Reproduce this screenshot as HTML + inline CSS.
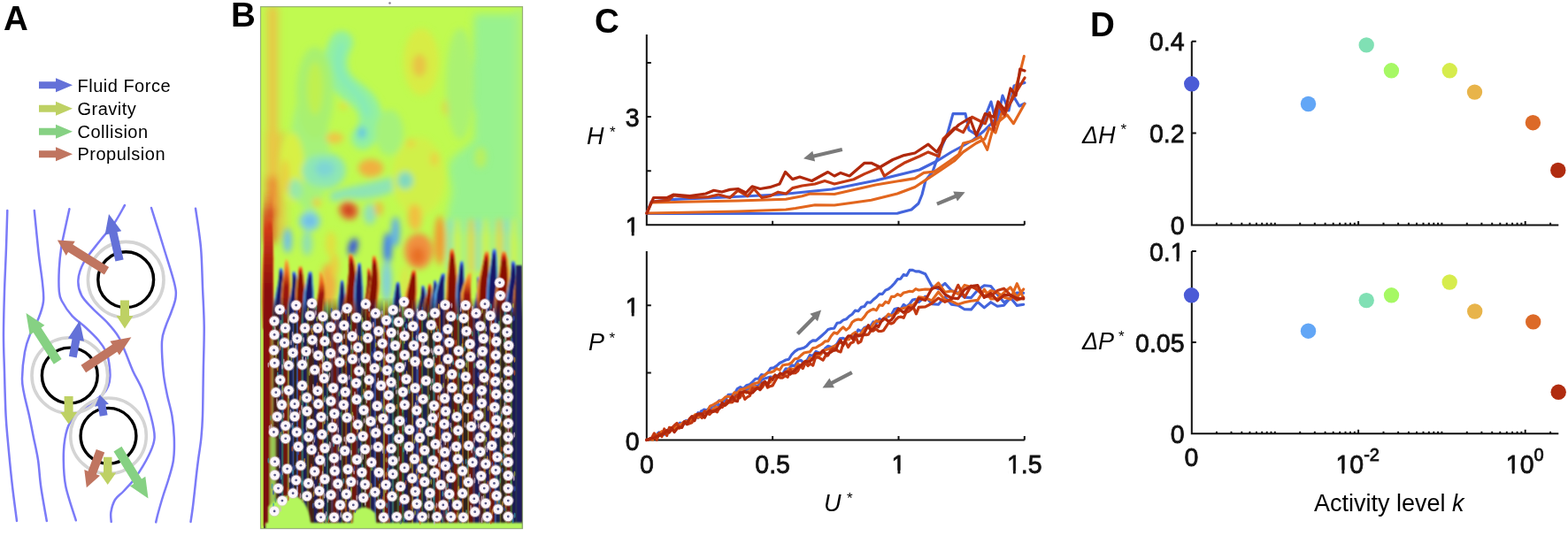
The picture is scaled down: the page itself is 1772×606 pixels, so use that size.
<!DOCTYPE html>
<html><head><meta charset="utf-8"><title>Figure</title>
<style>
html,body{margin:0;padding:0;background:#fff;}
body{width:1772px;height:606px;overflow:hidden;}
svg{display:block;}
text{font-family:"Liberation Sans",Arial,Helvetica,sans-serif;fill:#000;}
.lbl{font-size:38.5px;font-weight:bold;}
.leg{font-size:20px;letter-spacing:0.5px;}
.tk{font-size:28.5px;fill:#111;stroke:#111;stroke-width:0.75px;}
.sup{font-size:20px;}
.it{font-size:27px;font-style:italic;}
.ast{font-size:17px;}
.xl{font-size:27px;}
</style></head><body>
<svg width="1772" height="606" viewBox="0 0 1772 606">
<rect width="1772" height="606" fill="#fff"/>
<text x="4" y="34" class="lbl">A</text>
<polygon points="44,100.3 63,100.3 63,104.3 82,96.3 63,88.3 63,92.3 44,92.3" fill="#6471d8"/>
<text x="87.5" y="104" class="leg">Fluid Force</text>
<polygon points="44,126.7 63,126.7 63,130.7 82,122.7 63,114.7 63,118.7 44,118.7" fill="#bed164"/>
<text x="87.5" y="130" class="leg">Gravity</text>
<polygon points="44,152.7 63,152.7 63,156.7 82,148.7 63,140.7 63,144.7 44,144.7" fill="#86d183"/>
<text x="87.5" y="155.5" class="leg">Collision</text>
<polygon points="44,178.2 63,178.2 63,182.2 82,174.2 63,166.2 63,170.2 44,170.2" fill="#c07560"/>
<text x="87.5" y="181" class="leg">Propulsion</text>
<path d="M8.3,238 C8.1,245 7.5,264.7 7,280 C6.5,295.3 5.5,313.3 5,330 C4.5,346.7 4,365 4,380 C4,395 4.6,405 5,420 C5.4,435 5.9,456.7 6.6,470 C7.3,483.3 7.8,486.7 9,500 C10.2,513.3 12.3,535.2 14,550 C15.7,564.8 18.2,582.5 19,589" fill="none" stroke="#7b7bf8" stroke-width="2.5" stroke-linecap="round"/>
<path d="M38.8,238 C39.6,245.8 42,271.3 43.5,285 C45,298.7 47.1,310.7 48,320 C48.9,329.3 49.8,334.3 49,341 C48.2,347.7 46,353.8 43.5,360 C41,366.2 36.6,371.7 34,378 C31.4,384.3 29.5,389.7 28,398 C26.5,406.3 25.1,420.2 25,428 C24.9,435.8 25.9,438 27.2,445 C28.5,452 31.2,461.7 33,470 C34.8,478.3 36.3,486.7 38,495 C39.7,503.3 41.6,510.8 43,520 C44.4,529.2 44.6,538.5 46.2,550 C47.8,561.5 51.7,582.5 52.8,589" fill="none" stroke="#7b7bf8" stroke-width="2.5" stroke-linecap="round"/>
<path d="M78.4,236.3 C77.4,240.8 74.1,255.8 72.6,263 C71.1,270.2 70.3,272.7 69.3,279.5 C68.3,286.3 67.2,295.8 66.8,304 C66.4,312.2 66.3,323 66.8,329 C67.3,335 67.2,335.3 69.7,340 C72.2,344.7 77,352.2 81.5,357.2 C86,362.2 91.5,365.4 96.5,370 C101.5,374.6 107.6,380.3 111.5,385 C115.4,389.7 118.1,393.7 120.1,398 C122.1,402.3 122.6,406.2 123.3,410.8 C124,415.4 124.6,421.6 124.4,425.9 C124.2,430.2 123.5,433.4 122.3,436.6 C121,439.8 120.1,442 116.9,445.2 C113.7,448.4 107.1,452.8 103,456 C98.9,459.2 96.2,460.8 92.2,464.5 C88.2,468.2 82.1,472.8 79,478 C75.9,483.2 74.6,489 73.4,496 C72.2,503 71.7,511 71.8,520 C71.9,529 72,538.6 74.3,550 C76.6,561.4 83.9,581.9 85.8,588.3" fill="none" stroke="#7b7bf8" stroke-width="2.5" stroke-linecap="round"/>
<path d="M141,232 C139,235.4 133.8,245.6 129.2,252.3 C124.5,259 118.9,264.6 113.1,272 C107.3,279.4 98.7,289.4 94.6,296.8 C90.5,304.2 88.8,310.4 88.4,316.6 C88,322.8 89.4,328.5 92.1,333.9 C94.8,339.2 99.5,343.4 104.5,348.7 C109.5,354 117.4,360.4 122.3,365.8 C127.2,371.2 130.8,375.4 134,380.8 C137.2,386.2 138.9,391.6 141.6,398 C144.3,404.4 147,412.2 150.2,419.4 C153.4,426.5 157.5,432.5 160.9,440.9 C164.3,449.3 168.1,461 170.4,470 C172.7,479 175,487.5 174.6,495 C174.2,502.5 171.6,507.5 168,515 C164.4,522.5 157.7,533.3 153,540 C148.3,546.7 143.8,550.8 140,555 C136.2,559.2 132.4,561 130,565 C127.6,569 126.1,574.8 125.4,579 C124.7,583.2 125.7,588.2 125.7,590" fill="none" stroke="#7b7bf8" stroke-width="2.5" stroke-linecap="round"/>
<path d="M171,235 C173.3,242.5 180.7,265.8 185,280 C189.3,294.2 194.8,310.6 197,320 C199.2,329.4 199.1,331 198.5,336.5 C197.9,342 195.4,347.5 193.5,353 C191.6,358.5 188.8,364 187,369.5 C185.2,375 183.4,377.6 183,386 C182.6,394.4 183.6,410.2 184.5,420 C185.4,429.8 186.9,436.7 188.6,445 C190.2,453.3 193,461.7 194.4,470 C195.8,478.3 196.5,486.7 196.8,495 C197.1,503.3 197,512.5 196,520 C195,527.5 192.9,533.3 191,540 C189.1,546.7 186.6,553.3 184.5,560 C182.4,566.7 180.1,574.9 178.7,580 C177.3,585.1 176.6,588.7 176.2,590.4" fill="none" stroke="#7b7bf8" stroke-width="2.5" stroke-linecap="round"/>
<path d="M221,235.7 C222,243.1 225.7,265.1 227,280 C228.3,294.9 228.4,310 229,325 C229.6,340 230.6,354.2 230.7,370 C230.8,385.8 230.1,403.3 229.8,420 C229.5,436.7 229.4,457.5 229,470 C228.6,482.5 228.2,486.7 227.4,495 C226.6,503.3 225,512.5 224,520 C223,527.5 222.5,531.7 221.6,540 C220.7,548.3 219.3,561.7 218.3,570 C217.3,578.3 216,586.7 215.5,590" fill="none" stroke="#7b7bf8" stroke-width="2.5" stroke-linecap="round"/>
<circle cx="142.2" cy="316.2" r="42.8" fill="none" stroke="#d4d4d4" stroke-width="3.6"/>
<circle cx="78.8" cy="424.5" r="42.8" fill="none" stroke="#d4d4d4" stroke-width="3.6"/>
<circle cx="122.5" cy="492.8" r="42.8" fill="none" stroke="#d4d4d4" stroke-width="3.6"/>
<circle cx="142.2" cy="316.2" r="31.4" fill="none" stroke="#000" stroke-width="3.4"/>
<circle cx="78.8" cy="424.5" r="31.4" fill="none" stroke="#000" stroke-width="3.4"/>
<circle cx="122.5" cy="492.8" r="31.4" fill="none" stroke="#000" stroke-width="3.4"/>
<polygon points="139.6,293.4 132.5,262.3 137.2,261.2 123,241.9 118.6,265.5 123.3,264.4 130.4,295.6" fill="#6471d8"/>
<polygon points="123.1,302 82.4,276.6 84.8,272.8 64.9,271.6 74.7,288.9 77.1,285.1 117.9,310.4" fill="#c07560"/>
<polygon points="136,339.6 136,357 131.5,357 141,371.5 150.5,357 146,357 146,339.6" fill="#bed164"/>
<polygon points="69.6,405.9 46.5,370.4 50.4,367.8 29.5,354 33.7,378.7 37.7,376.1 60.8,411.7" fill="#86d183"/>
<polygon points="86.7,404.4 90.4,385 95,385.8 90,362.5 76.9,382.4 81.5,383.3 77.9,402.8" fill="#6471d8"/>
<polygon points="97.1,421.2 132.4,397.8 134.9,401.5 148.4,381.2 124.4,385.7 126.9,389.4 91.5,412.8" fill="#c07560"/>
<polygon points="72.6,448 72.6,465.9 68.1,465.9 77.6,479.4 87.1,465.9 82.6,465.9 82.6,448" fill="#bed164"/>
<polygon points="121.6,469.2 119.4,457.4 122.9,456.7 112.8,446.4 107.1,459.7 110.6,459 112.8,470.8" fill="#6471d8"/>
<polygon points="108.8,507.9 99.5,532.7 95.3,531.1 97.8,551.3 113,537.8 108.8,536.2 118.2,511.5" fill="#c07560"/>
<polygon points="117,516.8 117,534.4 112.2,534.4 121.7,547.9 131.2,534.4 126.5,534.4 126.5,516.8" fill="#bed164"/>
<polygon points="128.5,510.4 151.1,546.9 146.9,549.6 167.5,563.5 164.3,538.8 160,541.4 137.5,504.8" fill="#86d183"/>
<text x="261" y="30.4" class="lbl">B</text>
<defs><clipPath id="cb"><rect x="294" y="7" width="297" height="591"/></clipPath>
<filter id="bl5" x="-50%" y="-50%" width="200%" height="200%"><feGaussianBlur stdDeviation="5"/></filter>
<filter id="bl3" x="-50%" y="-50%" width="200%" height="200%"><feGaussianBlur stdDeviation="3.6"/></filter>
<filter id="bl15" x="-50%" y="-50%" width="200%" height="200%"><feGaussianBlur stdDeviation="1.3"/></filter>
<filter id="bl08" x="-50%" y="-50%" width="200%" height="200%"><feGaussianBlur stdDeviation="0.6"/></filter>
<linearGradient id="gr" x1="0" y1="0" x2="0" y2="1"><stop offset="0" stop-color="#f09838" stop-opacity="0"/><stop offset="0.04" stop-color="#f07828"/><stop offset="0.09" stop-color="#c81c0a"/><stop offset="0.15" stop-color="#8c0806"/><stop offset="1" stop-color="#7a0606"/></linearGradient>
<linearGradient id="gb" x1="0" y1="0" x2="0" y2="1"><stop offset="0" stop-color="#50a0f0" stop-opacity="0"/><stop offset="0.04" stop-color="#3868e8"/><stop offset="0.09" stop-color="#1c1ca0"/><stop offset="0.15" stop-color="#18146a"/><stop offset="1" stop-color="#1a1460"/></linearGradient>
<linearGradient id="go" x1="0" y1="0" x2="0" y2="1"><stop offset="0" stop-color="#f0c040" stop-opacity="0"/><stop offset="0.06" stop-color="#f0a838"/><stop offset="0.2" stop-color="#e86820"/><stop offset="0.4" stop-color="#a01808"/><stop offset="1" stop-color="#801008"/></linearGradient>
<linearGradient id="pmg" gradientUnits="userSpaceOnUse" x1="0" y1="336" x2="0" y2="362"><stop offset="0" stop-color="#fff" stop-opacity="0"/><stop offset="1" stop-color="#fff" stop-opacity="1"/></linearGradient>
<mask id="pm" maskUnits="userSpaceOnUse" x="290" y="300" width="310" height="310"><rect x="290" y="300" width="310" height="310" fill="url(#pmg)"/></mask>
<linearGradient id="hr" x1="0" y1="0" x2="0" y2="1"><stop offset="0" stop-color="#f0d040" stop-opacity="0"/><stop offset="0.12" stop-color="#f0c040"/><stop offset="0.5" stop-color="#f09030"/><stop offset="1" stop-color="#c04018"/></linearGradient>
<linearGradient id="hb" x1="0" y1="0" x2="0" y2="1"><stop offset="0" stop-color="#70d0e0" stop-opacity="0"/><stop offset="0.12" stop-color="#70c8e8"/><stop offset="0.5" stop-color="#50a0f0"/><stop offset="1" stop-color="#2850c0"/></linearGradient>
</defs>
<g clip-path="url(#cb)">
<rect x="294" y="7" width="297" height="591" fill="#c0fa50"/>
<g filter="url(#bl5)">
<path d="M536,16 L588,16 L588,262 L509,262 C503,250 506,236 510,222 C513,206 503,196 508,184 C512,174 530,166 536,157 L536,126 L516,106 L516,89 L534,69 Z" fill="#98f28e"/>
<rect x="582" y="10" width="9" height="260" fill="#a8f27e"/>
<rect x="300" y="150" width="24" height="120" fill="#e8c444" opacity="0.7"/>
<rect x="302.5" y="7" width="11" height="215" fill="#ecc244"/>
<rect x="301" y="200" width="13" height="45" fill="#ec8a34"/>
<rect x="300" y="235" width="11" height="40" fill="#d84420"/>
</g>
<g filter="url(#bl3)">
<path d="M386,48 C378,62 376,80 388,94 C398,106 414,110 418,128 C421,140 416,150 410,156" fill="none" stroke="#92f0a0" stroke-width="26" stroke-linecap="round"/>
<path d="M386,52 C381,64 380,80 390,92 C400,104 412,112 415,128" fill="none" stroke="#86eab8" stroke-width="8" stroke-linecap="round"/>
<path d="M364,178 C346,180 342,196 352,206 C364,214 382,208 386,196 C388,184 378,176 364,178 Z" fill="none" stroke="#8ee6b4" stroke-width="9"/>
<path d="M378,222 C400,214 440,210 470,196" fill="none" stroke="#8ee4b4" stroke-width="11" stroke-linecap="round"/>
<rect x="506" y="248" width="5" height="60" fill="#86dcc8"/>
<rect x="514" y="248" width="5" height="60" fill="#d0f048"/>
<rect x="522" y="248" width="5" height="60" fill="#98ee98"/>
<rect x="530" y="248" width="5" height="60" fill="#e8c848"/>
<rect x="538" y="248" width="5" height="60" fill="#86dcc8"/>
<rect x="546" y="248" width="5" height="60" fill="#d0f048"/>
<rect x="554" y="248" width="5" height="60" fill="#98ee98"/>
<rect x="562" y="248" width="5" height="60" fill="#e8c848"/>
<rect x="570" y="248" width="5" height="60" fill="#86dcc8"/>
<rect x="578" y="248" width="5" height="60" fill="#d0f048"/>
<rect x="586" y="248" width="5" height="60" fill="#98ee98"/>
<ellipse cx="350" cy="170" rx="22" ry="70" fill="#a6f27a"/>
<ellipse cx="440" cy="150" rx="16" ry="26" fill="#a6f27a"/>
<ellipse cx="356" cy="105" rx="21" ry="52" fill="#a8f070"/>
<ellipse cx="356" cy="100" rx="9" ry="30" fill="#c0f050"/>
<ellipse cx="409" cy="150" rx="5" ry="7" fill="#64c8e0"/>
<ellipse cx="388" cy="120" rx="5" ry="4" fill="#e0e040"/>
<ellipse cx="476" cy="70" rx="20" ry="38" fill="#d8ec44"/>
<ellipse cx="474" cy="74" rx="8" ry="13" fill="#e8c444"/>
<ellipse cx="507" cy="121" rx="7" ry="10" fill="#e0d444"/>
<ellipse cx="520" cy="95" rx="16" ry="63" fill="#aaf272"/>
<ellipse cx="330" cy="190" rx="14" ry="40" fill="#d8f044"/>
<ellipse cx="322" cy="200" rx="5" ry="20" fill="#e8d040"/>
<ellipse cx="378" cy="156" rx="10" ry="6" fill="#f0c444"/>
<ellipse cx="364" cy="193" rx="23" ry="18" fill="#8ee6b4"/>
<ellipse cx="367" cy="191" rx="11" ry="9" fill="#7ed6d4"/>
<ellipse cx="419" cy="190" rx="14" ry="10" fill="#f0b040"/>
<ellipse cx="418" cy="216" rx="30" ry="8" fill="#8ee4b4" transform="rotate(-8 418 216)"/>
<ellipse cx="358" cy="229" rx="5" ry="5" fill="#e8d040"/>
<ellipse cx="394" cy="238" rx="11" ry="10" fill="#e26430" transform="rotate(35 394 238)"/>
<ellipse cx="394" cy="238" rx="5" ry="4" fill="#c03010" transform="rotate(35 394 238)"/>
<ellipse cx="350" cy="250" rx="12" ry="11" fill="#80d0e0"/>
<ellipse cx="350" cy="250" rx="6" ry="5" fill="#6cbce8"/>
<ellipse cx="334" cy="214" rx="8" ry="12" fill="#98e8a8"/>
<ellipse cx="473" cy="200" rx="30" ry="45" fill="#d0f048"/>
<ellipse cx="464" cy="162" rx="5" ry="5" fill="#e8d444"/>
<ellipse cx="491" cy="180" rx="5" ry="8" fill="#e8d444"/>
<ellipse cx="458" cy="204" rx="9" ry="10" fill="#80d8c0"/>
<ellipse cx="543" cy="178" rx="7" ry="12" fill="#b8f060"/>
<ellipse cx="470" cy="246" rx="7" ry="15" fill="#f0c444"/>
<ellipse cx="473" cy="284" rx="16" ry="20" fill="#f09040"/>
<ellipse cx="472" cy="289" rx="8" ry="10" fill="#e87028"/>
<ellipse cx="447" cy="262" rx="5" ry="17" fill="#60b0e8"/>
<ellipse cx="438" cy="281" rx="5" ry="18" fill="#4080f0"/>
<ellipse cx="399" cy="279" rx="5" ry="10" fill="#3050e0" transform="rotate(15 399 279)"/>
<ellipse cx="418" cy="242" rx="7" ry="12" fill="#90e0b8"/>
<ellipse cx="428" cy="236" rx="5" ry="8" fill="#e8c040"/>
<ellipse cx="325" cy="272" rx="5" ry="14" fill="#70c0e8"/>
<ellipse cx="497" cy="272" rx="6" ry="28" fill="#f09a30"/>
<ellipse cx="467" cy="245" rx="6" ry="14" fill="#f0c040"/>
<ellipse cx="371" cy="322" rx="9" ry="24" fill="#f0b040"/>
<ellipse cx="437" cy="318" rx="6" ry="24" fill="#80d0d8"/>
<ellipse cx="458" cy="322" rx="5" ry="22" fill="#d8e848"/>
<ellipse cx="378" cy="300" rx="5" ry="14" fill="#e8d040"/>
<ellipse cx="347" cy="275" rx="6" ry="14" fill="#90e0b0"/>
<ellipse cx="374" cy="276" rx="6" ry="14" fill="#e0e040"/>
</g>
<g filter="url(#bl15)">
<path d="M303,245 L301.8,260.9 L300.4,276.8 L299,292.6 L298.4,308.5 L298.2,324.4 L298.3,340.2 L298.7,356.1 L299.2,372 L308.6,372 L308.1,356.1 L307.8,340.2 L307.7,324.4 L307.8,308.5 L308.1,292.6 L307.7,276.8 L307.3,260.9 L306.8,245 Z" fill="url(#hr)" transform="translate(304 372) scale(1.4 1) translate(-304 -372)"/>
<path d="M303,245 L301.8,260.9 L300.4,276.8 L299,292.6 L298.4,308.5 L298.2,324.4 L298.3,340.2 L298.7,356.1 L299.2,372 L308.6,372 L308.1,356.1 L307.8,340.2 L307.7,324.4 L307.8,308.5 L308.1,292.6 L307.7,276.8 L307.3,260.9 L306.8,245 Z" fill="url(#gr)"/>
<path d="M315.8,302 L315.4,310.8 L314.5,319.5 L313.1,328.2 L311.9,337 L310.9,345.8 L310.1,354.5 L309.7,363.2 L309.9,372 L317.3,372 L317.1,363.2 L317.4,354.5 L318.2,345.8 L319.3,337 L320.2,328.2 L320.2,319.5 L319.8,310.8 L318.8,302 Z" fill="url(#hb)" transform="translate(315.5 372) scale(1.4 1) translate(-315.5 -372)"/>
<path d="M315.8,302 L315.4,310.8 L314.5,319.5 L313.1,328.2 L311.9,337 L310.9,345.8 L310.1,354.5 L309.7,363.2 L309.9,372 L317.3,372 L317.1,363.2 L317.4,354.5 L318.2,345.8 L319.3,337 L320.2,328.2 L320.2,319.5 L319.8,310.8 L318.8,302 Z" fill="url(#gb)"/>
<path d="M322.2,292 L321.7,302 L321,312 L320,322 L319.5,332 L319,342 L318.7,352 L318.4,362 L318.5,372 L325.8,372 L325.8,362 L326,352 L326.4,342 L326.8,332 L327.1,322 L326.7,312 L326.1,302 L325.2,292 Z" fill="url(#hr)" transform="translate(323 372) scale(1.4 1) translate(-323 -372)"/>
<path d="M322.2,292 L321.7,302 L321,312 L320,322 L319.5,332 L319,342 L318.7,352 L318.4,362 L318.5,372 L325.8,372 L325.8,362 L326,352 L326.4,342 L326.8,332 L327.1,322 L326.7,312 L326.1,302 L325.2,292 Z" fill="url(#go)"/>
<path d="M330.4,306 L330.6,314.2 L330.2,322.5 L329.2,330.8 L328.1,339 L326.9,347.2 L325.6,355.5 L324.7,363.8 L324.3,372 L331.6,372 L332,363.8 L333,355.5 L334.2,347.2 L335.5,339 L336.2,330.8 L335.9,322.5 L334.9,314.2 L333.4,306 Z" fill="url(#hb)" transform="translate(330.5 372) scale(1.4 1) translate(-330.5 -372)"/>
<path d="M330.4,306 L330.6,314.2 L330.2,322.5 L329.2,330.8 L328.1,339 L326.9,347.2 L325.6,355.5 L324.7,363.8 L324.3,372 L331.6,372 L332,363.8 L333,355.5 L334.2,347.2 L335.5,339 L336.2,330.8 L335.9,322.5 L334.9,314.2 L333.4,306 Z" fill="url(#gb)"/>
<path d="M337.9,300 L337.2,309 L336.4,318 L335.7,327 L335.5,336 L335.4,345 L335.3,354 L335.2,363 L335.1,372 L343.5,372 L343.6,363 L343.7,354 L343.8,345 L343.9,336 L343.8,327 L343,318 L342.1,309 L341.2,300 Z" fill="url(#hr)" transform="translate(339.5 372) scale(1.4 1) translate(-339.5 -372)"/>
<path d="M337.9,300 L337.2,309 L336.4,318 L335.7,327 L335.5,336 L335.4,345 L335.3,354 L335.2,363 L335.1,372 L343.5,372 L343.6,363 L343.7,354 L343.8,345 L343.9,336 L343.8,327 L343,318 L342.1,309 L341.2,300 Z" fill="url(#gr)"/>
<path d="M348.9,306 L347.8,314.2 L346.6,322.5 L345.4,330.8 L345,339 L345,347.2 L345.2,355.5 L345.5,363.8 L345.9,372 L354.3,372 L353.9,363.8 L353.6,355.5 L353.4,347.2 L353.4,339 L353.5,330.8 L353.1,322.5 L352.7,314.2 L352.3,306 Z" fill="url(#hb)" transform="translate(350 372) scale(1.4 1) translate(-350 -372)"/>
<path d="M348.9,306 L347.8,314.2 L346.6,322.5 L345.4,330.8 L345,339 L345,347.2 L345.2,355.5 L345.5,363.8 L345.9,372 L354.3,372 L353.9,363.8 L353.6,355.5 L353.4,347.2 L353.4,339 L353.5,330.8 L353.1,322.5 L352.7,314.2 L352.3,306 Z" fill="url(#gb)"/>
<path d="M360.8,306 L361.1,314.2 L360.8,322.5 L359.9,330.8 L358.8,339 L357.6,347.2 L356.3,355.5 L355.2,363.8 L354.7,372 L362,372 L362.6,363.8 L363.6,355.5 L364.9,347.2 L366.2,339 L366.9,330.8 L366.5,322.5 L365.4,314.2 L363.7,306 Z" fill="url(#hr)" transform="translate(361 372) scale(1.4 1) translate(-361 -372)"/>
<path d="M360.8,306 L361.1,314.2 L360.8,322.5 L359.9,330.8 L358.8,339 L357.6,347.2 L356.3,355.5 L355.2,363.8 L354.7,372 L362,372 L362.6,363.8 L363.6,355.5 L364.9,347.2 L366.2,339 L366.9,330.8 L366.5,322.5 L365.4,314.2 L363.7,306 Z" fill="url(#go)"/>
<path d="M385.2,316 L384.7,323 L384.1,330 L383.5,337 L383.4,344 L383.4,351 L383.4,358 L383.3,365 L383.3,372 L389.6,372 L389.6,365 L389.7,358 L389.7,351 L389.7,344 L389.6,337 L389,330 L388.4,323 L387.8,316 Z" fill="url(#hb)" transform="translate(386.5 372) scale(1.4 1) translate(-386.5 -372)"/>
<path d="M385.2,316 L384.7,323 L384.1,330 L383.5,337 L383.4,344 L383.4,351 L383.4,358 L383.3,365 L383.3,372 L389.6,372 L389.6,365 L389.7,358 L389.7,351 L389.7,344 L389.6,337 L389,330 L388.4,323 L387.8,316 Z" fill="url(#gb)"/>
<path d="M394.1,286 L394.4,296.8 L394.1,307.5 L393.1,318.2 L392.1,329 L390.9,339.8 L389.5,350.5 L388.3,361.2 L387.6,372 L397,372 L397.7,361.2 L398.9,350.5 L400.3,339.8 L401.6,329 L402.2,318.2 L401.4,307.5 L399.9,296.8 L397.9,286 Z" fill="url(#hr)" transform="translate(395 372) scale(1.4 1) translate(-395 -372)"/>
<path d="M394.1,286 L394.4,296.8 L394.1,307.5 L393.1,318.2 L392.1,329 L390.9,339.8 L389.5,350.5 L388.3,361.2 L387.6,372 L397,372 L397.7,361.2 L398.9,350.5 L400.3,339.8 L401.6,329 L402.2,318.2 L401.4,307.5 L399.9,296.8 L397.9,286 Z" fill="url(#gr)"/>
<path d="M404.7,296 L403.8,305.5 L402.9,315 L402.1,324.5 L401.9,334 L402,343.5 L402.1,353 L402.3,362.5 L402.5,372 L409.9,372 L409.7,362.5 L409.5,353 L409.3,343.5 L409.3,334 L409.2,324.5 L408.6,315 L408.1,305.5 L407.6,296 Z" fill="url(#hb)" transform="translate(406 372) scale(1.4 1) translate(-406 -372)"/>
<path d="M404.7,296 L403.8,305.5 L402.9,315 L402.1,324.5 L401.9,334 L402,343.5 L402.1,353 L402.3,362.5 L402.5,372 L409.9,372 L409.7,362.5 L409.5,353 L409.3,343.5 L409.3,334 L409.2,324.5 L408.6,315 L408.1,305.5 L407.6,296 Z" fill="url(#gb)"/>
<path d="M415.1,302 L415.4,310.8 L415.1,319.5 L414.2,328.2 L413.2,337 L411.9,345.8 L410.7,354.5 L409.7,363.2 L409.3,372 L415.6,372 L416,363.2 L417,354.5 L418.2,345.8 L419.5,337 L420.3,328.2 L420,319.5 L419.1,310.8 L417.6,302 Z" fill="url(#hr)" transform="translate(415 372) scale(1.4 1) translate(-415 -372)"/>
<path d="M415.1,302 L415.4,310.8 L415.1,319.5 L414.2,328.2 L413.2,337 L411.9,345.8 L410.7,354.5 L409.7,363.2 L409.3,372 L415.6,372 L416,363.2 L417,354.5 L418.2,345.8 L419.5,337 L420.3,328.2 L420,319.5 L419.1,310.8 L417.6,302 Z" fill="url(#gr)"/>
<path d="M420.9,288 L420.8,298.5 L420.2,309 L418.9,319.5 L417.8,330 L416.6,340.5 L415.4,351 L414.6,361.5 L414.3,372 L422.7,372 L423,361.5 L423.8,351 L425,340.5 L426.2,330 L427,319.5 L426.7,309 L425.8,298.5 L424.2,288 Z" fill="url(#hr)" transform="translate(421 372) scale(1.4 1) translate(-421 -372)"/>
<path d="M420.9,288 L420.8,298.5 L420.2,309 L418.9,319.5 L417.8,330 L416.6,340.5 L415.4,351 L414.6,361.5 L414.3,372 L422.7,372 L423,361.5 L423.8,351 L425,340.5 L426.2,330 L427,319.5 L426.7,309 L425.8,298.5 L424.2,288 Z" fill="url(#gr)"/>
<path d="M448.2,318 L447.3,324.8 L446.4,331.5 L445.6,338.2 L445.4,345 L445.4,351.8 L445.6,358.5 L445.8,365.2 L446,372 L453.4,372 L453.2,365.2 L452.9,358.5 L452.8,351.8 L452.7,345 L452.6,338.2 L452.1,331.5 L451.6,324.8 L451.2,318 Z" fill="url(#hb)" transform="translate(449.5 372) scale(1.4 1) translate(-449.5 -372)"/>
<path d="M448.2,318 L447.3,324.8 L446.4,331.5 L445.6,338.2 L445.4,345 L445.4,351.8 L445.6,358.5 L445.8,365.2 L446,372 L453.4,372 L453.2,365.2 L452.9,358.5 L452.8,351.8 L452.7,345 L452.6,338.2 L452.1,331.5 L451.6,324.8 L451.2,318 Z" fill="url(#gb)"/>
<path d="M465.9,304 L464.4,312.5 L462.6,321 L460.8,329.5 L459.8,338 L459.4,346.5 L459.4,355 L459.9,363.5 L460.8,372 L470.3,372 L469.4,363.5 L468.9,355 L468.8,346.5 L469.2,338 L469.9,329.5 L470,321 L470,312.5 L469.7,304 Z" fill="url(#hr)" transform="translate(466 372) scale(1.4 1) translate(-466 -372)"/>
<path d="M465.9,304 L464.4,312.5 L462.6,321 L460.8,329.5 L459.8,338 L459.4,346.5 L459.4,355 L459.9,363.5 L460.8,372 L470.3,372 L469.4,363.5 L468.9,355 L468.8,346.5 L469.2,338 L469.9,329.5 L470,321 L470,312.5 L469.7,304 Z" fill="url(#gr)"/>
<path d="M476.5,322 L476.4,328.2 L475.7,334.5 L474.5,340.8 L473.3,347 L472.2,353.2 L471.2,359.5 L470.7,365.8 L470.7,372 L477,372 L477,365.8 L477.5,359.5 L478.5,353.2 L479.6,347 L480.5,340.8 L480.6,334.5 L480.1,328.2 L479,322 Z" fill="url(#hb)" transform="translate(476 372) scale(1.4 1) translate(-476 -372)"/>
<path d="M476.5,322 L476.4,328.2 L475.7,334.5 L474.5,340.8 L473.3,347 L472.2,353.2 L471.2,359.5 L470.7,365.8 L470.7,372 L477,372 L477,365.8 L477.5,359.5 L478.5,353.2 L479.6,347 L480.5,340.8 L480.6,334.5 L480.1,328.2 L479,322 Z" fill="url(#gb)"/>
<path d="M484.4,320 L483.7,326.5 L482.5,333 L481.2,339.5 L480.2,346 L479.6,352.5 L479.2,359 L479.3,365.5 L479.8,372 L486.1,372 L485.6,365.5 L485.5,359 L485.9,352.5 L486.5,346 L487.2,339.5 L487.4,333 L487.4,326.5 L486.9,320 Z" fill="url(#hr)" transform="translate(484 372) scale(1.4 1) translate(-484 -372)"/>
<path d="M484.4,320 L483.7,326.5 L482.5,333 L481.2,339.5 L480.2,346 L479.6,352.5 L479.2,359 L479.3,365.5 L479.8,372 L486.1,372 L485.6,365.5 L485.5,359 L485.9,352.5 L486.5,346 L487.2,339.5 L487.4,333 L487.4,326.5 L486.9,320 Z" fill="url(#gr)"/>
<path d="M490.3,316 L489.9,323 L489.3,330 L488.5,337 L488.1,344 L487.7,351 L487.4,358 L487.1,365 L487.1,372 L493.4,372 L493.4,365 L493.7,358 L494,351 L494.4,344 L494.6,337 L494.2,330 L493.6,323 L492.8,316 Z" fill="url(#hb)" transform="translate(491 372) scale(1.4 1) translate(-491 -372)"/>
<path d="M490.3,316 L489.9,323 L489.3,330 L488.5,337 L488.1,344 L487.7,351 L487.4,358 L487.1,365 L487.1,372 L493.4,372 L493.4,365 L493.7,358 L494,351 L494.4,344 L494.6,337 L494.2,330 L493.6,323 L492.8,316 Z" fill="url(#gb)"/>
<path d="M499.5,308 L497.4,316 L495.3,324 L493.6,332 L493.1,340 L493.5,348 L494.4,356 L495.7,364 L497.1,372 L505.5,372 L504.1,364 L502.8,356 L501.9,348 L501.5,340 L501.7,332 L501.8,324 L502.3,316 L502.9,308 Z" fill="url(#hb)" transform="translate(500 372) scale(1.4 1) translate(-500 -372)"/>
<path d="M499.5,308 L497.4,316 L495.3,324 L493.6,332 L493.1,340 L493.5,348 L494.4,356 L495.7,364 L497.1,372 L505.5,372 L504.1,364 L502.8,356 L501.9,348 L501.5,340 L501.7,332 L501.8,324 L502.3,316 L502.9,308 Z" fill="url(#gb)"/>
<path d="M508.8,280 L508.1,291.5 L507.3,303 L506.4,314.5 L506.1,326 L505.8,337.5 L505.6,349 L505.4,360.5 L505.3,372 L514.8,372 L514.9,360.5 L515.1,349 L515.3,337.5 L515.5,326 L515.5,314.5 L514.6,303 L513.7,291.5 L512.6,280 Z" fill="url(#hr)" transform="translate(510.5 372) scale(1.4 1) translate(-510.5 -372)"/>
<path d="M508.8,280 L508.1,291.5 L507.3,303 L506.4,314.5 L506.1,326 L505.8,337.5 L505.6,349 L505.4,360.5 L505.3,372 L514.8,372 L514.9,360.5 L515.1,349 L515.3,337.5 L515.5,326 L515.5,314.5 L514.6,303 L513.7,291.5 L512.6,280 Z" fill="url(#gr)"/>
<path d="M520.4,294 L519.4,303.8 L518.4,313.5 L517.5,323.2 L517.2,333 L517.2,342.8 L517.4,352.5 L517.7,362.2 L518,372 L525.4,372 L525.1,362.2 L524.8,352.5 L524.6,342.8 L524.6,333 L524.5,323.2 L524.1,313.5 L523.7,303.8 L523.3,294 Z" fill="url(#hb)" transform="translate(521.5 372) scale(1.4 1) translate(-521.5 -372)"/>
<path d="M520.4,294 L519.4,303.8 L518.4,313.5 L517.5,323.2 L517.2,333 L517.2,342.8 L517.4,352.5 L517.7,362.2 L518,372 L525.4,372 L525.1,362.2 L524.8,352.5 L524.6,342.8 L524.6,333 L524.5,323.2 L524.1,313.5 L523.7,303.8 L523.3,294 Z" fill="url(#gb)"/>
<path d="M529.6,307 L527.4,315.1 L525.3,323.2 L523.7,331.4 L523.5,339.5 L524.1,347.6 L525.3,355.8 L526.7,363.9 L528,372 L536.4,372 L535.1,363.9 L533.7,355.8 L532.5,347.6 L531.9,339.5 L531.8,331.4 L531.8,323.2 L532.3,315.1 L533,307 Z" fill="url(#hr)" transform="translate(530.5 372) scale(1.4 1) translate(-530.5 -372)"/>
<path d="M529.6,307 L527.4,315.1 L525.3,323.2 L523.7,331.4 L523.5,339.5 L524.1,347.6 L525.3,355.8 L526.7,363.9 L528,372 L536.4,372 L535.1,363.9 L533.7,355.8 L532.5,347.6 L531.9,339.5 L531.8,331.4 L531.8,323.2 L532.3,315.1 L533,307 Z" fill="url(#go)"/>
<path d="M539.1,312 L539.5,319.5 L539.3,327 L538.5,334.5 L537.5,342 L536.3,349.5 L534.9,357 L533.8,364.5 L533.2,372 L540.5,372 L541.1,364.5 L542.3,357 L543.6,349.5 L544.9,342 L545.6,334.5 L545,327 L543.8,319.5 L542.1,312 Z" fill="url(#hb)" transform="translate(539.5 372) scale(1.4 1) translate(-539.5 -372)"/>
<path d="M539.1,312 L539.5,319.5 L539.3,327 L538.5,334.5 L537.5,342 L536.3,349.5 L534.9,357 L533.8,364.5 L533.2,372 L540.5,372 L541.1,364.5 L542.3,357 L543.6,349.5 L544.9,342 L545.6,334.5 L545,327 L543.8,319.5 L542.1,312 Z" fill="url(#gb)"/>
<path d="M548.4,283 L546.7,294.1 L544.8,305.2 L542.8,316.4 L541.9,327.5 L541.6,338.6 L541.9,349.8 L542.6,360.9 L543.7,372 L553.1,372 L552.1,360.9 L551.3,349.8 L551.1,338.6 L551.4,327.5 L551.9,316.4 L552.1,305.2 L552.3,294.1 L552.2,283 Z" fill="url(#hr)" transform="translate(548.5 372) scale(1.4 1) translate(-548.5 -372)"/>
<path d="M548.4,283 L546.7,294.1 L544.8,305.2 L542.8,316.4 L541.9,327.5 L541.6,338.6 L541.9,349.8 L542.6,360.9 L543.7,372 L553.1,372 L552.1,360.9 L551.3,349.8 L551.1,338.6 L551.4,327.5 L551.9,316.4 L552.1,305.2 L552.3,294.1 L552.2,283 Z" fill="url(#gr)"/>
<path d="M557,280 L555.9,291.5 L554.5,303 L553.1,314.5 L552.4,326 L552.1,337.5 L552.1,349 L552.4,360.5 L552.9,372 L561.3,372 L560.8,360.5 L560.5,349 L560.5,337.5 L560.8,326 L561.2,314.5 L561.1,303 L560.8,291.5 L560.4,280 Z" fill="url(#hb)" transform="translate(557.5 372) scale(1.4 1) translate(-557.5 -372)"/>
<path d="M557,280 L555.9,291.5 L554.5,303 L553.1,314.5 L552.4,326 L552.1,337.5 L552.1,349 L552.4,360.5 L552.9,372 L561.3,372 L560.8,360.5 L560.5,349 L560.5,337.5 L560.8,326 L561.2,314.5 L561.1,303 L560.8,291.5 L560.4,280 Z" fill="url(#gb)"/>
<path d="M567.2,283 L566.5,294.1 L565.3,305.2 L563.7,316.4 L562.4,327.5 L561.4,338.6 L560.5,349.8 L560.1,360.9 L560.3,372 L570.8,372 L570.6,360.9 L571,349.8 L571.9,338.6 L572.9,327.5 L573.8,316.4 L573.5,305.2 L572.7,294.1 L571.4,283 Z" fill="url(#hr)" transform="translate(567.5 372) scale(1.4 1) translate(-567.5 -372)"/>
<path d="M567.2,283 L566.5,294.1 L565.3,305.2 L563.7,316.4 L562.4,327.5 L561.4,338.6 L560.5,349.8 L560.1,360.9 L560.3,372 L570.8,372 L570.6,360.9 L571,349.8 L571.9,338.6 L572.9,327.5 L573.8,316.4 L573.5,305.2 L572.7,294.1 L571.4,283 Z" fill="url(#gr)"/>
<path d="M578,294 L577.8,303.8 L576.9,313.5 L575.5,323.2 L574.4,333 L573.2,342.8 L572.2,352.5 L571.6,362.2 L571.6,372 L580,372 L580,362.2 L580.6,352.5 L581.6,342.8 L582.8,333 L583.6,323.2 L583.4,313.5 L582.7,303.8 L581.4,294 Z" fill="url(#hb)" transform="translate(578 372) scale(1.4 1) translate(-578 -372)"/>
<path d="M578,294 L577.8,303.8 L576.9,313.5 L575.5,323.2 L574.4,333 L573.2,342.8 L572.2,352.5 L571.6,362.2 L571.6,372 L580,372 L580,362.2 L580.6,352.5 L581.6,342.8 L582.8,333 L583.6,323.2 L583.4,313.5 L582.7,303.8 L581.4,294 Z" fill="url(#gb)"/>
<path d="M585.8,302 L584.8,310.8 L583.7,319.5 L582.5,328.2 L582,337 L581.7,345.8 L581.8,354.5 L582.1,363.2 L582.6,372 L588.9,372 L588.4,363.2 L588.1,354.5 L588,345.8 L588.3,337 L588.6,328.2 L588.6,319.5 L588.5,310.8 L588.3,302 Z" fill="url(#hr)" transform="translate(586 372) scale(1.4 1) translate(-586 -372)"/>
<path d="M585.8,302 L584.8,310.8 L583.7,319.5 L582.5,328.2 L582,337 L581.7,345.8 L581.8,354.5 L582.1,363.2 L582.6,372 L588.9,372 L588.4,363.2 L588.1,354.5 L588,345.8 L588.3,337 L588.6,328.2 L588.6,319.5 L588.5,310.8 L588.3,302 Z" fill="url(#gr)"/>
</g>
<g mask="url(#pm)"><path d="M298,336 L298,600 L591,600 L591,336 Z" fill="#3a2228"/><g filter="url(#bl08)">
<rect x="298" y="335.4" width="4.6" height="258.6" fill="#6a1210"/>
<rect x="302.1" y="338.4" width="2.6" height="255.6" fill="#3e5a32"/>
<rect x="304.2" y="334.5" width="3.1" height="259.5" fill="#1c1a54"/>
<rect x="306.8" y="338.3" width="2.7" height="255.7" fill="#3e5a32"/>
<rect x="309.1" y="337.7" width="4.6" height="256.3" fill="#4a1a14"/>
<rect x="313.1" y="336" width="2.5" height="258" fill="#3e281c"/>
<rect x="315.2" y="340.2" width="3.4" height="253.8" fill="#241e58"/>
<rect x="318" y="338.2" width="2.9" height="255.8" fill="#306060"/>
<rect x="320.4" y="339.8" width="4.8" height="254.2" fill="#701810"/>
<rect x="324.6" y="334.6" width="2.9" height="259.4" fill="#887430"/>
<rect x="327" y="335.3" width="4" height="258.7" fill="#1c2250"/>
<rect x="330.6" y="337.9" width="2.2" height="256.1" fill="#384a88"/>
<rect x="332.3" y="339.3" width="3.1" height="254.7" fill="#2e221c"/>
<rect x="334.9" y="336.8" width="2.5" height="257.2" fill="#384a88"/>
<rect x="336.9" y="340.4" width="4" height="253.6" fill="#6a1210"/>
<rect x="340.4" y="341.6" width="3.3" height="252.4" fill="#306060"/>
<rect x="343.1" y="339.3" width="3.9" height="254.7" fill="#1c1a54"/>
<rect x="346.6" y="336.5" width="3.1" height="257.5" fill="#5a5428"/>
<rect x="349.2" y="339.4" width="4.2" height="254.6" fill="#4a1a14"/>
<rect x="352.8" y="337.1" width="2.4" height="256.9" fill="#3e281c"/>
<rect x="354.8" y="334.2" width="4.3" height="259.8" fill="#241e58"/>
<rect x="358.6" y="338.9" width="2.5" height="255.1" fill="#3e281c"/>
<rect x="360.6" y="335.7" width="4" height="258.3" fill="#701810"/>
<rect x="364.1" y="336" width="2.2" height="258" fill="#887430"/>
<rect x="365.8" y="341" width="3.8" height="253" fill="#1c2250"/>
<rect x="369.1" y="337.2" width="2.2" height="256.8" fill="#306060"/>
<rect x="370.8" y="335.1" width="3.6" height="258.9" fill="#2e221c"/>
<rect x="373.9" y="336.2" width="3.3" height="257.8" fill="#52324c"/>
<rect x="376.7" y="336.9" width="3.8" height="257.1" fill="#6a1210"/>
<rect x="380" y="335.2" width="3.4" height="258.8" fill="#52324c"/>
<rect x="383" y="335.9" width="3.4" height="258.1" fill="#1c1a54"/>
<rect x="385.8" y="340.6" width="2" height="253.4" fill="#3e5a32"/>
<rect x="387.3" y="336.3" width="3.4" height="257.7" fill="#4a1a14"/>
<rect x="390.2" y="337" width="2.6" height="257" fill="#804418"/>
<rect x="392.3" y="341.6" width="4.1" height="252.4" fill="#241e58"/>
<rect x="396" y="341" width="2.7" height="253" fill="#5a5428"/>
<rect x="398.1" y="339.4" width="4.9" height="254.6" fill="#701810"/>
<rect x="402.6" y="337.2" width="2.6" height="256.8" fill="#52324c"/>
<rect x="404.6" y="337.2" width="4" height="256.8" fill="#1c2250"/>
<rect x="408.1" y="335.7" width="2.1" height="258.3" fill="#3e5a32"/>
<rect x="409.7" y="336.7" width="3.3" height="257.3" fill="#2e221c"/>
<rect x="412.5" y="338.5" width="2.2" height="255.5" fill="#5a5428"/>
<rect x="414.2" y="341.6" width="4.1" height="252.4" fill="#6a1210"/>
<rect x="417.8" y="335.7" width="2.1" height="258.3" fill="#5a5428"/>
<rect x="419.4" y="339.1" width="3.8" height="254.9" fill="#1c1a54"/>
<rect x="422.6" y="337.8" width="2.9" height="256.2" fill="#384a88"/>
<rect x="425" y="337.9" width="3.2" height="256.1" fill="#4a1a14"/>
<rect x="427.8" y="336.5" width="2.7" height="257.5" fill="#3e281c"/>
<rect x="430" y="340" width="3.3" height="254" fill="#241e58"/>
<rect x="432.8" y="339.5" width="2.7" height="254.5" fill="#887430"/>
<rect x="435" y="335.6" width="4" height="258.4" fill="#701810"/>
<rect x="438.5" y="338.3" width="2.2" height="255.7" fill="#384a88"/>
<rect x="440.2" y="338.2" width="3.1" height="255.8" fill="#1c2250"/>
<rect x="442.8" y="336.1" width="3" height="257.9" fill="#306060"/>
<rect x="445.3" y="335.3" width="3.7" height="258.7" fill="#2e221c"/>
<rect x="448.6" y="340.2" width="2.8" height="253.8" fill="#3e5a32"/>
<rect x="450.9" y="335.8" width="3.7" height="258.2" fill="#6a1210"/>
<rect x="454" y="340.5" width="3.2" height="253.5" fill="#3e5a32"/>
<rect x="456.7" y="335.8" width="4.5" height="258.2" fill="#1c1a54"/>
<rect x="460.7" y="334.2" width="2.5" height="259.8" fill="#3e281c"/>
<rect x="462.7" y="336.2" width="3.1" height="257.8" fill="#4a1a14"/>
<rect x="465.3" y="338.8" width="2.3" height="255.2" fill="#887430"/>
<rect x="467.1" y="340.5" width="3.7" height="253.5" fill="#241e58"/>
<rect x="470.3" y="336.9" width="3.4" height="257.1" fill="#384a88"/>
<rect x="473.2" y="335.8" width="3.4" height="258.2" fill="#701810"/>
<rect x="476.2" y="337.9" width="2.5" height="256.1" fill="#3e5a32"/>
<rect x="478.2" y="338.9" width="5" height="255.1" fill="#1c2250"/>
<rect x="482.6" y="339.2" width="2.7" height="254.8" fill="#5a5428"/>
<rect x="484.9" y="334.7" width="4.6" height="259.3" fill="#2e221c"/>
<rect x="489" y="340.3" width="3.4" height="253.7" fill="#306060"/>
<rect x="491.8" y="337.8" width="4.5" height="256.2" fill="#6a1210"/>
<rect x="495.8" y="339.1" width="2.7" height="254.9" fill="#804418"/>
<rect x="498" y="341.6" width="3.2" height="252.4" fill="#1c1a54"/>
<rect x="500.6" y="339.9" width="2.7" height="254.1" fill="#52324c"/>
<rect x="502.8" y="335.3" width="3.2" height="258.7" fill="#4a1a14"/>
<rect x="505.5" y="338.7" width="2" height="255.3" fill="#804418"/>
<rect x="507" y="339.2" width="3.9" height="254.8" fill="#241e58"/>
<rect x="510.5" y="336.8" width="3" height="257.2" fill="#3e281c"/>
<rect x="513" y="335" width="4.1" height="259" fill="#701810"/>
<rect x="516.6" y="339.8" width="3.2" height="254.2" fill="#5a5428"/>
<rect x="519.3" y="340" width="3.2" height="254" fill="#1c2250"/>
<rect x="522" y="341" width="2.7" height="253" fill="#804418"/>
<rect x="524.1" y="335.7" width="4.7" height="258.3" fill="#2e221c"/>
<rect x="528.3" y="338" width="2.3" height="256" fill="#887430"/>
<rect x="530.1" y="336.6" width="4.5" height="257.4" fill="#6a1210"/>
<rect x="534.1" y="334.5" width="3.3" height="259.5" fill="#52324c"/>
<rect x="536.9" y="341.2" width="4.5" height="252.8" fill="#1c1a54"/>
<rect x="540.8" y="341" width="3.2" height="253" fill="#52324c"/>
<rect x="543.6" y="335.2" width="3.3" height="258.8" fill="#4a1a14"/>
<rect x="546.3" y="340.2" width="3.3" height="253.8" fill="#5a5428"/>
<rect x="549.2" y="340.2" width="4.2" height="253.8" fill="#241e58"/>
<rect x="552.9" y="337.8" width="2.3" height="256.2" fill="#804418"/>
<rect x="554.6" y="338.5" width="4.5" height="255.5" fill="#701810"/>
<rect x="558.6" y="338.2" width="3" height="255.8" fill="#384a88"/>
<rect x="561.1" y="340.2" width="4" height="253.8" fill="#1c2250"/>
<rect x="564.6" y="336.2" width="2.4" height="257.8" fill="#5a5428"/>
<rect x="566.4" y="338.1" width="4.5" height="255.9" fill="#2e221c"/>
<rect x="570.5" y="341.3" width="3.1" height="252.7" fill="#5a5428"/>
<rect x="573.1" y="338.9" width="3.9" height="255.1" fill="#6a1210"/>
<rect x="576.5" y="337.6" width="3" height="256.4" fill="#3e5a32"/>
<rect x="579.1" y="337.8" width="4.1" height="256.2" fill="#1c1a54"/>
<rect x="582.6" y="341" width="3" height="253" fill="#3e5a32"/>
<rect x="585.2" y="336.1" width="4.9" height="257.9" fill="#4a1a14"/>
<rect x="589.6" y="335.1" width="3.3" height="258.9" fill="#3e5a32"/>
</g></g>
<linearGradient id="wl" x1="0" y1="0" x2="0" y2="1"><stop offset="0" stop-color="#e06028" stop-opacity="0"/><stop offset="0.12" stop-color="#d03818"/><stop offset="0.3" stop-color="#8a0c08"/><stop offset="1" stop-color="#7a0a08"/></linearGradient>
<g filter="url(#bl15)"><rect x="298" y="215" width="10" height="380" fill="url(#wl)"/><rect x="306" y="380" width="3" height="110" fill="#c0a040" opacity="0.7"/><path d="M305,494 Q309,488 312,496 L312,597 L305,597 Z" fill="#a8e860" opacity="0.8"/><rect x="583" y="300" width="7" height="295" fill="#1c1a5e"/></g>
<path d="M303,600 L303,573 Q318,557 335,561 Q350,567 352,600 Z" fill="#b4f65c" filter="url(#bl15)"/>
<path d="M398,600 L399,580 Q411,567 424,580 L426,600 Z" fill="#b4f65c" filter="url(#bl15)"/>
<path d="M300,600 L300,591 L591,591 L591,600 Z" fill="#b4f65c" filter="url(#bl15)"/>
<g filter="url(#bl08)" opacity="0.75">
<ellipse cx="323" cy="352.7" rx="0.9" ry="3.2" fill="#3050b0"/>
<ellipse cx="338.8" cy="350.5" rx="0.9" ry="3.2" fill="#c05020"/>
<ellipse cx="357.3" cy="347.9" rx="0.9" ry="3.2" fill="#50a070"/>
<ellipse cx="393.8" cy="355" rx="0.9" ry="3.2" fill="#a8b040"/>
<ellipse cx="386.3" cy="352.5" rx="0.9" ry="3.2" fill="#d0b8c8"/>
<ellipse cx="417.2" cy="349.3" rx="0.9" ry="3.2" fill="#3898b0"/>
<ellipse cx="417.3" cy="349.3" rx="0.9" ry="3.2" fill="#d0b8c8"/>
<ellipse cx="451.8" cy="350.1" rx="0.9" ry="3.2" fill="#d0b8c8"/>
<ellipse cx="440.3" cy="355.9" rx="0.9" ry="3.2" fill="#3898b0"/>
<ellipse cx="451.9" cy="346.2" rx="0.9" ry="3.2" fill="#a8b040"/>
<ellipse cx="510.5" cy="345.4" rx="0.9" ry="3.2" fill="#d0b8c8"/>
<ellipse cx="495.8" cy="346.3" rx="0.9" ry="3.2" fill="#c89030"/>
<ellipse cx="520.6" cy="349.5" rx="0.9" ry="3.2" fill="#d0b8c8"/>
<ellipse cx="554.9" cy="346.3" rx="0.9" ry="3.2" fill="#3898b0"/>
<ellipse cx="579.9" cy="345.7" rx="0.9" ry="3.2" fill="#a8b040"/>
<ellipse cx="579" cy="350.2" rx="0.9" ry="3.2" fill="#3050b0"/>
<ellipse cx="317.4" cy="364.6" rx="0.9" ry="3.2" fill="#50a070"/>
<ellipse cx="309.2" cy="369.4" rx="0.9" ry="3.2" fill="#50a070"/>
<ellipse cx="335.2" cy="353.6" rx="0.9" ry="3.2" fill="#3050b0"/>
<ellipse cx="325.8" cy="363.1" rx="0.9" ry="3.2" fill="#d0b8c8"/>
<ellipse cx="356.9" cy="353.7" rx="0.9" ry="3.2" fill="#d0b8c8"/>
<ellipse cx="348.1" cy="350.7" rx="0.9" ry="3.2" fill="#a8b040"/>
<ellipse cx="363.5" cy="364.1" rx="0.9" ry="3.2" fill="#50a070"/>
<ellipse cx="358.2" cy="360.7" rx="0.9" ry="3.2" fill="#a8b040"/>
<ellipse cx="378.7" cy="362.4" rx="0.9" ry="3.2" fill="#c89030"/>
<ellipse cx="374.6" cy="351.1" rx="0.9" ry="3.2" fill="#3050b0"/>
<ellipse cx="409.3" cy="362.4" rx="0.9" ry="3.2" fill="#3898b0"/>
<ellipse cx="409.7" cy="361.8" rx="0.9" ry="3.2" fill="#a8b040"/>
<ellipse cx="417.2" cy="356.1" rx="0.9" ry="3.2" fill="#c05020"/>
<ellipse cx="431.9" cy="354" rx="0.9" ry="3.2" fill="#d0b8c8"/>
<ellipse cx="443.3" cy="359.2" rx="0.9" ry="3.2" fill="#3050b0"/>
<ellipse cx="431.2" cy="357.6" rx="0.9" ry="3.2" fill="#c89030"/>
<ellipse cx="443.2" cy="362.8" rx="0.9" ry="3.2" fill="#3898b0"/>
<ellipse cx="457.5" cy="361.4" rx="0.9" ry="3.2" fill="#50a070"/>
<ellipse cx="461.8" cy="360.7" rx="0.9" ry="3.2" fill="#50a070"/>
<ellipse cx="464.6" cy="360.4" rx="0.9" ry="3.2" fill="#3050b0"/>
<ellipse cx="471.7" cy="351.6" rx="0.9" ry="3.2" fill="#d0b8c8"/>
<ellipse cx="477.3" cy="349.8" rx="0.9" ry="3.2" fill="#3050b0"/>
<ellipse cx="484.5" cy="356.1" rx="0.9" ry="3.2" fill="#50a070"/>
<ellipse cx="490.6" cy="360.3" rx="0.9" ry="3.2" fill="#c89030"/>
<ellipse cx="517.1" cy="357.5" rx="0.9" ry="3.2" fill="#c89030"/>
<ellipse cx="517" cy="358.4" rx="0.9" ry="3.2" fill="#d0b8c8"/>
<ellipse cx="517" cy="357.8" rx="0.9" ry="3.2" fill="#3898b0"/>
<ellipse cx="516.6" cy="359.3" rx="0.9" ry="3.2" fill="#3898b0"/>
<ellipse cx="545" cy="351.6" rx="0.9" ry="3.2" fill="#a8b040"/>
<ellipse cx="534" cy="348.8" rx="0.9" ry="3.2" fill="#d0b8c8"/>
<ellipse cx="550" cy="351.4" rx="0.9" ry="3.2" fill="#d0b8c8"/>
<ellipse cx="558" cy="351.3" rx="0.9" ry="3.2" fill="#d0b8c8"/>
<ellipse cx="580.8" cy="360" rx="0.9" ry="3.2" fill="#3050b0"/>
<ellipse cx="570.6" cy="355.2" rx="0.9" ry="3.2" fill="#3898b0"/>
<ellipse cx="318.2" cy="376.3" rx="0.9" ry="3.2" fill="#50a070"/>
<ellipse cx="316.2" cy="374.5" rx="0.9" ry="3.2" fill="#c05020"/>
<ellipse cx="352" cy="370.1" rx="0.9" ry="3.2" fill="#50a070"/>
<ellipse cx="352.1" cy="371.4" rx="0.9" ry="3.2" fill="#3050b0"/>
<ellipse cx="352.3" cy="373.6" rx="0.9" ry="3.2" fill="#c89030"/>
<ellipse cx="365.6" cy="374.1" rx="0.9" ry="3.2" fill="#d0b8c8"/>
<ellipse cx="378.8" cy="364.9" rx="0.9" ry="3.2" fill="#3050b0"/>
<ellipse cx="367.5" cy="365.8" rx="0.9" ry="3.2" fill="#3050b0"/>
<ellipse cx="396" cy="369.7" rx="0.9" ry="3.2" fill="#50a070"/>
<ellipse cx="393" cy="373.3" rx="0.9" ry="3.2" fill="#d0b8c8"/>
<ellipse cx="422.1" cy="368.4" rx="0.9" ry="3.2" fill="#c05020"/>
<ellipse cx="421.8" cy="366.7" rx="0.9" ry="3.2" fill="#d0b8c8"/>
<ellipse cx="424.5" cy="380.2" rx="0.9" ry="3.2" fill="#c89030"/>
<ellipse cx="435.2" cy="373" rx="0.9" ry="3.2" fill="#3050b0"/>
<ellipse cx="443.7" cy="382.5" rx="0.9" ry="3.2" fill="#50a070"/>
<ellipse cx="449.7" cy="376.1" rx="0.9" ry="3.2" fill="#d0b8c8"/>
<ellipse cx="473.2" cy="371.8" rx="0.9" ry="3.2" fill="#3050b0"/>
<ellipse cx="459.2" cy="368.5" rx="0.9" ry="3.2" fill="#3898b0"/>
<ellipse cx="487.4" cy="373.9" rx="0.9" ry="3.2" fill="#c89030"/>
<ellipse cx="493.7" cy="370.9" rx="0.9" ry="3.2" fill="#a8b040"/>
<ellipse cx="510.7" cy="377.2" rx="0.9" ry="3.2" fill="#c89030"/>
<ellipse cx="500.2" cy="376.1" rx="0.9" ry="3.2" fill="#3050b0"/>
<ellipse cx="540.3" cy="374.7" rx="0.9" ry="3.2" fill="#3898b0"/>
<ellipse cx="549.3" cy="371.9" rx="0.9" ry="3.2" fill="#d0b8c8"/>
<ellipse cx="564" cy="365.7" rx="0.9" ry="3.2" fill="#50a070"/>
<ellipse cx="555.3" cy="365.4" rx="0.9" ry="3.2" fill="#d0b8c8"/>
<ellipse cx="310.8" cy="371.9" rx="0.9" ry="3.2" fill="#d0b8c8"/>
<ellipse cx="314.5" cy="383.6" rx="0.9" ry="3.2" fill="#50a070"/>
<ellipse cx="343.1" cy="384.3" rx="0.9" ry="3.2" fill="#d0b8c8"/>
<ellipse cx="330.6" cy="377.9" rx="0.9" ry="3.2" fill="#d0b8c8"/>
<ellipse cx="357.8" cy="389.3" rx="0.9" ry="3.2" fill="#d0b8c8"/>
<ellipse cx="353.1" cy="377.8" rx="0.9" ry="3.2" fill="#c89030"/>
<ellipse cx="370.4" cy="380" rx="0.9" ry="3.2" fill="#3898b0"/>
<ellipse cx="373.4" cy="389" rx="0.9" ry="3.2" fill="#c89030"/>
<ellipse cx="386.9" cy="386.7" rx="0.9" ry="3.2" fill="#c05020"/>
<ellipse cx="389.1" cy="380.2" rx="0.9" ry="3.2" fill="#d0b8c8"/>
<ellipse cx="402" cy="374.5" rx="0.9" ry="3.2" fill="#d0b8c8"/>
<ellipse cx="405.2" cy="382.2" rx="0.9" ry="3.2" fill="#c89030"/>
<ellipse cx="410.4" cy="377.6" rx="0.9" ry="3.2" fill="#3898b0"/>
<ellipse cx="408.1" cy="382.7" rx="0.9" ry="3.2" fill="#c89030"/>
<ellipse cx="424.8" cy="390.1" rx="0.9" ry="3.2" fill="#a8b040"/>
<ellipse cx="432" cy="381.8" rx="0.9" ry="3.2" fill="#d0b8c8"/>
<ellipse cx="452.6" cy="386.7" rx="0.9" ry="3.2" fill="#a8b040"/>
<ellipse cx="442.5" cy="385.2" rx="0.9" ry="3.2" fill="#a8b040"/>
<ellipse cx="456.9" cy="373.1" rx="0.9" ry="3.2" fill="#d0b8c8"/>
<ellipse cx="457" cy="386.1" rx="0.9" ry="3.2" fill="#a8b040"/>
<ellipse cx="471.8" cy="385.3" rx="0.9" ry="3.2" fill="#3898b0"/>
<ellipse cx="466.6" cy="384.2" rx="0.9" ry="3.2" fill="#3898b0"/>
<ellipse cx="479" cy="387.8" rx="0.9" ry="3.2" fill="#d0b8c8"/>
<ellipse cx="470.6" cy="381.6" rx="0.9" ry="3.2" fill="#d0b8c8"/>
<ellipse cx="501" cy="383.8" rx="0.9" ry="3.2" fill="#3050b0"/>
<ellipse cx="495.1" cy="374.4" rx="0.9" ry="3.2" fill="#3898b0"/>
<ellipse cx="533.7" cy="377.4" rx="0.9" ry="3.2" fill="#50a070"/>
<ellipse cx="523.4" cy="380" rx="0.9" ry="3.2" fill="#3050b0"/>
<ellipse cx="540.9" cy="378.1" rx="0.9" ry="3.2" fill="#50a070"/>
<ellipse cx="553.8" cy="383.1" rx="0.9" ry="3.2" fill="#c89030"/>
<ellipse cx="553.3" cy="386.7" rx="0.9" ry="3.2" fill="#a8b040"/>
<ellipse cx="558.2" cy="380" rx="0.9" ry="3.2" fill="#d0b8c8"/>
<ellipse cx="571.2" cy="381.9" rx="0.9" ry="3.2" fill="#d0b8c8"/>
<ellipse cx="571.4" cy="381.9" rx="0.9" ry="3.2" fill="#d0b8c8"/>
<ellipse cx="314.2" cy="388.8" rx="0.9" ry="3.2" fill="#a8b040"/>
<ellipse cx="329" cy="387.2" rx="0.9" ry="3.2" fill="#d0b8c8"/>
<ellipse cx="311.9" cy="402" rx="0.9" ry="3.2" fill="#a8b040"/>
<ellipse cx="316.5" cy="393.3" rx="0.9" ry="3.2" fill="#c89030"/>
<ellipse cx="329.3" cy="405.1" rx="0.9" ry="3.2" fill="#a8b040"/>
<ellipse cx="334.3" cy="393" rx="0.9" ry="3.2" fill="#d0b8c8"/>
<ellipse cx="353.5" cy="396.8" rx="0.9" ry="3.2" fill="#d0b8c8"/>
<ellipse cx="347.9" cy="403.4" rx="0.9" ry="3.2" fill="#3898b0"/>
<ellipse cx="366.3" cy="404.8" rx="0.9" ry="3.2" fill="#a8b040"/>
<ellipse cx="364.3" cy="406.9" rx="0.9" ry="3.2" fill="#d0b8c8"/>
<ellipse cx="373.1" cy="405.9" rx="0.9" ry="3.2" fill="#c05020"/>
<ellipse cx="378.7" cy="404.2" rx="0.9" ry="3.2" fill="#d0b8c8"/>
<ellipse cx="386.6" cy="401.7" rx="0.9" ry="3.2" fill="#a8b040"/>
<ellipse cx="385.8" cy="389.1" rx="0.9" ry="3.2" fill="#3898b0"/>
<ellipse cx="397.1" cy="392.8" rx="0.9" ry="3.2" fill="#d0b8c8"/>
<ellipse cx="398.7" cy="396.7" rx="0.9" ry="3.2" fill="#50a070"/>
<ellipse cx="487.8" cy="396.4" rx="0.9" ry="3.2" fill="#d0b8c8"/>
<ellipse cx="477.2" cy="390.3" rx="0.9" ry="3.2" fill="#d0b8c8"/>
<ellipse cx="493.2" cy="402" rx="0.9" ry="3.2" fill="#50a070"/>
<ellipse cx="489.1" cy="399.1" rx="0.9" ry="3.2" fill="#d0b8c8"/>
<ellipse cx="504.8" cy="393.1" rx="0.9" ry="3.2" fill="#c05020"/>
<ellipse cx="515.3" cy="387.2" rx="0.9" ry="3.2" fill="#c05020"/>
<ellipse cx="522.3" cy="391.1" rx="0.9" ry="3.2" fill="#a8b040"/>
<ellipse cx="525.3" cy="394.2" rx="0.9" ry="3.2" fill="#3898b0"/>
<ellipse cx="529.4" cy="382.5" rx="0.9" ry="3.2" fill="#3050b0"/>
<ellipse cx="530.9" cy="395.4" rx="0.9" ry="3.2" fill="#a8b040"/>
<ellipse cx="539.6" cy="401.1" rx="0.9" ry="3.2" fill="#a8b040"/>
<ellipse cx="540.6" cy="402.1" rx="0.9" ry="3.2" fill="#d0b8c8"/>
<ellipse cx="560.6" cy="395" rx="0.9" ry="3.2" fill="#c89030"/>
<ellipse cx="558.9" cy="407.8" rx="0.9" ry="3.2" fill="#c89030"/>
<ellipse cx="578.6" cy="385" rx="0.9" ry="3.2" fill="#3050b0"/>
<ellipse cx="569.9" cy="385.7" rx="0.9" ry="3.2" fill="#50a070"/>
<ellipse cx="337.3" cy="511.4" rx="0.9" ry="3.2" fill="#3050b0"/>
<ellipse cx="330.3" cy="507.4" rx="0.9" ry="3.2" fill="#c05020"/>
<ellipse cx="354.9" cy="514.4" rx="0.9" ry="3.2" fill="#c05020"/>
<ellipse cx="353.7" cy="502.1" rx="0.9" ry="3.2" fill="#d0b8c8"/>
<ellipse cx="372.6" cy="502.3" rx="0.9" ry="3.2" fill="#d0b8c8"/>
<ellipse cx="373.4" cy="503.3" rx="0.9" ry="3.2" fill="#d0b8c8"/>
<ellipse cx="382.6" cy="507.6" rx="0.9" ry="3.2" fill="#a8b040"/>
<ellipse cx="396.9" cy="511.6" rx="0.9" ry="3.2" fill="#d0b8c8"/>
<ellipse cx="405.3" cy="509.8" rx="0.9" ry="3.2" fill="#50a070"/>
<ellipse cx="407.8" cy="502.7" rx="0.9" ry="3.2" fill="#3050b0"/>
<ellipse cx="419.9" cy="505.8" rx="0.9" ry="3.2" fill="#d0b8c8"/>
<ellipse cx="432.6" cy="509.9" rx="0.9" ry="3.2" fill="#d0b8c8"/>
<ellipse cx="435.8" cy="510.3" rx="0.9" ry="3.2" fill="#3050b0"/>
<ellipse cx="440" cy="513.2" rx="0.9" ry="3.2" fill="#3050b0"/>
<ellipse cx="456.1" cy="508.5" rx="0.9" ry="3.2" fill="#3898b0"/>
<ellipse cx="460" cy="511.1" rx="0.9" ry="3.2" fill="#d0b8c8"/>
<ellipse cx="476.2" cy="503.4" rx="0.9" ry="3.2" fill="#a8b040"/>
<ellipse cx="483.5" cy="514.7" rx="0.9" ry="3.2" fill="#50a070"/>
<ellipse cx="498.7" cy="505.1" rx="0.9" ry="3.2" fill="#d0b8c8"/>
<ellipse cx="498.3" cy="498.5" rx="0.9" ry="3.2" fill="#d0b8c8"/>
<ellipse cx="495.4" cy="509.3" rx="0.9" ry="3.2" fill="#d0b8c8"/>
<ellipse cx="508.8" cy="507.8" rx="0.9" ry="3.2" fill="#d0b8c8"/>
<ellipse cx="508.9" cy="507.8" rx="0.9" ry="3.2" fill="#d0b8c8"/>
<ellipse cx="518.3" cy="511" rx="0.9" ry="3.2" fill="#a8b040"/>
<ellipse cx="533.1" cy="509.6" rx="0.9" ry="3.2" fill="#d0b8c8"/>
<ellipse cx="536" cy="507.4" rx="0.9" ry="3.2" fill="#3898b0"/>
<ellipse cx="537.7" cy="515.6" rx="0.9" ry="3.2" fill="#3898b0"/>
<ellipse cx="548.5" cy="506.6" rx="0.9" ry="3.2" fill="#d0b8c8"/>
<ellipse cx="550.4" cy="508.2" rx="0.9" ry="3.2" fill="#d0b8c8"/>
<ellipse cx="557.8" cy="510.1" rx="0.9" ry="3.2" fill="#3050b0"/>
<ellipse cx="570.3" cy="513.4" rx="0.9" ry="3.2" fill="#c89030"/>
<ellipse cx="566.8" cy="507.9" rx="0.9" ry="3.2" fill="#c05020"/>
<ellipse cx="315.9" cy="526.5" rx="0.9" ry="3.2" fill="#d0b8c8"/>
<ellipse cx="303.3" cy="520.7" rx="0.9" ry="3.2" fill="#3898b0"/>
<ellipse cx="330.9" cy="533.7" rx="0.9" ry="3.2" fill="#3898b0"/>
<ellipse cx="319" cy="534.4" rx="0.9" ry="3.2" fill="#d0b8c8"/>
<ellipse cx="333" cy="528.9" rx="0.9" ry="3.2" fill="#3050b0"/>
<ellipse cx="344.2" cy="521" rx="0.9" ry="3.2" fill="#c89030"/>
<ellipse cx="367" cy="524.8" rx="0.9" ry="3.2" fill="#d0b8c8"/>
<ellipse cx="359.8" cy="513.8" rx="0.9" ry="3.2" fill="#d0b8c8"/>
<ellipse cx="384.8" cy="516.6" rx="0.9" ry="3.2" fill="#d0b8c8"/>
<ellipse cx="385" cy="517.9" rx="0.9" ry="3.2" fill="#d0b8c8"/>
<ellipse cx="410.2" cy="516.8" rx="0.9" ry="3.2" fill="#d0b8c8"/>
<ellipse cx="408" cy="514.5" rx="0.9" ry="3.2" fill="#d0b8c8"/>
<ellipse cx="419.9" cy="529.2" rx="0.9" ry="3.2" fill="#a8b040"/>
<ellipse cx="421" cy="529.2" rx="0.9" ry="3.2" fill="#50a070"/>
<ellipse cx="436.5" cy="520.1" rx="0.9" ry="3.2" fill="#a8b040"/>
<ellipse cx="451" cy="518.7" rx="0.9" ry="3.2" fill="#d0b8c8"/>
<ellipse cx="474.9" cy="522.2" rx="0.9" ry="3.2" fill="#c89030"/>
<ellipse cx="475.9" cy="519" rx="0.9" ry="3.2" fill="#50a070"/>
<ellipse cx="490.3" cy="527.1" rx="0.9" ry="3.2" fill="#c89030"/>
<ellipse cx="484.9" cy="515.5" rx="0.9" ry="3.2" fill="#3050b0"/>
<ellipse cx="510.7" cy="525.1" rx="0.9" ry="3.2" fill="#3050b0"/>
<ellipse cx="496.1" cy="525.4" rx="0.9" ry="3.2" fill="#d0b8c8"/>
<ellipse cx="515.1" cy="512.7" rx="0.9" ry="3.2" fill="#a8b040"/>
<ellipse cx="523.5" cy="522.7" rx="0.9" ry="3.2" fill="#3050b0"/>
<ellipse cx="526.6" cy="521.7" rx="0.9" ry="3.2" fill="#3898b0"/>
<ellipse cx="528.3" cy="526.9" rx="0.9" ry="3.2" fill="#3898b0"/>
<ellipse cx="550.8" cy="518.2" rx="0.9" ry="3.2" fill="#c89030"/>
<ellipse cx="556.4" cy="524.9" rx="0.9" ry="3.2" fill="#3050b0"/>
<ellipse cx="569.5" cy="516.5" rx="0.9" ry="3.2" fill="#3050b0"/>
<ellipse cx="569.3" cy="515" rx="0.9" ry="3.2" fill="#3898b0"/>
<ellipse cx="566.9" cy="523.4" rx="0.9" ry="3.2" fill="#3898b0"/>
<ellipse cx="567.1" cy="520.5" rx="0.9" ry="3.2" fill="#c89030"/>
<ellipse cx="317.9" cy="535.5" rx="0.9" ry="3.2" fill="#3050b0"/>
<ellipse cx="317.7" cy="539.3" rx="0.9" ry="3.2" fill="#3898b0"/>
<ellipse cx="327.1" cy="542.9" rx="0.9" ry="3.2" fill="#d0b8c8"/>
<ellipse cx="341.2" cy="546" rx="0.9" ry="3.2" fill="#3898b0"/>
<ellipse cx="351.9" cy="527.2" rx="0.9" ry="3.2" fill="#c05020"/>
<ellipse cx="356.7" cy="539.3" rx="0.9" ry="3.2" fill="#c89030"/>
<ellipse cx="364.5" cy="535.5" rx="0.9" ry="3.2" fill="#d0b8c8"/>
<ellipse cx="362.1" cy="546.6" rx="0.9" ry="3.2" fill="#d0b8c8"/>
<ellipse cx="380.8" cy="538.5" rx="0.9" ry="3.2" fill="#3050b0"/>
<ellipse cx="377.8" cy="525.9" rx="0.9" ry="3.2" fill="#d0b8c8"/>
<ellipse cx="400.1" cy="533.3" rx="0.9" ry="3.2" fill="#d0b8c8"/>
<ellipse cx="400.6" cy="529.4" rx="0.9" ry="3.2" fill="#3050b0"/>
<ellipse cx="409.7" cy="527.6" rx="0.9" ry="3.2" fill="#3898b0"/>
<ellipse cx="409.9" cy="540.6" rx="0.9" ry="3.2" fill="#3898b0"/>
<ellipse cx="427.5" cy="540.6" rx="0.9" ry="3.2" fill="#3050b0"/>
<ellipse cx="434" cy="538.2" rx="0.9" ry="3.2" fill="#d0b8c8"/>
<ellipse cx="438.2" cy="531.7" rx="0.9" ry="3.2" fill="#3898b0"/>
<ellipse cx="436.5" cy="536.5" rx="0.9" ry="3.2" fill="#c89030"/>
<ellipse cx="464.2" cy="526.8" rx="0.9" ry="3.2" fill="#50a070"/>
<ellipse cx="463.7" cy="525.8" rx="0.9" ry="3.2" fill="#c89030"/>
<ellipse cx="478.9" cy="536.1" rx="0.9" ry="3.2" fill="#50a070"/>
<ellipse cx="470.7" cy="533" rx="0.9" ry="3.2" fill="#c89030"/>
<ellipse cx="494.2" cy="540.6" rx="0.9" ry="3.2" fill="#d0b8c8"/>
<ellipse cx="497.2" cy="530.8" rx="0.9" ry="3.2" fill="#c05020"/>
<ellipse cx="508.7" cy="533.4" rx="0.9" ry="3.2" fill="#a8b040"/>
<ellipse cx="516.4" cy="537.2" rx="0.9" ry="3.2" fill="#c05020"/>
<ellipse cx="525.4" cy="538.4" rx="0.9" ry="3.2" fill="#d0b8c8"/>
<ellipse cx="522.5" cy="525.9" rx="0.9" ry="3.2" fill="#c89030"/>
<ellipse cx="540.8" cy="544.2" rx="0.9" ry="3.2" fill="#d0b8c8"/>
<ellipse cx="547.7" cy="532.6" rx="0.9" ry="3.2" fill="#c05020"/>
<ellipse cx="553.3" cy="533.8" rx="0.9" ry="3.2" fill="#a8b040"/>
<ellipse cx="567.8" cy="531.6" rx="0.9" ry="3.2" fill="#3050b0"/>
<ellipse cx="580.8" cy="540.8" rx="0.9" ry="3.2" fill="#d0b8c8"/>
<ellipse cx="581.5" cy="535.8" rx="0.9" ry="3.2" fill="#a8b040"/>
<ellipse cx="307.5" cy="549.7" rx="0.9" ry="3.2" fill="#3898b0"/>
<ellipse cx="309" cy="556.6" rx="0.9" ry="3.2" fill="#3050b0"/>
<ellipse cx="351.9" cy="540.5" rx="0.9" ry="3.2" fill="#d0b8c8"/>
<ellipse cx="355" cy="549.8" rx="0.9" ry="3.2" fill="#d0b8c8"/>
<ellipse cx="384.4" cy="553" rx="0.9" ry="3.2" fill="#d0b8c8"/>
<ellipse cx="388.4" cy="543.7" rx="0.9" ry="3.2" fill="#3898b0"/>
<ellipse cx="393.4" cy="550.4" rx="0.9" ry="3.2" fill="#d0b8c8"/>
<ellipse cx="404.1" cy="545.8" rx="0.9" ry="3.2" fill="#d0b8c8"/>
<ellipse cx="412.6" cy="554.1" rx="0.9" ry="3.2" fill="#d0b8c8"/>
<ellipse cx="419.7" cy="549.2" rx="0.9" ry="3.2" fill="#c89030"/>
<ellipse cx="428.8" cy="549.6" rx="0.9" ry="3.2" fill="#c89030"/>
<ellipse cx="435.8" cy="554.6" rx="0.9" ry="3.2" fill="#a8b040"/>
<ellipse cx="458.7" cy="546" rx="0.9" ry="3.2" fill="#c05020"/>
<ellipse cx="447.8" cy="554.8" rx="0.9" ry="3.2" fill="#c05020"/>
<ellipse cx="473.1" cy="538.9" rx="0.9" ry="3.2" fill="#c89030"/>
<ellipse cx="465.2" cy="547.1" rx="0.9" ry="3.2" fill="#c05020"/>
<ellipse cx="486.5" cy="541.6" rx="0.9" ry="3.2" fill="#3050b0"/>
<ellipse cx="487.3" cy="544.8" rx="0.9" ry="3.2" fill="#a8b040"/>
<ellipse cx="505.6" cy="549.1" rx="0.9" ry="3.2" fill="#3898b0"/>
<ellipse cx="504" cy="552.2" rx="0.9" ry="3.2" fill="#d0b8c8"/>
<ellipse cx="536.5" cy="543.3" rx="0.9" ry="3.2" fill="#d0b8c8"/>
<ellipse cx="531.2" cy="538.8" rx="0.9" ry="3.2" fill="#d0b8c8"/>
<ellipse cx="561.5" cy="540.4" rx="0.9" ry="3.2" fill="#50a070"/>
<ellipse cx="565.3" cy="543.5" rx="0.9" ry="3.2" fill="#50a070"/>
<ellipse cx="581.8" cy="552.5" rx="0.9" ry="3.2" fill="#3050b0"/>
<ellipse cx="577.6" cy="546.3" rx="0.9" ry="3.2" fill="#50a070"/>
<ellipse cx="325.3" cy="553.7" rx="0.9" ry="3.2" fill="#c05020"/>
<ellipse cx="335.9" cy="552.8" rx="0.9" ry="3.2" fill="#d0b8c8"/>
<ellipse cx="342" cy="565.8" rx="0.9" ry="3.2" fill="#a8b040"/>
<ellipse cx="339.4" cy="560.4" rx="0.9" ry="3.2" fill="#d0b8c8"/>
<ellipse cx="361" cy="548.6" rx="0.9" ry="3.2" fill="#3898b0"/>
<ellipse cx="354.6" cy="558.7" rx="0.9" ry="3.2" fill="#c89030"/>
<ellipse cx="366.5" cy="560.2" rx="0.9" ry="3.2" fill="#d0b8c8"/>
<ellipse cx="370.5" cy="565.3" rx="0.9" ry="3.2" fill="#d0b8c8"/>
<ellipse cx="397" cy="554.3" rx="0.9" ry="3.2" fill="#a8b040"/>
<ellipse cx="390.8" cy="565.1" rx="0.9" ry="3.2" fill="#a8b040"/>
<ellipse cx="412.7" cy="568.9" rx="0.9" ry="3.2" fill="#d0b8c8"/>
<ellipse cx="403.2" cy="562.7" rx="0.9" ry="3.2" fill="#d0b8c8"/>
<ellipse cx="427.3" cy="562.1" rx="0.9" ry="3.2" fill="#50a070"/>
<ellipse cx="417.3" cy="559.6" rx="0.9" ry="3.2" fill="#3898b0"/>
<ellipse cx="443" cy="554.7" rx="0.9" ry="3.2" fill="#a8b040"/>
<ellipse cx="444.5" cy="554.8" rx="0.9" ry="3.2" fill="#3050b0"/>
<ellipse cx="455" cy="570.6" rx="0.9" ry="3.2" fill="#3050b0"/>
<ellipse cx="451.8" cy="569" rx="0.9" ry="3.2" fill="#3050b0"/>
<ellipse cx="471.7" cy="561.8" rx="0.9" ry="3.2" fill="#3898b0"/>
<ellipse cx="472.3" cy="561.6" rx="0.9" ry="3.2" fill="#3898b0"/>
<ellipse cx="490.2" cy="562.7" rx="0.9" ry="3.2" fill="#3898b0"/>
<ellipse cx="482.5" cy="563.1" rx="0.9" ry="3.2" fill="#d0b8c8"/>
<ellipse cx="507.7" cy="565.1" rx="0.9" ry="3.2" fill="#3898b0"/>
<ellipse cx="500.3" cy="558.3" rx="0.9" ry="3.2" fill="#3898b0"/>
<ellipse cx="518.3" cy="552.5" rx="0.9" ry="3.2" fill="#a8b040"/>
<ellipse cx="518.4" cy="552.4" rx="0.9" ry="3.2" fill="#c89030"/>
<ellipse cx="541.8" cy="567.8" rx="0.9" ry="3.2" fill="#d0b8c8"/>
<ellipse cx="541.4" cy="559.5" rx="0.9" ry="3.2" fill="#3898b0"/>
<ellipse cx="551.2" cy="546.7" rx="0.9" ry="3.2" fill="#c05020"/>
<ellipse cx="554.4" cy="553.8" rx="0.9" ry="3.2" fill="#3050b0"/>
<ellipse cx="562" cy="566.8" rx="0.9" ry="3.2" fill="#c89030"/>
<ellipse cx="563.9" cy="566.4" rx="0.9" ry="3.2" fill="#3898b0"/>
<ellipse cx="325.7" cy="563.4" rx="0.9" ry="3.2" fill="#c05020"/>
<ellipse cx="311.4" cy="565.6" rx="0.9" ry="3.2" fill="#50a070"/>
<ellipse cx="353.7" cy="571.7" rx="0.9" ry="3.2" fill="#3050b0"/>
<ellipse cx="362" cy="563.2" rx="0.9" ry="3.2" fill="#c89030"/>
<ellipse cx="390.4" cy="574.9" rx="0.9" ry="3.2" fill="#c05020"/>
<ellipse cx="386" cy="577.2" rx="0.9" ry="3.2" fill="#c05020"/>
<ellipse cx="395.3" cy="576.3" rx="0.9" ry="3.2" fill="#c89030"/>
<ellipse cx="401.5" cy="577.1" rx="0.9" ry="3.2" fill="#3050b0"/>
<ellipse cx="437.2" cy="571.5" rx="0.9" ry="3.2" fill="#3898b0"/>
<ellipse cx="432.9" cy="564" rx="0.9" ry="3.2" fill="#c05020"/>
<ellipse cx="464.8" cy="573.1" rx="0.9" ry="3.2" fill="#c05020"/>
<ellipse cx="474" cy="575.6" rx="0.9" ry="3.2" fill="#3050b0"/>
<ellipse cx="491.7" cy="574.8" rx="0.9" ry="3.2" fill="#c89030"/>
<ellipse cx="487.2" cy="565.5" rx="0.9" ry="3.2" fill="#d0b8c8"/>
<ellipse cx="493.4" cy="571.5" rx="0.9" ry="3.2" fill="#d0b8c8"/>
<ellipse cx="506.8" cy="574.7" rx="0.9" ry="3.2" fill="#d0b8c8"/>
<ellipse cx="512.7" cy="565.3" rx="0.9" ry="3.2" fill="#50a070"/>
<ellipse cx="511.7" cy="565.9" rx="0.9" ry="3.2" fill="#a8b040"/>
<ellipse cx="544.6" cy="563.8" rx="0.9" ry="3.2" fill="#d0b8c8"/>
<ellipse cx="546.4" cy="563" rx="0.9" ry="3.2" fill="#d0b8c8"/>
<ellipse cx="570.4" cy="575.1" rx="0.9" ry="3.2" fill="#3050b0"/>
<ellipse cx="556.4" cy="578.8" rx="0.9" ry="3.2" fill="#c89030"/>
<ellipse cx="571.4" cy="572.1" rx="0.9" ry="3.2" fill="#c05020"/>
<ellipse cx="567.9" cy="569.5" rx="0.9" ry="3.2" fill="#c89030"/>
<ellipse cx="541.6" cy="573.8" rx="0.9" ry="3.2" fill="#c05020"/>
<ellipse cx="532.1" cy="573.6" rx="0.9" ry="3.2" fill="#d0b8c8"/>
<ellipse cx="309.1" cy="571.4" rx="0.9" ry="3.2" fill="#3898b0"/>
<ellipse cx="317.1" cy="575.5" rx="0.9" ry="3.2" fill="#d0b8c8"/>
<ellipse cx="368.7" cy="581.1" rx="0.9" ry="3.2" fill="#d0b8c8"/>
<ellipse cx="368.3" cy="589.1" rx="0.9" ry="3.2" fill="#a8b040"/>
<ellipse cx="371.2" cy="588.5" rx="0.9" ry="3.2" fill="#c05020"/>
<ellipse cx="370.2" cy="586.4" rx="0.9" ry="3.2" fill="#50a070"/>
<ellipse cx="397.5" cy="589.1" rx="0.9" ry="3.2" fill="#c89030"/>
<ellipse cx="385.2" cy="582.3" rx="0.9" ry="3.2" fill="#d0b8c8"/>
<ellipse cx="439.8" cy="588.3" rx="0.9" ry="3.2" fill="#c05020"/>
<ellipse cx="432.9" cy="578.4" rx="0.9" ry="3.2" fill="#50a070"/>
<ellipse cx="452.9" cy="589.5" rx="0.9" ry="3.2" fill="#3050b0"/>
<ellipse cx="452.3" cy="589.9" rx="0.9" ry="3.2" fill="#50a070"/>
<ellipse cx="469" cy="579.6" rx="0.9" ry="3.2" fill="#a8b040"/>
<ellipse cx="456.7" cy="586.9" rx="0.9" ry="3.2" fill="#3898b0"/>
<ellipse cx="474.8" cy="590.5" rx="0.9" ry="3.2" fill="#c89030"/>
<ellipse cx="484.6" cy="583.3" rx="0.9" ry="3.2" fill="#d0b8c8"/>
<ellipse cx="490.9" cy="590.3" rx="0.9" ry="3.2" fill="#d0b8c8"/>
<ellipse cx="500.2" cy="587.7" rx="0.9" ry="3.2" fill="#50a070"/>
<ellipse cx="504.8" cy="579.3" rx="0.9" ry="3.2" fill="#3898b0"/>
<ellipse cx="504.1" cy="579.8" rx="0.9" ry="3.2" fill="#3898b0"/>
<ellipse cx="527.1" cy="579.1" rx="0.9" ry="3.2" fill="#50a070"/>
<ellipse cx="516.7" cy="582.3" rx="0.9" ry="3.2" fill="#c89030"/>
<ellipse cx="544.6" cy="588.2" rx="0.9" ry="3.2" fill="#d0b8c8"/>
<ellipse cx="554.8" cy="589.7" rx="0.9" ry="3.2" fill="#c05020"/>
<ellipse cx="579.7" cy="588.5" rx="0.9" ry="3.2" fill="#3898b0"/>
<ellipse cx="581.7" cy="582.8" rx="0.9" ry="3.2" fill="#3898b0"/>
<ellipse cx="405.7" cy="407.6" rx="0.9" ry="3.2" fill="#d0b8c8"/>
<ellipse cx="402.5" cy="400.5" rx="0.9" ry="3.2" fill="#c89030"/>
<ellipse cx="409.2" cy="399.3" rx="0.9" ry="3.2" fill="#c05020"/>
<ellipse cx="418.5" cy="409.4" rx="0.9" ry="3.2" fill="#d0b8c8"/>
<ellipse cx="420.3" cy="400.3" rx="0.9" ry="3.2" fill="#3050b0"/>
<ellipse cx="423" cy="397" rx="0.9" ry="3.2" fill="#3050b0"/>
<ellipse cx="434.6" cy="401.8" rx="0.9" ry="3.2" fill="#d0b8c8"/>
<ellipse cx="435.3" cy="409.2" rx="0.9" ry="3.2" fill="#c05020"/>
<ellipse cx="303.3" cy="412.6" rx="0.9" ry="3.2" fill="#d0b8c8"/>
<ellipse cx="313.6" cy="416.3" rx="0.9" ry="3.2" fill="#c89030"/>
<ellipse cx="320.8" cy="408.7" rx="0.9" ry="3.2" fill="#d0b8c8"/>
<ellipse cx="319" cy="414.6" rx="0.9" ry="3.2" fill="#d0b8c8"/>
<ellipse cx="342.2" cy="405.8" rx="0.9" ry="3.2" fill="#d0b8c8"/>
<ellipse cx="345.5" cy="406.7" rx="0.9" ry="3.2" fill="#d0b8c8"/>
<ellipse cx="349.7" cy="422.1" rx="0.9" ry="3.2" fill="#a8b040"/>
<ellipse cx="360.9" cy="422.9" rx="0.9" ry="3.2" fill="#d0b8c8"/>
<ellipse cx="364.4" cy="418.9" rx="0.9" ry="3.2" fill="#d0b8c8"/>
<ellipse cx="361.9" cy="413.9" rx="0.9" ry="3.2" fill="#c89030"/>
<ellipse cx="391.1" cy="411.2" rx="0.9" ry="3.2" fill="#50a070"/>
<ellipse cx="390.4" cy="412.7" rx="0.9" ry="3.2" fill="#c05020"/>
<ellipse cx="407" cy="413.1" rx="0.9" ry="3.2" fill="#d0b8c8"/>
<ellipse cx="412.2" cy="422.6" rx="0.9" ry="3.2" fill="#d0b8c8"/>
<ellipse cx="429.2" cy="412.4" rx="0.9" ry="3.2" fill="#50a070"/>
<ellipse cx="430.7" cy="417.5" rx="0.9" ry="3.2" fill="#a8b040"/>
<ellipse cx="445" cy="418.4" rx="0.9" ry="3.2" fill="#a8b040"/>
<ellipse cx="440.1" cy="424.7" rx="0.9" ry="3.2" fill="#d0b8c8"/>
<ellipse cx="314.9" cy="435.8" rx="0.9" ry="3.2" fill="#50a070"/>
<ellipse cx="313.8" cy="423.5" rx="0.9" ry="3.2" fill="#3898b0"/>
<ellipse cx="348.4" cy="438.5" rx="0.9" ry="3.2" fill="#c05020"/>
<ellipse cx="335.8" cy="431.7" rx="0.9" ry="3.2" fill="#3050b0"/>
<ellipse cx="370.3" cy="433.1" rx="0.9" ry="3.2" fill="#3050b0"/>
<ellipse cx="372.5" cy="424" rx="0.9" ry="3.2" fill="#d0b8c8"/>
<ellipse cx="392.2" cy="433.1" rx="0.9" ry="3.2" fill="#d0b8c8"/>
<ellipse cx="394.8" cy="426.6" rx="0.9" ry="3.2" fill="#d0b8c8"/>
<ellipse cx="404.5" cy="439.4" rx="0.9" ry="3.2" fill="#3050b0"/>
<ellipse cx="397" cy="428.8" rx="0.9" ry="3.2" fill="#3898b0"/>
<ellipse cx="414" cy="435.4" rx="0.9" ry="3.2" fill="#c89030"/>
<ellipse cx="419.5" cy="435.7" rx="0.9" ry="3.2" fill="#d0b8c8"/>
<ellipse cx="434.5" cy="441.4" rx="0.9" ry="3.2" fill="#3050b0"/>
<ellipse cx="427.3" cy="430" rx="0.9" ry="3.2" fill="#d0b8c8"/>
<ellipse cx="445.7" cy="437.9" rx="0.9" ry="3.2" fill="#3050b0"/>
<ellipse cx="447.6" cy="436.5" rx="0.9" ry="3.2" fill="#d0b8c8"/>
<ellipse cx="318.9" cy="445.6" rx="0.9" ry="3.2" fill="#c05020"/>
<ellipse cx="319.1" cy="442.3" rx="0.9" ry="3.2" fill="#d0b8c8"/>
<ellipse cx="319.3" cy="439.1" rx="0.9" ry="3.2" fill="#a8b040"/>
<ellipse cx="326.2" cy="447.8" rx="0.9" ry="3.2" fill="#d0b8c8"/>
<ellipse cx="353.9" cy="437.1" rx="0.9" ry="3.2" fill="#d0b8c8"/>
<ellipse cx="358.4" cy="435.4" rx="0.9" ry="3.2" fill="#c05020"/>
<ellipse cx="375.9" cy="445.1" rx="0.9" ry="3.2" fill="#c05020"/>
<ellipse cx="370" cy="435.5" rx="0.9" ry="3.2" fill="#c05020"/>
<ellipse cx="386.6" cy="448.8" rx="0.9" ry="3.2" fill="#a8b040"/>
<ellipse cx="383.2" cy="445.4" rx="0.9" ry="3.2" fill="#50a070"/>
<ellipse cx="411" cy="442.4" rx="0.9" ry="3.2" fill="#c89030"/>
<ellipse cx="414.4" cy="453" rx="0.9" ry="3.2" fill="#d0b8c8"/>
<ellipse cx="439.1" cy="453.3" rx="0.9" ry="3.2" fill="#c05020"/>
<ellipse cx="438.5" cy="440.3" rx="0.9" ry="3.2" fill="#c89030"/>
<ellipse cx="319.8" cy="464" rx="0.9" ry="3.2" fill="#3050b0"/>
<ellipse cx="312.9" cy="453.3" rx="0.9" ry="3.2" fill="#d0b8c8"/>
<ellipse cx="326.5" cy="460" rx="0.9" ry="3.2" fill="#c05020"/>
<ellipse cx="339" cy="452.8" rx="0.9" ry="3.2" fill="#50a070"/>
<ellipse cx="339.2" cy="449.9" rx="0.9" ry="3.2" fill="#c89030"/>
<ellipse cx="354.1" cy="450.4" rx="0.9" ry="3.2" fill="#c89030"/>
<ellipse cx="352.9" cy="454.1" rx="0.9" ry="3.2" fill="#3050b0"/>
<ellipse cx="365.6" cy="460.8" rx="0.9" ry="3.2" fill="#c05020"/>
<ellipse cx="366.6" cy="452.1" rx="0.9" ry="3.2" fill="#d0b8c8"/>
<ellipse cx="367.4" cy="450.2" rx="0.9" ry="3.2" fill="#50a070"/>
<ellipse cx="390.6" cy="463.9" rx="0.9" ry="3.2" fill="#d0b8c8"/>
<ellipse cx="392.5" cy="463.1" rx="0.9" ry="3.2" fill="#c89030"/>
<ellipse cx="409.9" cy="449.1" rx="0.9" ry="3.2" fill="#3898b0"/>
<ellipse cx="401" cy="445.4" rx="0.9" ry="3.2" fill="#d0b8c8"/>
<ellipse cx="432.4" cy="462.6" rx="0.9" ry="3.2" fill="#50a070"/>
<ellipse cx="431.4" cy="454.2" rx="0.9" ry="3.2" fill="#3050b0"/>
<ellipse cx="435" cy="465" rx="0.9" ry="3.2" fill="#3050b0"/>
<ellipse cx="448.4" cy="459.9" rx="0.9" ry="3.2" fill="#c89030"/>
<ellipse cx="328.4" cy="465.8" rx="0.9" ry="3.2" fill="#d0b8c8"/>
<ellipse cx="338.9" cy="466.8" rx="0.9" ry="3.2" fill="#d0b8c8"/>
<ellipse cx="341" cy="461" rx="0.9" ry="3.2" fill="#d0b8c8"/>
<ellipse cx="346.2" cy="458.4" rx="0.9" ry="3.2" fill="#3898b0"/>
<ellipse cx="366.8" cy="476.9" rx="0.9" ry="3.2" fill="#c89030"/>
<ellipse cx="370.2" cy="473" rx="0.9" ry="3.2" fill="#d0b8c8"/>
<ellipse cx="385.3" cy="468.7" rx="0.9" ry="3.2" fill="#50a070"/>
<ellipse cx="378.5" cy="474.1" rx="0.9" ry="3.2" fill="#c89030"/>
<ellipse cx="398.4" cy="468.8" rx="0.9" ry="3.2" fill="#a8b040"/>
<ellipse cx="399.5" cy="472.7" rx="0.9" ry="3.2" fill="#d0b8c8"/>
<ellipse cx="407" cy="458.2" rx="0.9" ry="3.2" fill="#3898b0"/>
<ellipse cx="415.8" cy="468.7" rx="0.9" ry="3.2" fill="#3898b0"/>
<ellipse cx="411.5" cy="475.6" rx="0.9" ry="3.2" fill="#d0b8c8"/>
<ellipse cx="414.4" cy="471.2" rx="0.9" ry="3.2" fill="#d0b8c8"/>
<ellipse cx="435.8" cy="467.1" rx="0.9" ry="3.2" fill="#50a070"/>
<ellipse cx="425.4" cy="472.7" rx="0.9" ry="3.2" fill="#a8b040"/>
<ellipse cx="320.4" cy="487.4" rx="0.9" ry="3.2" fill="#c89030"/>
<ellipse cx="330.2" cy="481" rx="0.9" ry="3.2" fill="#d0b8c8"/>
<ellipse cx="350.1" cy="473.1" rx="0.9" ry="3.2" fill="#c89030"/>
<ellipse cx="346.4" cy="484" rx="0.9" ry="3.2" fill="#d0b8c8"/>
<ellipse cx="375.5" cy="476.6" rx="0.9" ry="3.2" fill="#d0b8c8"/>
<ellipse cx="382.3" cy="486.2" rx="0.9" ry="3.2" fill="#d0b8c8"/>
<ellipse cx="407.8" cy="485.8" rx="0.9" ry="3.2" fill="#a8b040"/>
<ellipse cx="403.9" cy="486.5" rx="0.9" ry="3.2" fill="#c89030"/>
<ellipse cx="444.6" cy="490" rx="0.9" ry="3.2" fill="#3050b0"/>
<ellipse cx="437.5" cy="479.1" rx="0.9" ry="3.2" fill="#3050b0"/>
<ellipse cx="304.5" cy="483.6" rx="0.9" ry="3.2" fill="#d0b8c8"/>
<ellipse cx="306.5" cy="482.5" rx="0.9" ry="3.2" fill="#d0b8c8"/>
<ellipse cx="342.8" cy="487.4" rx="0.9" ry="3.2" fill="#3050b0"/>
<ellipse cx="330.7" cy="483.5" rx="0.9" ry="3.2" fill="#3898b0"/>
<ellipse cx="355.3" cy="497.3" rx="0.9" ry="3.2" fill="#d0b8c8"/>
<ellipse cx="356.3" cy="494.6" rx="0.9" ry="3.2" fill="#3050b0"/>
<ellipse cx="370.1" cy="487.6" rx="0.9" ry="3.2" fill="#3898b0"/>
<ellipse cx="371" cy="489" rx="0.9" ry="3.2" fill="#c05020"/>
<ellipse cx="383.5" cy="502.8" rx="0.9" ry="3.2" fill="#d0b8c8"/>
<ellipse cx="377.2" cy="502.4" rx="0.9" ry="3.2" fill="#3898b0"/>
<ellipse cx="391.1" cy="499.7" rx="0.9" ry="3.2" fill="#d0b8c8"/>
<ellipse cx="389.2" cy="496.5" rx="0.9" ry="3.2" fill="#d0b8c8"/>
<ellipse cx="407.8" cy="486.9" rx="0.9" ry="3.2" fill="#c89030"/>
<ellipse cx="403.3" cy="495.6" rx="0.9" ry="3.2" fill="#3898b0"/>
<ellipse cx="418" cy="486.6" rx="0.9" ry="3.2" fill="#3050b0"/>
<ellipse cx="426.6" cy="483.1" rx="0.9" ry="3.2" fill="#d0b8c8"/>
<ellipse cx="317.3" cy="491.3" rx="0.9" ry="3.2" fill="#a8b040"/>
<ellipse cx="315.8" cy="493.2" rx="0.9" ry="3.2" fill="#50a070"/>
<ellipse cx="461.9" cy="406.5" rx="0.9" ry="3.2" fill="#c89030"/>
<ellipse cx="463" cy="405.6" rx="0.9" ry="3.2" fill="#50a070"/>
<ellipse cx="527.5" cy="408.6" rx="0.9" ry="3.2" fill="#50a070"/>
<ellipse cx="529.4" cy="397" rx="0.9" ry="3.2" fill="#c89030"/>
<ellipse cx="581.6" cy="406.7" rx="0.9" ry="3.2" fill="#c89030"/>
<ellipse cx="571.9" cy="398.8" rx="0.9" ry="3.2" fill="#c89030"/>
<ellipse cx="475.9" cy="411.2" rx="0.9" ry="3.2" fill="#c05020"/>
<ellipse cx="471.4" cy="414.8" rx="0.9" ry="3.2" fill="#d0b8c8"/>
<ellipse cx="490.3" cy="406.3" rx="0.9" ry="3.2" fill="#a8b040"/>
<ellipse cx="489.9" cy="406" rx="0.9" ry="3.2" fill="#d0b8c8"/>
<ellipse cx="512.1" cy="409.9" rx="0.9" ry="3.2" fill="#3898b0"/>
<ellipse cx="508.5" cy="412.1" rx="0.9" ry="3.2" fill="#c89030"/>
<ellipse cx="527.2" cy="412.7" rx="0.9" ry="3.2" fill="#a8b040"/>
<ellipse cx="523.3" cy="405.6" rx="0.9" ry="3.2" fill="#3050b0"/>
<ellipse cx="536.1" cy="413.2" rx="0.9" ry="3.2" fill="#50a070"/>
<ellipse cx="549.6" cy="416" rx="0.9" ry="3.2" fill="#3898b0"/>
<ellipse cx="557.8" cy="422.7" rx="0.9" ry="3.2" fill="#c05020"/>
<ellipse cx="553.2" cy="419.4" rx="0.9" ry="3.2" fill="#c89030"/>
<ellipse cx="569.9" cy="424.8" rx="0.9" ry="3.2" fill="#3050b0"/>
<ellipse cx="581.5" cy="421.5" rx="0.9" ry="3.2" fill="#c05020"/>
<ellipse cx="458.1" cy="411.9" rx="0.9" ry="3.2" fill="#d0b8c8"/>
<ellipse cx="444.4" cy="416.3" rx="0.9" ry="3.2" fill="#3050b0"/>
<ellipse cx="491.7" cy="413.3" rx="0.9" ry="3.2" fill="#c89030"/>
<ellipse cx="499" cy="411.4" rx="0.9" ry="3.2" fill="#c89030"/>
<ellipse cx="503.9" cy="425.7" rx="0.9" ry="3.2" fill="#a8b040"/>
<ellipse cx="506.5" cy="428.5" rx="0.9" ry="3.2" fill="#c89030"/>
<ellipse cx="519" cy="424.3" rx="0.9" ry="3.2" fill="#3898b0"/>
<ellipse cx="524.6" cy="419.5" rx="0.9" ry="3.2" fill="#a8b040"/>
<ellipse cx="540.4" cy="423.8" rx="0.9" ry="3.2" fill="#3050b0"/>
<ellipse cx="550.7" cy="432.5" rx="0.9" ry="3.2" fill="#c89030"/>
<ellipse cx="451.6" cy="427.6" rx="0.9" ry="3.2" fill="#3050b0"/>
<ellipse cx="459.6" cy="422.1" rx="0.9" ry="3.2" fill="#c89030"/>
<ellipse cx="488.9" cy="430.6" rx="0.9" ry="3.2" fill="#d0b8c8"/>
<ellipse cx="487.6" cy="434.1" rx="0.9" ry="3.2" fill="#50a070"/>
<ellipse cx="567.2" cy="430" rx="0.9" ry="3.2" fill="#c05020"/>
<ellipse cx="567.1" cy="429.6" rx="0.9" ry="3.2" fill="#d0b8c8"/>
<ellipse cx="573.9" cy="441.4" rx="0.9" ry="3.2" fill="#50a070"/>
<ellipse cx="572.8" cy="441.3" rx="0.9" ry="3.2" fill="#3898b0"/>
<ellipse cx="476" cy="436.1" rx="0.9" ry="3.2" fill="#3898b0"/>
<ellipse cx="461.6" cy="438.6" rx="0.9" ry="3.2" fill="#a8b040"/>
<ellipse cx="501.1" cy="435.8" rx="0.9" ry="3.2" fill="#a8b040"/>
<ellipse cx="486.6" cy="438.6" rx="0.9" ry="3.2" fill="#d0b8c8"/>
<ellipse cx="512.5" cy="431.9" rx="0.9" ry="3.2" fill="#c05020"/>
<ellipse cx="506.2" cy="443.3" rx="0.9" ry="3.2" fill="#d0b8c8"/>
<ellipse cx="535.7" cy="436.7" rx="0.9" ry="3.2" fill="#a8b040"/>
<ellipse cx="522.4" cy="442.5" rx="0.9" ry="3.2" fill="#c89030"/>
<ellipse cx="539.2" cy="446" rx="0.9" ry="3.2" fill="#3050b0"/>
<ellipse cx="543.8" cy="447.8" rx="0.9" ry="3.2" fill="#d0b8c8"/>
<ellipse cx="447.9" cy="443.1" rx="0.9" ry="3.2" fill="#d0b8c8"/>
<ellipse cx="462.9" cy="442.4" rx="0.9" ry="3.2" fill="#3898b0"/>
<ellipse cx="485.2" cy="449" rx="0.9" ry="3.2" fill="#50a070"/>
<ellipse cx="470.8" cy="450" rx="0.9" ry="3.2" fill="#c89030"/>
<ellipse cx="498.3" cy="455.7" rx="0.9" ry="3.2" fill="#c05020"/>
<ellipse cx="495.2" cy="449.5" rx="0.9" ry="3.2" fill="#d0b8c8"/>
<ellipse cx="514.1" cy="444.9" rx="0.9" ry="3.2" fill="#c05020"/>
<ellipse cx="521.7" cy="456.1" rx="0.9" ry="3.2" fill="#d0b8c8"/>
<ellipse cx="558" cy="439.8" rx="0.9" ry="3.2" fill="#3050b0"/>
<ellipse cx="554.2" cy="442.7" rx="0.9" ry="3.2" fill="#50a070"/>
<ellipse cx="570.6" cy="454.7" rx="0.9" ry="3.2" fill="#3898b0"/>
<ellipse cx="566.9" cy="448.8" rx="0.9" ry="3.2" fill="#3050b0"/>
<ellipse cx="454.9" cy="463.8" rx="0.9" ry="3.2" fill="#50a070"/>
<ellipse cx="456" cy="451.2" rx="0.9" ry="3.2" fill="#3898b0"/>
<ellipse cx="469.6" cy="457.6" rx="0.9" ry="3.2" fill="#d0b8c8"/>
<ellipse cx="466.5" cy="469.3" rx="0.9" ry="3.2" fill="#3898b0"/>
<ellipse cx="486.9" cy="464.3" rx="0.9" ry="3.2" fill="#3898b0"/>
<ellipse cx="490.1" cy="465" rx="0.9" ry="3.2" fill="#a8b040"/>
<ellipse cx="507.4" cy="470.5" rx="0.9" ry="3.2" fill="#a8b040"/>
<ellipse cx="506.1" cy="471" rx="0.9" ry="3.2" fill="#50a070"/>
<ellipse cx="536.1" cy="460.6" rx="0.9" ry="3.2" fill="#3050b0"/>
<ellipse cx="527.8" cy="454.8" rx="0.9" ry="3.2" fill="#d0b8c8"/>
<ellipse cx="543.3" cy="462.3" rx="0.9" ry="3.2" fill="#a8b040"/>
<ellipse cx="539.6" cy="450.9" rx="0.9" ry="3.2" fill="#a8b040"/>
<ellipse cx="557.5" cy="466.7" rx="0.9" ry="3.2" fill="#d0b8c8"/>
<ellipse cx="551.6" cy="461.8" rx="0.9" ry="3.2" fill="#c89030"/>
<ellipse cx="566.9" cy="467.9" rx="0.9" ry="3.2" fill="#d0b8c8"/>
<ellipse cx="570.3" cy="457.9" rx="0.9" ry="3.2" fill="#d0b8c8"/>
<ellipse cx="459.2" cy="475" rx="0.9" ry="3.2" fill="#3050b0"/>
<ellipse cx="444.5" cy="477.3" rx="0.9" ry="3.2" fill="#50a070"/>
<ellipse cx="475.1" cy="484.7" rx="0.9" ry="3.2" fill="#d0b8c8"/>
<ellipse cx="482.9" cy="478.4" rx="0.9" ry="3.2" fill="#3898b0"/>
<ellipse cx="495.3" cy="469.2" rx="0.9" ry="3.2" fill="#d0b8c8"/>
<ellipse cx="486.8" cy="466.5" rx="0.9" ry="3.2" fill="#d0b8c8"/>
<ellipse cx="520.5" cy="465.9" rx="0.9" ry="3.2" fill="#3898b0"/>
<ellipse cx="513.1" cy="465.4" rx="0.9" ry="3.2" fill="#a8b040"/>
<ellipse cx="533.6" cy="471.3" rx="0.9" ry="3.2" fill="#c05020"/>
<ellipse cx="540.3" cy="475.9" rx="0.9" ry="3.2" fill="#a8b040"/>
<ellipse cx="566.7" cy="470.9" rx="0.9" ry="3.2" fill="#3898b0"/>
<ellipse cx="562.3" cy="468.5" rx="0.9" ry="3.2" fill="#50a070"/>
<ellipse cx="574.4" cy="485" rx="0.9" ry="3.2" fill="#d0b8c8"/>
<ellipse cx="566.9" cy="479.2" rx="0.9" ry="3.2" fill="#c89030"/>
<ellipse cx="457.3" cy="481.3" rx="0.9" ry="3.2" fill="#d0b8c8"/>
<ellipse cx="455.2" cy="485" rx="0.9" ry="3.2" fill="#50a070"/>
<ellipse cx="492.2" cy="483.6" rx="0.9" ry="3.2" fill="#c05020"/>
<ellipse cx="487.6" cy="481.2" rx="0.9" ry="3.2" fill="#d0b8c8"/>
<ellipse cx="505.8" cy="473.8" rx="0.9" ry="3.2" fill="#a8b040"/>
<ellipse cx="509.4" cy="481" rx="0.9" ry="3.2" fill="#d0b8c8"/>
<ellipse cx="519.2" cy="493.1" rx="0.9" ry="3.2" fill="#3898b0"/>
<ellipse cx="510.3" cy="485.9" rx="0.9" ry="3.2" fill="#a8b040"/>
<ellipse cx="536.9" cy="476.8" rx="0.9" ry="3.2" fill="#d0b8c8"/>
<ellipse cx="525.4" cy="480.5" rx="0.9" ry="3.2" fill="#d0b8c8"/>
<ellipse cx="540.6" cy="481.7" rx="0.9" ry="3.2" fill="#c05020"/>
<ellipse cx="540.6" cy="481.3" rx="0.9" ry="3.2" fill="#d0b8c8"/>
<ellipse cx="450.5" cy="489.3" rx="0.9" ry="3.2" fill="#d0b8c8"/>
<ellipse cx="452.8" cy="502.1" rx="0.9" ry="3.2" fill="#50a070"/>
<ellipse cx="468.6" cy="498.9" rx="0.9" ry="3.2" fill="#a8b040"/>
<ellipse cx="473.5" cy="488.4" rx="0.9" ry="3.2" fill="#c05020"/>
<ellipse cx="499.6" cy="489" rx="0.9" ry="3.2" fill="#3050b0"/>
<ellipse cx="503.3" cy="500.4" rx="0.9" ry="3.2" fill="#d0b8c8"/>
<ellipse cx="549.5" cy="497" rx="0.9" ry="3.2" fill="#a8b040"/>
<ellipse cx="536.1" cy="497.7" rx="0.9" ry="3.2" fill="#d0b8c8"/>
<ellipse cx="555.6" cy="484.7" rx="0.9" ry="3.2" fill="#c05020"/>
<ellipse cx="554.2" cy="486.3" rx="0.9" ry="3.2" fill="#a8b040"/>
<ellipse cx="575.6" cy="500.4" rx="0.9" ry="3.2" fill="#d0b8c8"/>
<ellipse cx="581.3" cy="491.6" rx="0.9" ry="3.2" fill="#d0b8c8"/>
<ellipse cx="320.6" cy="469.8" rx="0.9" ry="3.2" fill="#d0b8c8"/>
<ellipse cx="305.9" cy="472.5" rx="0.9" ry="3.2" fill="#50a070"/>
</g>
<g filter="url(#bl08)">
<circle cx="564.7" cy="319.6" r="6.4" fill="#d8c4cc" opacity="0.55"/>
<circle cx="565.5" cy="334.1" r="6.4" fill="#d8c4cc" opacity="0.55"/>
<circle cx="316.2" cy="349.9" r="6.4" fill="#d8c4cc" opacity="0.55"/>
<circle cx="334.6" cy="345.1" r="6.4" fill="#d8c4cc" opacity="0.55"/>
<circle cx="352.6" cy="342.9" r="6.4" fill="#d8c4cc" opacity="0.55"/>
<circle cx="392.3" cy="348.6" r="6.4" fill="#d8c4cc" opacity="0.55"/>
<circle cx="413.3" cy="343.7" r="6.4" fill="#d8c4cc" opacity="0.55"/>
<circle cx="444.3" cy="350.4" r="6.4" fill="#d8c4cc" opacity="0.55"/>
<circle cx="456.6" cy="341.1" r="6.4" fill="#d8c4cc" opacity="0.55"/>
<circle cx="503.1" cy="344.6" r="6.4" fill="#d8c4cc" opacity="0.55"/>
<circle cx="526.2" cy="345.1" r="6.4" fill="#d8c4cc" opacity="0.55"/>
<circle cx="548" cy="343.7" r="6.4" fill="#d8c4cc" opacity="0.55"/>
<circle cx="572.5" cy="346.9" r="6.4" fill="#d8c4cc" opacity="0.55"/>
<circle cx="310.1" cy="363" r="6.4" fill="#d8c4cc" opacity="0.55"/>
<circle cx="332" cy="359.5" r="6.4" fill="#d8c4cc" opacity="0.55"/>
<circle cx="350.4" cy="356.9" r="6.4" fill="#d8c4cc" opacity="0.55"/>
<circle cx="364.9" cy="357.7" r="6.4" fill="#d8c4cc" opacity="0.55"/>
<circle cx="379.6" cy="356" r="6.4" fill="#d8c4cc" opacity="0.55"/>
<circle cx="402.8" cy="359.1" r="6.4" fill="#d8c4cc" opacity="0.55"/>
<circle cx="424.4" cy="354.2" r="6.4" fill="#d8c4cc" opacity="0.55"/>
<circle cx="436.6" cy="362.1" r="6.4" fill="#d8c4cc" opacity="0.55"/>
<circle cx="450.6" cy="363.9" r="6.4" fill="#d8c4cc" opacity="0.55"/>
<circle cx="462.3" cy="354.2" r="6.4" fill="#d8c4cc" opacity="0.55"/>
<circle cx="476.8" cy="356.3" r="6.4" fill="#d8c4cc" opacity="0.55"/>
<circle cx="491.5" cy="353.9" r="6.4" fill="#d8c4cc" opacity="0.55"/>
<circle cx="509.6" cy="357.7" r="6.4" fill="#d8c4cc" opacity="0.55"/>
<circle cx="524.1" cy="359.8" r="6.4" fill="#d8c4cc" opacity="0.55"/>
<circle cx="538.1" cy="354.2" r="6.4" fill="#d8c4cc" opacity="0.55"/>
<circle cx="554.2" cy="356.9" r="6.4" fill="#d8c4cc" opacity="0.55"/>
<circle cx="573.4" cy="361.2" r="6.4" fill="#d8c4cc" opacity="0.55"/>
<circle cx="322.4" cy="370.9" r="6.4" fill="#d8c4cc" opacity="0.55"/>
<circle cx="344.6" cy="370.9" r="6.4" fill="#d8c4cc" opacity="0.55"/>
<circle cx="359.1" cy="370.9" r="6.4" fill="#d8c4cc" opacity="0.55"/>
<circle cx="373.6" cy="369.6" r="6.4" fill="#d8c4cc" opacity="0.55"/>
<circle cx="388.8" cy="367.9" r="6.4" fill="#d8c4cc" opacity="0.55"/>
<circle cx="414.6" cy="368.2" r="6.4" fill="#d8c4cc" opacity="0.55"/>
<circle cx="427.9" cy="374.4" r="6.4" fill="#d8c4cc" opacity="0.55"/>
<circle cx="442.2" cy="376.1" r="6.4" fill="#d8c4cc" opacity="0.55"/>
<circle cx="466.7" cy="368.6" r="6.4" fill="#d8c4cc" opacity="0.55"/>
<circle cx="487.3" cy="367.4" r="6.4" fill="#d8c4cc" opacity="0.55"/>
<circle cx="506.1" cy="372.1" r="6.4" fill="#d8c4cc" opacity="0.55"/>
<circle cx="542.8" cy="368.6" r="6.4" fill="#d8c4cc" opacity="0.55"/>
<circle cx="559.4" cy="370.9" r="6.4" fill="#d8c4cc" opacity="0.55"/>
<circle cx="310.1" cy="378.4" r="6.4" fill="#d8c4cc" opacity="0.55"/>
<circle cx="335.8" cy="382.6" r="6.4" fill="#d8c4cc" opacity="0.55"/>
<circle cx="353" cy="384.3" r="6.4" fill="#d8c4cc" opacity="0.55"/>
<circle cx="367" cy="385.7" r="6.4" fill="#d8c4cc" opacity="0.55"/>
<circle cx="381.8" cy="381.9" r="6.4" fill="#d8c4cc" opacity="0.55"/>
<circle cx="398.1" cy="380.1" r="6.4" fill="#d8c4cc" opacity="0.55"/>
<circle cx="415.6" cy="382.2" r="6.4" fill="#d8c4cc" opacity="0.55"/>
<circle cx="432.1" cy="388.3" r="6.4" fill="#d8c4cc" opacity="0.55"/>
<circle cx="446.6" cy="390.6" r="6.4" fill="#d8c4cc" opacity="0.55"/>
<circle cx="457.1" cy="379.6" r="6.4" fill="#d8c4cc" opacity="0.55"/>
<circle cx="467.6" cy="390.6" r="6.4" fill="#d8c4cc" opacity="0.55"/>
<circle cx="478.1" cy="381.4" r="6.4" fill="#d8c4cc" opacity="0.55"/>
<circle cx="494.3" cy="380.8" r="6.4" fill="#d8c4cc" opacity="0.55"/>
<circle cx="527.1" cy="374.4" r="6.4" fill="#d8c4cc" opacity="0.55"/>
<circle cx="546.3" cy="382.6" r="6.4" fill="#d8c4cc" opacity="0.55"/>
<circle cx="560.8" cy="386.1" r="6.4" fill="#d8c4cc" opacity="0.55"/>
<circle cx="573.1" cy="375.6" r="6.4" fill="#d8c4cc" opacity="0.55"/>
<circle cx="321.5" cy="387.5" r="6.4" fill="#d8c4cc" opacity="0.55"/>
<circle cx="309.6" cy="395.9" r="6.4" fill="#d8c4cc" opacity="0.55"/>
<circle cx="331.1" cy="398.8" r="6.4" fill="#d8c4cc" opacity="0.55"/>
<circle cx="346" cy="397.1" r="6.4" fill="#d8c4cc" opacity="0.55"/>
<circle cx="359.6" cy="401.8" r="6.4" fill="#d8c4cc" opacity="0.55"/>
<circle cx="373.6" cy="399.4" r="6.4" fill="#d8c4cc" opacity="0.55"/>
<circle cx="388" cy="395.3" r="6.4" fill="#d8c4cc" opacity="0.55"/>
<circle cx="404.6" cy="392.7" r="6.4" fill="#d8c4cc" opacity="0.55"/>
<circle cx="480.3" cy="396.2" r="6.4" fill="#d8c4cc" opacity="0.55"/>
<circle cx="495.6" cy="395.9" r="6.4" fill="#d8c4cc" opacity="0.55"/>
<circle cx="507.8" cy="387.1" r="6.4" fill="#d8c4cc" opacity="0.55"/>
<circle cx="518.3" cy="396.6" r="6.4" fill="#d8c4cc" opacity="0.55"/>
<circle cx="531.1" cy="388.9" r="6.4" fill="#d8c4cc" opacity="0.55"/>
<circle cx="545.4" cy="397.1" r="6.4" fill="#d8c4cc" opacity="0.55"/>
<circle cx="560.3" cy="401.5" r="6.4" fill="#d8c4cc" opacity="0.55"/>
<circle cx="574.8" cy="390.6" r="6.4" fill="#d8c4cc" opacity="0.55"/>
<circle cx="337.2" cy="504.9" r="6.4" fill="#d8c4cc" opacity="0.55"/>
<circle cx="352.1" cy="508.4" r="6.4" fill="#d8c4cc" opacity="0.55"/>
<circle cx="367" cy="506.6" r="6.4" fill="#d8c4cc" opacity="0.55"/>
<circle cx="389.7" cy="509.6" r="6.4" fill="#d8c4cc" opacity="0.55"/>
<circle cx="412.5" cy="507.9" r="6.4" fill="#d8c4cc" opacity="0.55"/>
<circle cx="427.3" cy="505.2" r="6.4" fill="#d8c4cc" opacity="0.55"/>
<circle cx="442.2" cy="507" r="6.4" fill="#d8c4cc" opacity="0.55"/>
<circle cx="462.3" cy="504.9" r="6.4" fill="#d8c4cc" opacity="0.55"/>
<circle cx="479.8" cy="509.1" r="6.4" fill="#d8c4cc" opacity="0.55"/>
<circle cx="492.1" cy="502.1" r="6.4" fill="#d8c4cc" opacity="0.55"/>
<circle cx="502.6" cy="511.4" r="6.4" fill="#d8c4cc" opacity="0.55"/>
<circle cx="515.7" cy="504.9" r="6.4" fill="#d8c4cc" opacity="0.55"/>
<circle cx="529.7" cy="503.8" r="6.4" fill="#d8c4cc" opacity="0.55"/>
<circle cx="542.8" cy="510.8" r="6.4" fill="#d8c4cc" opacity="0.55"/>
<circle cx="555.9" cy="503.8" r="6.4" fill="#d8c4cc" opacity="0.55"/>
<circle cx="574.3" cy="507.9" r="6.4" fill="#d8c4cc" opacity="0.55"/>
<circle cx="310.6" cy="521.9" r="6.4" fill="#d8c4cc" opacity="0.55"/>
<circle cx="324.6" cy="530.1" r="6.4" fill="#d8c4cc" opacity="0.55"/>
<circle cx="339.9" cy="526.2" r="6.4" fill="#d8c4cc" opacity="0.55"/>
<circle cx="361.7" cy="520.1" r="6.4" fill="#d8c4cc" opacity="0.55"/>
<circle cx="377.5" cy="517.8" r="6.4" fill="#d8c4cc" opacity="0.55"/>
<circle cx="403.4" cy="519.6" r="6.4" fill="#d8c4cc" opacity="0.55"/>
<circle cx="419.8" cy="522.7" r="6.4" fill="#d8c4cc" opacity="0.55"/>
<circle cx="444" cy="521" r="6.4" fill="#d8c4cc" opacity="0.55"/>
<circle cx="468.4" cy="518.9" r="6.4" fill="#d8c4cc" opacity="0.55"/>
<circle cx="489.4" cy="520.6" r="6.4" fill="#d8c4cc" opacity="0.55"/>
<circle cx="503.4" cy="526.6" r="6.4" fill="#d8c4cc" opacity="0.55"/>
<circle cx="517.4" cy="518.9" r="6.4" fill="#d8c4cc" opacity="0.55"/>
<circle cx="534.1" cy="522.7" r="6.4" fill="#d8c4cc" opacity="0.55"/>
<circle cx="548.9" cy="524.5" r="6.4" fill="#d8c4cc" opacity="0.55"/>
<circle cx="562" cy="516.6" r="6.4" fill="#d8c4cc" opacity="0.55"/>
<circle cx="574.3" cy="522.4" r="6.4" fill="#d8c4cc" opacity="0.55"/>
<circle cx="310.6" cy="537.1" r="6.4" fill="#d8c4cc" opacity="0.55"/>
<circle cx="334.6" cy="542.9" r="6.4" fill="#d8c4cc" opacity="0.55"/>
<circle cx="355.6" cy="532.9" r="6.4" fill="#d8c4cc" opacity="0.55"/>
<circle cx="367" cy="541.6" r="6.4" fill="#d8c4cc" opacity="0.55"/>
<circle cx="378.3" cy="532.4" r="6.4" fill="#d8c4cc" opacity="0.55"/>
<circle cx="393.2" cy="530.6" r="6.4" fill="#d8c4cc" opacity="0.55"/>
<circle cx="409" cy="534.1" r="6.4" fill="#d8c4cc" opacity="0.55"/>
<circle cx="428.2" cy="534.1" r="6.4" fill="#d8c4cc" opacity="0.55"/>
<circle cx="444" cy="535.9" r="6.4" fill="#d8c4cc" opacity="0.55"/>
<circle cx="457.1" cy="528.9" r="6.4" fill="#d8c4cc" opacity="0.55"/>
<circle cx="477.2" cy="529.7" r="6.4" fill="#d8c4cc" opacity="0.55"/>
<circle cx="491.2" cy="534.6" r="6.4" fill="#d8c4cc" opacity="0.55"/>
<circle cx="509.6" cy="539.9" r="6.4" fill="#d8c4cc" opacity="0.55"/>
<circle cx="522.7" cy="532.4" r="6.4" fill="#d8c4cc" opacity="0.55"/>
<circle cx="543.7" cy="538.1" r="6.4" fill="#d8c4cc" opacity="0.55"/>
<circle cx="560.3" cy="531.5" r="6.4" fill="#d8c4cc" opacity="0.55"/>
<circle cx="574.3" cy="537.6" r="6.4" fill="#d8c4cc" opacity="0.55"/>
<circle cx="314.5" cy="552.1" r="6.4" fill="#d8c4cc" opacity="0.55"/>
<circle cx="348.6" cy="546.4" r="6.4" fill="#d8c4cc" opacity="0.55"/>
<circle cx="381.8" cy="546.9" r="6.4" fill="#d8c4cc" opacity="0.55"/>
<circle cx="396.7" cy="544.6" r="6.4" fill="#d8c4cc" opacity="0.55"/>
<circle cx="412.5" cy="547.6" r="6.4" fill="#d8c4cc" opacity="0.55"/>
<circle cx="436.1" cy="548.1" r="6.4" fill="#d8c4cc" opacity="0.55"/>
<circle cx="452.7" cy="549.9" r="6.4" fill="#d8c4cc" opacity="0.55"/>
<circle cx="465.8" cy="540.6" r="6.4" fill="#d8c4cc" opacity="0.55"/>
<circle cx="479.8" cy="544.6" r="6.4" fill="#d8c4cc" opacity="0.55"/>
<circle cx="498.2" cy="548.1" r="6.4" fill="#d8c4cc" opacity="0.55"/>
<circle cx="529.3" cy="545.1" r="6.4" fill="#d8c4cc" opacity="0.55"/>
<circle cx="558.5" cy="546.4" r="6.4" fill="#d8c4cc" opacity="0.55"/>
<circle cx="574.3" cy="552.1" r="6.4" fill="#d8c4cc" opacity="0.55"/>
<circle cx="331.1" cy="557.7" r="6.4" fill="#d8c4cc" opacity="0.55"/>
<circle cx="346.9" cy="560.9" r="6.4" fill="#d8c4cc" opacity="0.55"/>
<circle cx="360.9" cy="555.1" r="6.4" fill="#d8c4cc" opacity="0.55"/>
<circle cx="374" cy="559.5" r="6.4" fill="#d8c4cc" opacity="0.55"/>
<circle cx="391.5" cy="558.6" r="6.4" fill="#d8c4cc" opacity="0.55"/>
<circle cx="410.7" cy="562.6" r="6.4" fill="#d8c4cc" opacity="0.55"/>
<circle cx="423.8" cy="556.3" r="6.4" fill="#d8c4cc" opacity="0.55"/>
<circle cx="443.1" cy="561.2" r="6.4" fill="#d8c4cc" opacity="0.55"/>
<circle cx="457.1" cy="564.4" r="6.4" fill="#d8c4cc" opacity="0.55"/>
<circle cx="469.3" cy="555.6" r="6.4" fill="#d8c4cc" opacity="0.55"/>
<circle cx="485.9" cy="557.4" r="6.4" fill="#d8c4cc" opacity="0.55"/>
<circle cx="507.8" cy="558.6" r="6.4" fill="#d8c4cc" opacity="0.55"/>
<circle cx="522.7" cy="557.7" r="6.4" fill="#d8c4cc" opacity="0.55"/>
<circle cx="535.8" cy="563.9" r="6.4" fill="#d8c4cc" opacity="0.55"/>
<circle cx="547.2" cy="552.1" r="6.4" fill="#d8c4cc" opacity="0.55"/>
<circle cx="561.2" cy="560.4" r="6.4" fill="#d8c4cc" opacity="0.55"/>
<circle cx="318.9" cy="566.1" r="6.4" fill="#d8c4cc" opacity="0.55"/>
<circle cx="360.9" cy="569.6" r="6.4" fill="#d8c4cc" opacity="0.55"/>
<circle cx="384.5" cy="570.9" r="6.4" fill="#d8c4cc" opacity="0.55"/>
<circle cx="399.3" cy="570.9" r="6.4" fill="#d8c4cc" opacity="0.55"/>
<circle cx="430" cy="570" r="6.4" fill="#d8c4cc" opacity="0.55"/>
<circle cx="471.1" cy="569.6" r="6.4" fill="#d8c4cc" opacity="0.55"/>
<circle cx="485.1" cy="571.7" r="6.4" fill="#d8c4cc" opacity="0.55"/>
<circle cx="500.8" cy="570.9" r="6.4" fill="#d8c4cc" opacity="0.55"/>
<circle cx="516.6" cy="570.9" r="6.4" fill="#d8c4cc" opacity="0.55"/>
<circle cx="548.9" cy="569.1" r="6.4" fill="#d8c4cc" opacity="0.55"/>
<circle cx="562.9" cy="575.6" r="6.4" fill="#d8c4cc" opacity="0.55"/>
<circle cx="574.3" cy="566.1" r="6.4" fill="#d8c4cc" opacity="0.55"/>
<circle cx="536.7" cy="578.7" r="6.4" fill="#d8c4cc" opacity="0.55"/>
<circle cx="310.1" cy="577.9" r="6.4" fill="#d8c4cc" opacity="0.55"/>
<circle cx="362.6" cy="584.8" r="6.4" fill="#d8c4cc" opacity="0.55"/>
<circle cx="377.5" cy="584.8" r="6.4" fill="#d8c4cc" opacity="0.55"/>
<circle cx="392.3" cy="584.3" r="6.4" fill="#d8c4cc" opacity="0.55"/>
<circle cx="433.5" cy="584.8" r="6.4" fill="#d8c4cc" opacity="0.55"/>
<circle cx="448.3" cy="584.3" r="6.4" fill="#d8c4cc" opacity="0.55"/>
<circle cx="462.3" cy="582.6" r="6.4" fill="#d8c4cc" opacity="0.55"/>
<circle cx="477.2" cy="584.3" r="6.4" fill="#d8c4cc" opacity="0.55"/>
<circle cx="493.8" cy="584.3" r="6.4" fill="#d8c4cc" opacity="0.55"/>
<circle cx="509.6" cy="584.3" r="6.4" fill="#d8c4cc" opacity="0.55"/>
<circle cx="523.6" cy="584.8" r="6.4" fill="#d8c4cc" opacity="0.55"/>
<circle cx="550.7" cy="584.3" r="6.4" fill="#d8c4cc" opacity="0.55"/>
<circle cx="574.3" cy="584" r="6.4" fill="#d8c4cc" opacity="0.55"/>
<circle cx="398.4" cy="405.9" r="6.4" fill="#d8c4cc" opacity="0.55"/>
<circle cx="412.9" cy="405" r="6.4" fill="#d8c4cc" opacity="0.55"/>
<circle cx="427.5" cy="402.3" r="6.4" fill="#d8c4cc" opacity="0.55"/>
<circle cx="441.1" cy="405" r="6.4" fill="#d8c4cc" opacity="0.55"/>
<circle cx="310.3" cy="410.4" r="6.4" fill="#d8c4cc" opacity="0.55"/>
<circle cx="326.3" cy="413.2" r="6.4" fill="#d8c4cc" opacity="0.55"/>
<circle cx="341.6" cy="412.3" r="6.4" fill="#d8c4cc" opacity="0.55"/>
<circle cx="355.7" cy="418.2" r="6.4" fill="#d8c4cc" opacity="0.55"/>
<circle cx="369.4" cy="414.1" r="6.4" fill="#d8c4cc" opacity="0.55"/>
<circle cx="383.9" cy="409.5" r="6.4" fill="#d8c4cc" opacity="0.55"/>
<circle cx="405.7" cy="419.5" r="6.4" fill="#d8c4cc" opacity="0.55"/>
<circle cx="423.3" cy="416.4" r="6.4" fill="#d8c4cc" opacity="0.55"/>
<circle cx="437.5" cy="418.6" r="6.4" fill="#d8c4cc" opacity="0.55"/>
<circle cx="316.7" cy="429.5" r="6.4" fill="#d8c4cc" opacity="0.55"/>
<circle cx="341.6" cy="435.9" r="6.4" fill="#d8c4cc" opacity="0.55"/>
<circle cx="366.3" cy="427.7" r="6.4" fill="#d8c4cc" opacity="0.55"/>
<circle cx="387.5" cy="428" r="6.4" fill="#d8c4cc" opacity="0.55"/>
<circle cx="402.6" cy="433.1" r="6.4" fill="#d8c4cc" opacity="0.55"/>
<circle cx="417.1" cy="429.5" r="6.4" fill="#d8c4cc" opacity="0.55"/>
<circle cx="430.6" cy="435.9" r="6.4" fill="#d8c4cc" opacity="0.55"/>
<circle cx="442" cy="432.2" r="6.4" fill="#d8c4cc" opacity="0.55"/>
<circle cx="311.8" cy="443.7" r="6.4" fill="#d8c4cc" opacity="0.55"/>
<circle cx="326.3" cy="441.3" r="6.4" fill="#d8c4cc" opacity="0.55"/>
<circle cx="359" cy="441.8" r="6.4" fill="#d8c4cc" opacity="0.55"/>
<circle cx="376.6" cy="438.6" r="6.4" fill="#d8c4cc" opacity="0.55"/>
<circle cx="390.2" cy="443.1" r="6.4" fill="#d8c4cc" opacity="0.55"/>
<circle cx="416.6" cy="446.8" r="6.4" fill="#d8c4cc" opacity="0.55"/>
<circle cx="439.3" cy="446.8" r="6.4" fill="#d8c4cc" opacity="0.55"/>
<circle cx="318.5" cy="457.6" r="6.4" fill="#d8c4cc" opacity="0.55"/>
<circle cx="333" cy="456.7" r="6.4" fill="#d8c4cc" opacity="0.55"/>
<circle cx="346.7" cy="449.5" r="6.4" fill="#d8c4cc" opacity="0.55"/>
<circle cx="359.7" cy="456.7" r="6.4" fill="#d8c4cc" opacity="0.55"/>
<circle cx="373.9" cy="453.5" r="6.4" fill="#d8c4cc" opacity="0.55"/>
<circle cx="388.4" cy="457.6" r="6.4" fill="#d8c4cc" opacity="0.55"/>
<circle cx="403" cy="451.7" r="6.4" fill="#d8c4cc" opacity="0.55"/>
<circle cx="426.2" cy="458.9" r="6.4" fill="#d8c4cc" opacity="0.55"/>
<circle cx="441.1" cy="461.3" r="6.4" fill="#d8c4cc" opacity="0.55"/>
<circle cx="333" cy="470.9" r="6.4" fill="#d8c4cc" opacity="0.55"/>
<circle cx="347" cy="464.9" r="6.4" fill="#d8c4cc" opacity="0.55"/>
<circle cx="363" cy="471.3" r="6.4" fill="#d8c4cc" opacity="0.55"/>
<circle cx="377.9" cy="467.6" r="6.4" fill="#d8c4cc" opacity="0.55"/>
<circle cx="392.1" cy="472.2" r="6.4" fill="#d8c4cc" opacity="0.55"/>
<circle cx="411.1" cy="463.6" r="6.4" fill="#d8c4cc" opacity="0.55"/>
<circle cx="418.9" cy="476.4" r="6.4" fill="#d8c4cc" opacity="0.55"/>
<circle cx="432.9" cy="473.1" r="6.4" fill="#d8c4cc" opacity="0.55"/>
<circle cx="322.7" cy="481.3" r="6.4" fill="#d8c4cc" opacity="0.55"/>
<circle cx="351.7" cy="479.4" r="6.4" fill="#d8c4cc" opacity="0.55"/>
<circle cx="375.7" cy="483.1" r="6.4" fill="#d8c4cc" opacity="0.55"/>
<circle cx="404.4" cy="480" r="6.4" fill="#d8c4cc" opacity="0.55"/>
<circle cx="439.3" cy="485.4" r="6.4" fill="#d8c4cc" opacity="0.55"/>
<circle cx="309.4" cy="488.5" r="6.4" fill="#d8c4cc" opacity="0.55"/>
<circle cx="335.4" cy="488.5" r="6.4" fill="#d8c4cc" opacity="0.55"/>
<circle cx="348.8" cy="494" r="6.4" fill="#d8c4cc" opacity="0.55"/>
<circle cx="363.9" cy="491.2" r="6.4" fill="#d8c4cc" opacity="0.55"/>
<circle cx="380.8" cy="496.7" r="6.4" fill="#d8c4cc" opacity="0.55"/>
<circle cx="396.6" cy="495.2" r="6.4" fill="#d8c4cc" opacity="0.55"/>
<circle cx="410.2" cy="493.1" r="6.4" fill="#d8c4cc" opacity="0.55"/>
<circle cx="424.7" cy="489.4" r="6.4" fill="#d8c4cc" opacity="0.55"/>
<circle cx="322.7" cy="495.8" r="6.4" fill="#d8c4cc" opacity="0.55"/>
<circle cx="457.3" cy="401.4" r="6.4" fill="#d8c4cc" opacity="0.55"/>
<circle cx="531.7" cy="403.2" r="6.4" fill="#d8c4cc" opacity="0.55"/>
<circle cx="574.4" cy="405" r="6.4" fill="#d8c4cc" opacity="0.55"/>
<circle cx="469.1" cy="408.6" r="6.4" fill="#d8c4cc" opacity="0.55"/>
<circle cx="484.5" cy="410.4" r="6.4" fill="#d8c4cc" opacity="0.55"/>
<circle cx="506.3" cy="405.9" r="6.4" fill="#d8c4cc" opacity="0.55"/>
<circle cx="519.9" cy="411.3" r="6.4" fill="#d8c4cc" opacity="0.55"/>
<circle cx="543.5" cy="412.3" r="6.4" fill="#d8c4cc" opacity="0.55"/>
<circle cx="559.8" cy="416.4" r="6.4" fill="#d8c4cc" opacity="0.55"/>
<circle cx="574.4" cy="419.5" r="6.4" fill="#d8c4cc" opacity="0.55"/>
<circle cx="451.8" cy="415.3" r="6.4" fill="#d8c4cc" opacity="0.55"/>
<circle cx="497.2" cy="417.7" r="6.4" fill="#d8c4cc" opacity="0.55"/>
<circle cx="510.8" cy="423.1" r="6.4" fill="#d8c4cc" opacity="0.55"/>
<circle cx="526.3" cy="425.9" r="6.4" fill="#d8c4cc" opacity="0.55"/>
<circle cx="547.1" cy="426.8" r="6.4" fill="#d8c4cc" opacity="0.55"/>
<circle cx="459.1" cy="428.6" r="6.4" fill="#d8c4cc" opacity="0.55"/>
<circle cx="481.4" cy="430.4" r="6.4" fill="#d8c4cc" opacity="0.55"/>
<circle cx="559.8" cy="431.3" r="6.4" fill="#d8c4cc" opacity="0.55"/>
<circle cx="574.4" cy="434.9" r="6.4" fill="#d8c4cc" opacity="0.55"/>
<circle cx="469.1" cy="438.6" r="6.4" fill="#d8c4cc" opacity="0.55"/>
<circle cx="494.1" cy="438.2" r="6.4" fill="#d8c4cc" opacity="0.55"/>
<circle cx="510.8" cy="438.2" r="6.4" fill="#d8c4cc" opacity="0.55"/>
<circle cx="529" cy="439.5" r="6.4" fill="#d8c4cc" opacity="0.55"/>
<circle cx="544.4" cy="441.3" r="6.4" fill="#d8c4cc" opacity="0.55"/>
<circle cx="455.4" cy="443.1" r="6.4" fill="#d8c4cc" opacity="0.55"/>
<circle cx="478.1" cy="451.3" r="6.4" fill="#d8c4cc" opacity="0.55"/>
<circle cx="502.6" cy="450.4" r="6.4" fill="#d8c4cc" opacity="0.55"/>
<circle cx="518.1" cy="450.4" r="6.4" fill="#d8c4cc" opacity="0.55"/>
<circle cx="560.8" cy="445.8" r="6.4" fill="#d8c4cc" opacity="0.55"/>
<circle cx="574.4" cy="449.1" r="6.4" fill="#d8c4cc" opacity="0.55"/>
<circle cx="457.3" cy="457.6" r="6.4" fill="#d8c4cc" opacity="0.55"/>
<circle cx="470.9" cy="464" r="6.4" fill="#d8c4cc" opacity="0.55"/>
<circle cx="490.5" cy="458.6" r="6.4" fill="#d8c4cc" opacity="0.55"/>
<circle cx="503.6" cy="464.9" r="6.4" fill="#d8c4cc" opacity="0.55"/>
<circle cx="528.6" cy="461.3" r="6.4" fill="#d8c4cc" opacity="0.55"/>
<circle cx="544.4" cy="455.8" r="6.4" fill="#d8c4cc" opacity="0.55"/>
<circle cx="558.9" cy="460.4" r="6.4" fill="#d8c4cc" opacity="0.55"/>
<circle cx="572.9" cy="464" r="6.4" fill="#d8c4cc" opacity="0.55"/>
<circle cx="451.8" cy="475.8" r="6.4" fill="#d8c4cc" opacity="0.55"/>
<circle cx="475.4" cy="478.2" r="6.4" fill="#d8c4cc" opacity="0.55"/>
<circle cx="489" cy="472.7" r="6.4" fill="#d8c4cc" opacity="0.55"/>
<circle cx="516.3" cy="471.3" r="6.4" fill="#d8c4cc" opacity="0.55"/>
<circle cx="540.8" cy="469.5" r="6.4" fill="#d8c4cc" opacity="0.55"/>
<circle cx="560.8" cy="474.9" r="6.4" fill="#d8c4cc" opacity="0.55"/>
<circle cx="574.4" cy="478.5" r="6.4" fill="#d8c4cc" opacity="0.55"/>
<circle cx="462.7" cy="485.8" r="6.4" fill="#d8c4cc" opacity="0.55"/>
<circle cx="486.3" cy="487.6" r="6.4" fill="#d8c4cc" opacity="0.55"/>
<circle cx="502.1" cy="479.4" r="6.4" fill="#d8c4cc" opacity="0.55"/>
<circle cx="517.7" cy="486.7" r="6.4" fill="#d8c4cc" opacity="0.55"/>
<circle cx="532.6" cy="482.2" r="6.4" fill="#d8c4cc" opacity="0.55"/>
<circle cx="548" cy="482.2" r="6.4" fill="#d8c4cc" opacity="0.55"/>
<circle cx="450.9" cy="495.8" r="6.4" fill="#d8c4cc" opacity="0.55"/>
<circle cx="474.5" cy="494.9" r="6.4" fill="#d8c4cc" opacity="0.55"/>
<circle cx="504.5" cy="494" r="6.4" fill="#d8c4cc" opacity="0.55"/>
<circle cx="542.6" cy="494.5" r="6.4" fill="#d8c4cc" opacity="0.55"/>
<circle cx="560.8" cy="489.4" r="6.4" fill="#d8c4cc" opacity="0.55"/>
<circle cx="574.4" cy="494" r="6.4" fill="#d8c4cc" opacity="0.55"/>
<circle cx="313.2" cy="471" r="6.4" fill="#d8c4cc" opacity="0.55"/>
<circle cx="564.7" cy="319.6" r="5.35" fill="#fcf6fb"/>
<circle cx="565.5" cy="334.1" r="5.35" fill="#fcf6fb"/>
<circle cx="316.2" cy="349.9" r="5.35" fill="#fcf6fb"/>
<circle cx="334.6" cy="345.1" r="5.35" fill="#fcf6fb"/>
<circle cx="352.6" cy="342.9" r="5.35" fill="#fcf6fb"/>
<circle cx="392.3" cy="348.6" r="5.35" fill="#fcf6fb"/>
<circle cx="413.3" cy="343.7" r="5.35" fill="#fcf6fb"/>
<circle cx="444.3" cy="350.4" r="5.35" fill="#fcf6fb"/>
<circle cx="456.6" cy="341.1" r="5.35" fill="#fcf6fb"/>
<circle cx="503.1" cy="344.6" r="5.35" fill="#fcf6fb"/>
<circle cx="526.2" cy="345.1" r="5.35" fill="#fcf6fb"/>
<circle cx="548" cy="343.7" r="5.35" fill="#fcf6fb"/>
<circle cx="572.5" cy="346.9" r="5.35" fill="#fcf6fb"/>
<circle cx="310.1" cy="363" r="5.35" fill="#fcf6fb"/>
<circle cx="332" cy="359.5" r="5.35" fill="#fcf6fb"/>
<circle cx="350.4" cy="356.9" r="5.35" fill="#fcf6fb"/>
<circle cx="364.9" cy="357.7" r="5.35" fill="#fcf6fb"/>
<circle cx="379.6" cy="356" r="5.35" fill="#fcf6fb"/>
<circle cx="402.8" cy="359.1" r="5.35" fill="#fcf6fb"/>
<circle cx="424.4" cy="354.2" r="5.35" fill="#fcf6fb"/>
<circle cx="436.6" cy="362.1" r="5.35" fill="#fcf6fb"/>
<circle cx="450.6" cy="363.9" r="5.35" fill="#fcf6fb"/>
<circle cx="462.3" cy="354.2" r="5.35" fill="#fcf6fb"/>
<circle cx="476.8" cy="356.3" r="5.35" fill="#fcf6fb"/>
<circle cx="491.5" cy="353.9" r="5.35" fill="#fcf6fb"/>
<circle cx="509.6" cy="357.7" r="5.35" fill="#fcf6fb"/>
<circle cx="524.1" cy="359.8" r="5.35" fill="#fcf6fb"/>
<circle cx="538.1" cy="354.2" r="5.35" fill="#fcf6fb"/>
<circle cx="554.2" cy="356.9" r="5.35" fill="#fcf6fb"/>
<circle cx="573.4" cy="361.2" r="5.35" fill="#fcf6fb"/>
<circle cx="322.4" cy="370.9" r="5.35" fill="#fcf6fb"/>
<circle cx="344.6" cy="370.9" r="5.35" fill="#fcf6fb"/>
<circle cx="359.1" cy="370.9" r="5.35" fill="#fcf6fb"/>
<circle cx="373.6" cy="369.6" r="5.35" fill="#fcf6fb"/>
<circle cx="388.8" cy="367.9" r="5.35" fill="#fcf6fb"/>
<circle cx="414.6" cy="368.2" r="5.35" fill="#fcf6fb"/>
<circle cx="427.9" cy="374.4" r="5.35" fill="#fcf6fb"/>
<circle cx="442.2" cy="376.1" r="5.35" fill="#fcf6fb"/>
<circle cx="466.7" cy="368.6" r="5.35" fill="#fcf6fb"/>
<circle cx="487.3" cy="367.4" r="5.35" fill="#fcf6fb"/>
<circle cx="506.1" cy="372.1" r="5.35" fill="#fcf6fb"/>
<circle cx="542.8" cy="368.6" r="5.35" fill="#fcf6fb"/>
<circle cx="559.4" cy="370.9" r="5.35" fill="#fcf6fb"/>
<circle cx="310.1" cy="378.4" r="5.35" fill="#fcf6fb"/>
<circle cx="335.8" cy="382.6" r="5.35" fill="#fcf6fb"/>
<circle cx="353" cy="384.3" r="5.35" fill="#fcf6fb"/>
<circle cx="367" cy="385.7" r="5.35" fill="#fcf6fb"/>
<circle cx="381.8" cy="381.9" r="5.35" fill="#fcf6fb"/>
<circle cx="398.1" cy="380.1" r="5.35" fill="#fcf6fb"/>
<circle cx="415.6" cy="382.2" r="5.35" fill="#fcf6fb"/>
<circle cx="432.1" cy="388.3" r="5.35" fill="#fcf6fb"/>
<circle cx="446.6" cy="390.6" r="5.35" fill="#fcf6fb"/>
<circle cx="457.1" cy="379.6" r="5.35" fill="#fcf6fb"/>
<circle cx="467.6" cy="390.6" r="5.35" fill="#fcf6fb"/>
<circle cx="478.1" cy="381.4" r="5.35" fill="#fcf6fb"/>
<circle cx="494.3" cy="380.8" r="5.35" fill="#fcf6fb"/>
<circle cx="527.1" cy="374.4" r="5.35" fill="#fcf6fb"/>
<circle cx="546.3" cy="382.6" r="5.35" fill="#fcf6fb"/>
<circle cx="560.8" cy="386.1" r="5.35" fill="#fcf6fb"/>
<circle cx="573.1" cy="375.6" r="5.35" fill="#fcf6fb"/>
<circle cx="321.5" cy="387.5" r="5.35" fill="#fcf6fb"/>
<circle cx="309.6" cy="395.9" r="5.35" fill="#fcf6fb"/>
<circle cx="331.1" cy="398.8" r="5.35" fill="#fcf6fb"/>
<circle cx="346" cy="397.1" r="5.35" fill="#fcf6fb"/>
<circle cx="359.6" cy="401.8" r="5.35" fill="#fcf6fb"/>
<circle cx="373.6" cy="399.4" r="5.35" fill="#fcf6fb"/>
<circle cx="388" cy="395.3" r="5.35" fill="#fcf6fb"/>
<circle cx="404.6" cy="392.7" r="5.35" fill="#fcf6fb"/>
<circle cx="480.3" cy="396.2" r="5.35" fill="#fcf6fb"/>
<circle cx="495.6" cy="395.9" r="5.35" fill="#fcf6fb"/>
<circle cx="507.8" cy="387.1" r="5.35" fill="#fcf6fb"/>
<circle cx="518.3" cy="396.6" r="5.35" fill="#fcf6fb"/>
<circle cx="531.1" cy="388.9" r="5.35" fill="#fcf6fb"/>
<circle cx="545.4" cy="397.1" r="5.35" fill="#fcf6fb"/>
<circle cx="560.3" cy="401.5" r="5.35" fill="#fcf6fb"/>
<circle cx="574.8" cy="390.6" r="5.35" fill="#fcf6fb"/>
<circle cx="337.2" cy="504.9" r="5.35" fill="#fcf6fb"/>
<circle cx="352.1" cy="508.4" r="5.35" fill="#fcf6fb"/>
<circle cx="367" cy="506.6" r="5.35" fill="#fcf6fb"/>
<circle cx="389.7" cy="509.6" r="5.35" fill="#fcf6fb"/>
<circle cx="412.5" cy="507.9" r="5.35" fill="#fcf6fb"/>
<circle cx="427.3" cy="505.2" r="5.35" fill="#fcf6fb"/>
<circle cx="442.2" cy="507" r="5.35" fill="#fcf6fb"/>
<circle cx="462.3" cy="504.9" r="5.35" fill="#fcf6fb"/>
<circle cx="479.8" cy="509.1" r="5.35" fill="#fcf6fb"/>
<circle cx="492.1" cy="502.1" r="5.35" fill="#fcf6fb"/>
<circle cx="502.6" cy="511.4" r="5.35" fill="#fcf6fb"/>
<circle cx="515.7" cy="504.9" r="5.35" fill="#fcf6fb"/>
<circle cx="529.7" cy="503.8" r="5.35" fill="#fcf6fb"/>
<circle cx="542.8" cy="510.8" r="5.35" fill="#fcf6fb"/>
<circle cx="555.9" cy="503.8" r="5.35" fill="#fcf6fb"/>
<circle cx="574.3" cy="507.9" r="5.35" fill="#fcf6fb"/>
<circle cx="310.6" cy="521.9" r="5.35" fill="#fcf6fb"/>
<circle cx="324.6" cy="530.1" r="5.35" fill="#fcf6fb"/>
<circle cx="339.9" cy="526.2" r="5.35" fill="#fcf6fb"/>
<circle cx="361.7" cy="520.1" r="5.35" fill="#fcf6fb"/>
<circle cx="377.5" cy="517.8" r="5.35" fill="#fcf6fb"/>
<circle cx="403.4" cy="519.6" r="5.35" fill="#fcf6fb"/>
<circle cx="419.8" cy="522.7" r="5.35" fill="#fcf6fb"/>
<circle cx="444" cy="521" r="5.35" fill="#fcf6fb"/>
<circle cx="468.4" cy="518.9" r="5.35" fill="#fcf6fb"/>
<circle cx="489.4" cy="520.6" r="5.35" fill="#fcf6fb"/>
<circle cx="503.4" cy="526.6" r="5.35" fill="#fcf6fb"/>
<circle cx="517.4" cy="518.9" r="5.35" fill="#fcf6fb"/>
<circle cx="534.1" cy="522.7" r="5.35" fill="#fcf6fb"/>
<circle cx="548.9" cy="524.5" r="5.35" fill="#fcf6fb"/>
<circle cx="562" cy="516.6" r="5.35" fill="#fcf6fb"/>
<circle cx="574.3" cy="522.4" r="5.35" fill="#fcf6fb"/>
<circle cx="310.6" cy="537.1" r="5.35" fill="#fcf6fb"/>
<circle cx="334.6" cy="542.9" r="5.35" fill="#fcf6fb"/>
<circle cx="355.6" cy="532.9" r="5.35" fill="#fcf6fb"/>
<circle cx="367" cy="541.6" r="5.35" fill="#fcf6fb"/>
<circle cx="378.3" cy="532.4" r="5.35" fill="#fcf6fb"/>
<circle cx="393.2" cy="530.6" r="5.35" fill="#fcf6fb"/>
<circle cx="409" cy="534.1" r="5.35" fill="#fcf6fb"/>
<circle cx="428.2" cy="534.1" r="5.35" fill="#fcf6fb"/>
<circle cx="444" cy="535.9" r="5.35" fill="#fcf6fb"/>
<circle cx="457.1" cy="528.9" r="5.35" fill="#fcf6fb"/>
<circle cx="477.2" cy="529.7" r="5.35" fill="#fcf6fb"/>
<circle cx="491.2" cy="534.6" r="5.35" fill="#fcf6fb"/>
<circle cx="509.6" cy="539.9" r="5.35" fill="#fcf6fb"/>
<circle cx="522.7" cy="532.4" r="5.35" fill="#fcf6fb"/>
<circle cx="543.7" cy="538.1" r="5.35" fill="#fcf6fb"/>
<circle cx="560.3" cy="531.5" r="5.35" fill="#fcf6fb"/>
<circle cx="574.3" cy="537.6" r="5.35" fill="#fcf6fb"/>
<circle cx="314.5" cy="552.1" r="5.35" fill="#fcf6fb"/>
<circle cx="348.6" cy="546.4" r="5.35" fill="#fcf6fb"/>
<circle cx="381.8" cy="546.9" r="5.35" fill="#fcf6fb"/>
<circle cx="396.7" cy="544.6" r="5.35" fill="#fcf6fb"/>
<circle cx="412.5" cy="547.6" r="5.35" fill="#fcf6fb"/>
<circle cx="436.1" cy="548.1" r="5.35" fill="#fcf6fb"/>
<circle cx="452.7" cy="549.9" r="5.35" fill="#fcf6fb"/>
<circle cx="465.8" cy="540.6" r="5.35" fill="#fcf6fb"/>
<circle cx="479.8" cy="544.6" r="5.35" fill="#fcf6fb"/>
<circle cx="498.2" cy="548.1" r="5.35" fill="#fcf6fb"/>
<circle cx="529.3" cy="545.1" r="5.35" fill="#fcf6fb"/>
<circle cx="558.5" cy="546.4" r="5.35" fill="#fcf6fb"/>
<circle cx="574.3" cy="552.1" r="5.35" fill="#fcf6fb"/>
<circle cx="331.1" cy="557.7" r="5.35" fill="#fcf6fb"/>
<circle cx="346.9" cy="560.9" r="5.35" fill="#fcf6fb"/>
<circle cx="360.9" cy="555.1" r="5.35" fill="#fcf6fb"/>
<circle cx="374" cy="559.5" r="5.35" fill="#fcf6fb"/>
<circle cx="391.5" cy="558.6" r="5.35" fill="#fcf6fb"/>
<circle cx="410.7" cy="562.6" r="5.35" fill="#fcf6fb"/>
<circle cx="423.8" cy="556.3" r="5.35" fill="#fcf6fb"/>
<circle cx="443.1" cy="561.2" r="5.35" fill="#fcf6fb"/>
<circle cx="457.1" cy="564.4" r="5.35" fill="#fcf6fb"/>
<circle cx="469.3" cy="555.6" r="5.35" fill="#fcf6fb"/>
<circle cx="485.9" cy="557.4" r="5.35" fill="#fcf6fb"/>
<circle cx="507.8" cy="558.6" r="5.35" fill="#fcf6fb"/>
<circle cx="522.7" cy="557.7" r="5.35" fill="#fcf6fb"/>
<circle cx="535.8" cy="563.9" r="5.35" fill="#fcf6fb"/>
<circle cx="547.2" cy="552.1" r="5.35" fill="#fcf6fb"/>
<circle cx="561.2" cy="560.4" r="5.35" fill="#fcf6fb"/>
<circle cx="318.9" cy="566.1" r="5.35" fill="#fcf6fb"/>
<circle cx="360.9" cy="569.6" r="5.35" fill="#fcf6fb"/>
<circle cx="384.5" cy="570.9" r="5.35" fill="#fcf6fb"/>
<circle cx="399.3" cy="570.9" r="5.35" fill="#fcf6fb"/>
<circle cx="430" cy="570" r="5.35" fill="#fcf6fb"/>
<circle cx="471.1" cy="569.6" r="5.35" fill="#fcf6fb"/>
<circle cx="485.1" cy="571.7" r="5.35" fill="#fcf6fb"/>
<circle cx="500.8" cy="570.9" r="5.35" fill="#fcf6fb"/>
<circle cx="516.6" cy="570.9" r="5.35" fill="#fcf6fb"/>
<circle cx="548.9" cy="569.1" r="5.35" fill="#fcf6fb"/>
<circle cx="562.9" cy="575.6" r="5.35" fill="#fcf6fb"/>
<circle cx="574.3" cy="566.1" r="5.35" fill="#fcf6fb"/>
<circle cx="536.7" cy="578.7" r="5.35" fill="#fcf6fb"/>
<circle cx="310.1" cy="577.9" r="5.35" fill="#fcf6fb"/>
<circle cx="362.6" cy="584.8" r="5.35" fill="#fcf6fb"/>
<circle cx="377.5" cy="584.8" r="5.35" fill="#fcf6fb"/>
<circle cx="392.3" cy="584.3" r="5.35" fill="#fcf6fb"/>
<circle cx="433.5" cy="584.8" r="5.35" fill="#fcf6fb"/>
<circle cx="448.3" cy="584.3" r="5.35" fill="#fcf6fb"/>
<circle cx="462.3" cy="582.6" r="5.35" fill="#fcf6fb"/>
<circle cx="477.2" cy="584.3" r="5.35" fill="#fcf6fb"/>
<circle cx="493.8" cy="584.3" r="5.35" fill="#fcf6fb"/>
<circle cx="509.6" cy="584.3" r="5.35" fill="#fcf6fb"/>
<circle cx="523.6" cy="584.8" r="5.35" fill="#fcf6fb"/>
<circle cx="550.7" cy="584.3" r="5.35" fill="#fcf6fb"/>
<circle cx="574.3" cy="584" r="5.35" fill="#fcf6fb"/>
<circle cx="398.4" cy="405.9" r="5.35" fill="#fcf6fb"/>
<circle cx="412.9" cy="405" r="5.35" fill="#fcf6fb"/>
<circle cx="427.5" cy="402.3" r="5.35" fill="#fcf6fb"/>
<circle cx="441.1" cy="405" r="5.35" fill="#fcf6fb"/>
<circle cx="310.3" cy="410.4" r="5.35" fill="#fcf6fb"/>
<circle cx="326.3" cy="413.2" r="5.35" fill="#fcf6fb"/>
<circle cx="341.6" cy="412.3" r="5.35" fill="#fcf6fb"/>
<circle cx="355.7" cy="418.2" r="5.35" fill="#fcf6fb"/>
<circle cx="369.4" cy="414.1" r="5.35" fill="#fcf6fb"/>
<circle cx="383.9" cy="409.5" r="5.35" fill="#fcf6fb"/>
<circle cx="405.7" cy="419.5" r="5.35" fill="#fcf6fb"/>
<circle cx="423.3" cy="416.4" r="5.35" fill="#fcf6fb"/>
<circle cx="437.5" cy="418.6" r="5.35" fill="#fcf6fb"/>
<circle cx="316.7" cy="429.5" r="5.35" fill="#fcf6fb"/>
<circle cx="341.6" cy="435.9" r="5.35" fill="#fcf6fb"/>
<circle cx="366.3" cy="427.7" r="5.35" fill="#fcf6fb"/>
<circle cx="387.5" cy="428" r="5.35" fill="#fcf6fb"/>
<circle cx="402.6" cy="433.1" r="5.35" fill="#fcf6fb"/>
<circle cx="417.1" cy="429.5" r="5.35" fill="#fcf6fb"/>
<circle cx="430.6" cy="435.9" r="5.35" fill="#fcf6fb"/>
<circle cx="442" cy="432.2" r="5.35" fill="#fcf6fb"/>
<circle cx="311.8" cy="443.7" r="5.35" fill="#fcf6fb"/>
<circle cx="326.3" cy="441.3" r="5.35" fill="#fcf6fb"/>
<circle cx="359" cy="441.8" r="5.35" fill="#fcf6fb"/>
<circle cx="376.6" cy="438.6" r="5.35" fill="#fcf6fb"/>
<circle cx="390.2" cy="443.1" r="5.35" fill="#fcf6fb"/>
<circle cx="416.6" cy="446.8" r="5.35" fill="#fcf6fb"/>
<circle cx="439.3" cy="446.8" r="5.35" fill="#fcf6fb"/>
<circle cx="318.5" cy="457.6" r="5.35" fill="#fcf6fb"/>
<circle cx="333" cy="456.7" r="5.35" fill="#fcf6fb"/>
<circle cx="346.7" cy="449.5" r="5.35" fill="#fcf6fb"/>
<circle cx="359.7" cy="456.7" r="5.35" fill="#fcf6fb"/>
<circle cx="373.9" cy="453.5" r="5.35" fill="#fcf6fb"/>
<circle cx="388.4" cy="457.6" r="5.35" fill="#fcf6fb"/>
<circle cx="403" cy="451.7" r="5.35" fill="#fcf6fb"/>
<circle cx="426.2" cy="458.9" r="5.35" fill="#fcf6fb"/>
<circle cx="441.1" cy="461.3" r="5.35" fill="#fcf6fb"/>
<circle cx="333" cy="470.9" r="5.35" fill="#fcf6fb"/>
<circle cx="347" cy="464.9" r="5.35" fill="#fcf6fb"/>
<circle cx="363" cy="471.3" r="5.35" fill="#fcf6fb"/>
<circle cx="377.9" cy="467.6" r="5.35" fill="#fcf6fb"/>
<circle cx="392.1" cy="472.2" r="5.35" fill="#fcf6fb"/>
<circle cx="411.1" cy="463.6" r="5.35" fill="#fcf6fb"/>
<circle cx="418.9" cy="476.4" r="5.35" fill="#fcf6fb"/>
<circle cx="432.9" cy="473.1" r="5.35" fill="#fcf6fb"/>
<circle cx="322.7" cy="481.3" r="5.35" fill="#fcf6fb"/>
<circle cx="351.7" cy="479.4" r="5.35" fill="#fcf6fb"/>
<circle cx="375.7" cy="483.1" r="5.35" fill="#fcf6fb"/>
<circle cx="404.4" cy="480" r="5.35" fill="#fcf6fb"/>
<circle cx="439.3" cy="485.4" r="5.35" fill="#fcf6fb"/>
<circle cx="309.4" cy="488.5" r="5.35" fill="#fcf6fb"/>
<circle cx="335.4" cy="488.5" r="5.35" fill="#fcf6fb"/>
<circle cx="348.8" cy="494" r="5.35" fill="#fcf6fb"/>
<circle cx="363.9" cy="491.2" r="5.35" fill="#fcf6fb"/>
<circle cx="380.8" cy="496.7" r="5.35" fill="#fcf6fb"/>
<circle cx="396.6" cy="495.2" r="5.35" fill="#fcf6fb"/>
<circle cx="410.2" cy="493.1" r="5.35" fill="#fcf6fb"/>
<circle cx="424.7" cy="489.4" r="5.35" fill="#fcf6fb"/>
<circle cx="322.7" cy="495.8" r="5.35" fill="#fcf6fb"/>
<circle cx="457.3" cy="401.4" r="5.35" fill="#fcf6fb"/>
<circle cx="531.7" cy="403.2" r="5.35" fill="#fcf6fb"/>
<circle cx="574.4" cy="405" r="5.35" fill="#fcf6fb"/>
<circle cx="469.1" cy="408.6" r="5.35" fill="#fcf6fb"/>
<circle cx="484.5" cy="410.4" r="5.35" fill="#fcf6fb"/>
<circle cx="506.3" cy="405.9" r="5.35" fill="#fcf6fb"/>
<circle cx="519.9" cy="411.3" r="5.35" fill="#fcf6fb"/>
<circle cx="543.5" cy="412.3" r="5.35" fill="#fcf6fb"/>
<circle cx="559.8" cy="416.4" r="5.35" fill="#fcf6fb"/>
<circle cx="574.4" cy="419.5" r="5.35" fill="#fcf6fb"/>
<circle cx="451.8" cy="415.3" r="5.35" fill="#fcf6fb"/>
<circle cx="497.2" cy="417.7" r="5.35" fill="#fcf6fb"/>
<circle cx="510.8" cy="423.1" r="5.35" fill="#fcf6fb"/>
<circle cx="526.3" cy="425.9" r="5.35" fill="#fcf6fb"/>
<circle cx="547.1" cy="426.8" r="5.35" fill="#fcf6fb"/>
<circle cx="459.1" cy="428.6" r="5.35" fill="#fcf6fb"/>
<circle cx="481.4" cy="430.4" r="5.35" fill="#fcf6fb"/>
<circle cx="559.8" cy="431.3" r="5.35" fill="#fcf6fb"/>
<circle cx="574.4" cy="434.9" r="5.35" fill="#fcf6fb"/>
<circle cx="469.1" cy="438.6" r="5.35" fill="#fcf6fb"/>
<circle cx="494.1" cy="438.2" r="5.35" fill="#fcf6fb"/>
<circle cx="510.8" cy="438.2" r="5.35" fill="#fcf6fb"/>
<circle cx="529" cy="439.5" r="5.35" fill="#fcf6fb"/>
<circle cx="544.4" cy="441.3" r="5.35" fill="#fcf6fb"/>
<circle cx="455.4" cy="443.1" r="5.35" fill="#fcf6fb"/>
<circle cx="478.1" cy="451.3" r="5.35" fill="#fcf6fb"/>
<circle cx="502.6" cy="450.4" r="5.35" fill="#fcf6fb"/>
<circle cx="518.1" cy="450.4" r="5.35" fill="#fcf6fb"/>
<circle cx="560.8" cy="445.8" r="5.35" fill="#fcf6fb"/>
<circle cx="574.4" cy="449.1" r="5.35" fill="#fcf6fb"/>
<circle cx="457.3" cy="457.6" r="5.35" fill="#fcf6fb"/>
<circle cx="470.9" cy="464" r="5.35" fill="#fcf6fb"/>
<circle cx="490.5" cy="458.6" r="5.35" fill="#fcf6fb"/>
<circle cx="503.6" cy="464.9" r="5.35" fill="#fcf6fb"/>
<circle cx="528.6" cy="461.3" r="5.35" fill="#fcf6fb"/>
<circle cx="544.4" cy="455.8" r="5.35" fill="#fcf6fb"/>
<circle cx="558.9" cy="460.4" r="5.35" fill="#fcf6fb"/>
<circle cx="572.9" cy="464" r="5.35" fill="#fcf6fb"/>
<circle cx="451.8" cy="475.8" r="5.35" fill="#fcf6fb"/>
<circle cx="475.4" cy="478.2" r="5.35" fill="#fcf6fb"/>
<circle cx="489" cy="472.7" r="5.35" fill="#fcf6fb"/>
<circle cx="516.3" cy="471.3" r="5.35" fill="#fcf6fb"/>
<circle cx="540.8" cy="469.5" r="5.35" fill="#fcf6fb"/>
<circle cx="560.8" cy="474.9" r="5.35" fill="#fcf6fb"/>
<circle cx="574.4" cy="478.5" r="5.35" fill="#fcf6fb"/>
<circle cx="462.7" cy="485.8" r="5.35" fill="#fcf6fb"/>
<circle cx="486.3" cy="487.6" r="5.35" fill="#fcf6fb"/>
<circle cx="502.1" cy="479.4" r="5.35" fill="#fcf6fb"/>
<circle cx="517.7" cy="486.7" r="5.35" fill="#fcf6fb"/>
<circle cx="532.6" cy="482.2" r="5.35" fill="#fcf6fb"/>
<circle cx="548" cy="482.2" r="5.35" fill="#fcf6fb"/>
<circle cx="450.9" cy="495.8" r="5.35" fill="#fcf6fb"/>
<circle cx="474.5" cy="494.9" r="5.35" fill="#fcf6fb"/>
<circle cx="504.5" cy="494" r="5.35" fill="#fcf6fb"/>
<circle cx="542.6" cy="494.5" r="5.35" fill="#fcf6fb"/>
<circle cx="560.8" cy="489.4" r="5.35" fill="#fcf6fb"/>
<circle cx="574.4" cy="494" r="5.35" fill="#fcf6fb"/>
<circle cx="313.2" cy="471" r="5.35" fill="#fcf6fb"/>
<circle cx="564.7" cy="319.6" r="1.4" fill="#5a5a88"/>
<circle cx="565.5" cy="334.1" r="1.4" fill="#5a5a88"/>
<circle cx="316.2" cy="349.9" r="1.4" fill="#5a5a88"/>
<circle cx="334.6" cy="345.1" r="1.4" fill="#5a5a88"/>
<circle cx="352.6" cy="342.9" r="1.4" fill="#5a5a88"/>
<circle cx="392.3" cy="348.6" r="1.4" fill="#5a5a88"/>
<circle cx="413.3" cy="343.7" r="1.4" fill="#5a5a88"/>
<circle cx="444.3" cy="350.4" r="1.4" fill="#5a5a88"/>
<circle cx="456.6" cy="341.1" r="1.4" fill="#5a5a88"/>
<circle cx="503.1" cy="344.6" r="1.4" fill="#5a5a88"/>
<circle cx="526.2" cy="345.1" r="1.4" fill="#5a5a88"/>
<circle cx="548" cy="343.7" r="1.4" fill="#5a5a88"/>
<circle cx="572.5" cy="346.9" r="1.4" fill="#5a5a88"/>
<circle cx="310.1" cy="363" r="1.4" fill="#5a5a88"/>
<circle cx="332" cy="359.5" r="1.4" fill="#5a5a88"/>
<circle cx="350.4" cy="356.9" r="1.4" fill="#5a5a88"/>
<circle cx="364.9" cy="357.7" r="1.4" fill="#5a5a88"/>
<circle cx="379.6" cy="356" r="1.4" fill="#5a5a88"/>
<circle cx="402.8" cy="359.1" r="1.4" fill="#5a5a88"/>
<circle cx="424.4" cy="354.2" r="1.4" fill="#5a5a88"/>
<circle cx="436.6" cy="362.1" r="1.4" fill="#5a5a88"/>
<circle cx="450.6" cy="363.9" r="1.4" fill="#5a5a88"/>
<circle cx="462.3" cy="354.2" r="1.4" fill="#5a5a88"/>
<circle cx="476.8" cy="356.3" r="1.4" fill="#5a5a88"/>
<circle cx="491.5" cy="353.9" r="1.4" fill="#5a5a88"/>
<circle cx="509.6" cy="357.7" r="1.4" fill="#5a5a88"/>
<circle cx="524.1" cy="359.8" r="1.4" fill="#5a5a88"/>
<circle cx="538.1" cy="354.2" r="1.4" fill="#5a5a88"/>
<circle cx="554.2" cy="356.9" r="1.4" fill="#5a5a88"/>
<circle cx="573.4" cy="361.2" r="1.4" fill="#5a5a88"/>
<circle cx="322.4" cy="370.9" r="1.4" fill="#5a5a88"/>
<circle cx="344.6" cy="370.9" r="1.4" fill="#5a5a88"/>
<circle cx="359.1" cy="370.9" r="1.4" fill="#5a5a88"/>
<circle cx="373.6" cy="369.6" r="1.4" fill="#5a5a88"/>
<circle cx="388.8" cy="367.9" r="1.4" fill="#5a5a88"/>
<circle cx="414.6" cy="368.2" r="1.4" fill="#5a5a88"/>
<circle cx="427.9" cy="374.4" r="1.4" fill="#5a5a88"/>
<circle cx="442.2" cy="376.1" r="1.4" fill="#5a5a88"/>
<circle cx="466.7" cy="368.6" r="1.4" fill="#5a5a88"/>
<circle cx="487.3" cy="367.4" r="1.4" fill="#5a5a88"/>
<circle cx="506.1" cy="372.1" r="1.4" fill="#5a5a88"/>
<circle cx="542.8" cy="368.6" r="1.4" fill="#5a5a88"/>
<circle cx="559.4" cy="370.9" r="1.4" fill="#5a5a88"/>
<circle cx="310.1" cy="378.4" r="1.4" fill="#5a5a88"/>
<circle cx="335.8" cy="382.6" r="1.4" fill="#5a5a88"/>
<circle cx="353" cy="384.3" r="1.4" fill="#5a5a88"/>
<circle cx="367" cy="385.7" r="1.4" fill="#5a5a88"/>
<circle cx="381.8" cy="381.9" r="1.4" fill="#5a5a88"/>
<circle cx="398.1" cy="380.1" r="1.4" fill="#5a5a88"/>
<circle cx="415.6" cy="382.2" r="1.4" fill="#5a5a88"/>
<circle cx="432.1" cy="388.3" r="1.4" fill="#5a5a88"/>
<circle cx="446.6" cy="390.6" r="1.4" fill="#5a5a88"/>
<circle cx="457.1" cy="379.6" r="1.4" fill="#5a5a88"/>
<circle cx="467.6" cy="390.6" r="1.4" fill="#5a5a88"/>
<circle cx="478.1" cy="381.4" r="1.4" fill="#5a5a88"/>
<circle cx="494.3" cy="380.8" r="1.4" fill="#5a5a88"/>
<circle cx="527.1" cy="374.4" r="1.4" fill="#5a5a88"/>
<circle cx="546.3" cy="382.6" r="1.4" fill="#5a5a88"/>
<circle cx="560.8" cy="386.1" r="1.4" fill="#5a5a88"/>
<circle cx="573.1" cy="375.6" r="1.4" fill="#5a5a88"/>
<circle cx="321.5" cy="387.5" r="1.4" fill="#5a5a88"/>
<circle cx="309.6" cy="395.9" r="1.4" fill="#5a5a88"/>
<circle cx="331.1" cy="398.8" r="1.4" fill="#5a5a88"/>
<circle cx="346" cy="397.1" r="1.4" fill="#5a5a88"/>
<circle cx="359.6" cy="401.8" r="1.4" fill="#5a5a88"/>
<circle cx="373.6" cy="399.4" r="1.4" fill="#5a5a88"/>
<circle cx="388" cy="395.3" r="1.4" fill="#5a5a88"/>
<circle cx="404.6" cy="392.7" r="1.4" fill="#5a5a88"/>
<circle cx="480.3" cy="396.2" r="1.4" fill="#5a5a88"/>
<circle cx="495.6" cy="395.9" r="1.4" fill="#5a5a88"/>
<circle cx="507.8" cy="387.1" r="1.4" fill="#5a5a88"/>
<circle cx="518.3" cy="396.6" r="1.4" fill="#5a5a88"/>
<circle cx="531.1" cy="388.9" r="1.4" fill="#5a5a88"/>
<circle cx="545.4" cy="397.1" r="1.4" fill="#5a5a88"/>
<circle cx="560.3" cy="401.5" r="1.4" fill="#5a5a88"/>
<circle cx="574.8" cy="390.6" r="1.4" fill="#5a5a88"/>
<circle cx="337.2" cy="504.9" r="1.4" fill="#5a5a88"/>
<circle cx="352.1" cy="508.4" r="1.4" fill="#5a5a88"/>
<circle cx="367" cy="506.6" r="1.4" fill="#5a5a88"/>
<circle cx="389.7" cy="509.6" r="1.4" fill="#5a5a88"/>
<circle cx="412.5" cy="507.9" r="1.4" fill="#5a5a88"/>
<circle cx="427.3" cy="505.2" r="1.4" fill="#5a5a88"/>
<circle cx="442.2" cy="507" r="1.4" fill="#5a5a88"/>
<circle cx="462.3" cy="504.9" r="1.4" fill="#5a5a88"/>
<circle cx="479.8" cy="509.1" r="1.4" fill="#5a5a88"/>
<circle cx="492.1" cy="502.1" r="1.4" fill="#5a5a88"/>
<circle cx="502.6" cy="511.4" r="1.4" fill="#5a5a88"/>
<circle cx="515.7" cy="504.9" r="1.4" fill="#5a5a88"/>
<circle cx="529.7" cy="503.8" r="1.4" fill="#5a5a88"/>
<circle cx="542.8" cy="510.8" r="1.4" fill="#5a5a88"/>
<circle cx="555.9" cy="503.8" r="1.4" fill="#5a5a88"/>
<circle cx="574.3" cy="507.9" r="1.4" fill="#5a5a88"/>
<circle cx="310.6" cy="521.9" r="1.4" fill="#5a5a88"/>
<circle cx="324.6" cy="530.1" r="1.4" fill="#5a5a88"/>
<circle cx="339.9" cy="526.2" r="1.4" fill="#5a5a88"/>
<circle cx="361.7" cy="520.1" r="1.4" fill="#5a5a88"/>
<circle cx="377.5" cy="517.8" r="1.4" fill="#5a5a88"/>
<circle cx="403.4" cy="519.6" r="1.4" fill="#5a5a88"/>
<circle cx="419.8" cy="522.7" r="1.4" fill="#5a5a88"/>
<circle cx="444" cy="521" r="1.4" fill="#5a5a88"/>
<circle cx="468.4" cy="518.9" r="1.4" fill="#5a5a88"/>
<circle cx="489.4" cy="520.6" r="1.4" fill="#5a5a88"/>
<circle cx="503.4" cy="526.6" r="1.4" fill="#5a5a88"/>
<circle cx="517.4" cy="518.9" r="1.4" fill="#5a5a88"/>
<circle cx="534.1" cy="522.7" r="1.4" fill="#5a5a88"/>
<circle cx="548.9" cy="524.5" r="1.4" fill="#5a5a88"/>
<circle cx="562" cy="516.6" r="1.4" fill="#5a5a88"/>
<circle cx="574.3" cy="522.4" r="1.4" fill="#5a5a88"/>
<circle cx="310.6" cy="537.1" r="1.4" fill="#5a5a88"/>
<circle cx="334.6" cy="542.9" r="1.4" fill="#5a5a88"/>
<circle cx="355.6" cy="532.9" r="1.4" fill="#5a5a88"/>
<circle cx="367" cy="541.6" r="1.4" fill="#5a5a88"/>
<circle cx="378.3" cy="532.4" r="1.4" fill="#5a5a88"/>
<circle cx="393.2" cy="530.6" r="1.4" fill="#5a5a88"/>
<circle cx="409" cy="534.1" r="1.4" fill="#5a5a88"/>
<circle cx="428.2" cy="534.1" r="1.4" fill="#5a5a88"/>
<circle cx="444" cy="535.9" r="1.4" fill="#5a5a88"/>
<circle cx="457.1" cy="528.9" r="1.4" fill="#5a5a88"/>
<circle cx="477.2" cy="529.7" r="1.4" fill="#5a5a88"/>
<circle cx="491.2" cy="534.6" r="1.4" fill="#5a5a88"/>
<circle cx="509.6" cy="539.9" r="1.4" fill="#5a5a88"/>
<circle cx="522.7" cy="532.4" r="1.4" fill="#5a5a88"/>
<circle cx="543.7" cy="538.1" r="1.4" fill="#5a5a88"/>
<circle cx="560.3" cy="531.5" r="1.4" fill="#5a5a88"/>
<circle cx="574.3" cy="537.6" r="1.4" fill="#5a5a88"/>
<circle cx="314.5" cy="552.1" r="1.4" fill="#5a5a88"/>
<circle cx="348.6" cy="546.4" r="1.4" fill="#5a5a88"/>
<circle cx="381.8" cy="546.9" r="1.4" fill="#5a5a88"/>
<circle cx="396.7" cy="544.6" r="1.4" fill="#5a5a88"/>
<circle cx="412.5" cy="547.6" r="1.4" fill="#5a5a88"/>
<circle cx="436.1" cy="548.1" r="1.4" fill="#5a5a88"/>
<circle cx="452.7" cy="549.9" r="1.4" fill="#5a5a88"/>
<circle cx="465.8" cy="540.6" r="1.4" fill="#5a5a88"/>
<circle cx="479.8" cy="544.6" r="1.4" fill="#5a5a88"/>
<circle cx="498.2" cy="548.1" r="1.4" fill="#5a5a88"/>
<circle cx="529.3" cy="545.1" r="1.4" fill="#5a5a88"/>
<circle cx="558.5" cy="546.4" r="1.4" fill="#5a5a88"/>
<circle cx="574.3" cy="552.1" r="1.4" fill="#5a5a88"/>
<circle cx="331.1" cy="557.7" r="1.4" fill="#5a5a88"/>
<circle cx="346.9" cy="560.9" r="1.4" fill="#5a5a88"/>
<circle cx="360.9" cy="555.1" r="1.4" fill="#5a5a88"/>
<circle cx="374" cy="559.5" r="1.4" fill="#5a5a88"/>
<circle cx="391.5" cy="558.6" r="1.4" fill="#5a5a88"/>
<circle cx="410.7" cy="562.6" r="1.4" fill="#5a5a88"/>
<circle cx="423.8" cy="556.3" r="1.4" fill="#5a5a88"/>
<circle cx="443.1" cy="561.2" r="1.4" fill="#5a5a88"/>
<circle cx="457.1" cy="564.4" r="1.4" fill="#5a5a88"/>
<circle cx="469.3" cy="555.6" r="1.4" fill="#5a5a88"/>
<circle cx="485.9" cy="557.4" r="1.4" fill="#5a5a88"/>
<circle cx="507.8" cy="558.6" r="1.4" fill="#5a5a88"/>
<circle cx="522.7" cy="557.7" r="1.4" fill="#5a5a88"/>
<circle cx="535.8" cy="563.9" r="1.4" fill="#5a5a88"/>
<circle cx="547.2" cy="552.1" r="1.4" fill="#5a5a88"/>
<circle cx="561.2" cy="560.4" r="1.4" fill="#5a5a88"/>
<circle cx="318.9" cy="566.1" r="1.4" fill="#5a5a88"/>
<circle cx="360.9" cy="569.6" r="1.4" fill="#5a5a88"/>
<circle cx="384.5" cy="570.9" r="1.4" fill="#5a5a88"/>
<circle cx="399.3" cy="570.9" r="1.4" fill="#5a5a88"/>
<circle cx="430" cy="570" r="1.4" fill="#5a5a88"/>
<circle cx="471.1" cy="569.6" r="1.4" fill="#5a5a88"/>
<circle cx="485.1" cy="571.7" r="1.4" fill="#5a5a88"/>
<circle cx="500.8" cy="570.9" r="1.4" fill="#5a5a88"/>
<circle cx="516.6" cy="570.9" r="1.4" fill="#5a5a88"/>
<circle cx="548.9" cy="569.1" r="1.4" fill="#5a5a88"/>
<circle cx="562.9" cy="575.6" r="1.4" fill="#5a5a88"/>
<circle cx="574.3" cy="566.1" r="1.4" fill="#5a5a88"/>
<circle cx="536.7" cy="578.7" r="1.4" fill="#5a5a88"/>
<circle cx="310.1" cy="577.9" r="1.4" fill="#5a5a88"/>
<circle cx="362.6" cy="584.8" r="1.4" fill="#5a5a88"/>
<circle cx="377.5" cy="584.8" r="1.4" fill="#5a5a88"/>
<circle cx="392.3" cy="584.3" r="1.4" fill="#5a5a88"/>
<circle cx="433.5" cy="584.8" r="1.4" fill="#5a5a88"/>
<circle cx="448.3" cy="584.3" r="1.4" fill="#5a5a88"/>
<circle cx="462.3" cy="582.6" r="1.4" fill="#5a5a88"/>
<circle cx="477.2" cy="584.3" r="1.4" fill="#5a5a88"/>
<circle cx="493.8" cy="584.3" r="1.4" fill="#5a5a88"/>
<circle cx="509.6" cy="584.3" r="1.4" fill="#5a5a88"/>
<circle cx="523.6" cy="584.8" r="1.4" fill="#5a5a88"/>
<circle cx="550.7" cy="584.3" r="1.4" fill="#5a5a88"/>
<circle cx="574.3" cy="584" r="1.4" fill="#5a5a88"/>
<circle cx="398.4" cy="405.9" r="1.4" fill="#5a5a88"/>
<circle cx="412.9" cy="405" r="1.4" fill="#5a5a88"/>
<circle cx="427.5" cy="402.3" r="1.4" fill="#5a5a88"/>
<circle cx="441.1" cy="405" r="1.4" fill="#5a5a88"/>
<circle cx="310.3" cy="410.4" r="1.4" fill="#5a5a88"/>
<circle cx="326.3" cy="413.2" r="1.4" fill="#5a5a88"/>
<circle cx="341.6" cy="412.3" r="1.4" fill="#5a5a88"/>
<circle cx="355.7" cy="418.2" r="1.4" fill="#5a5a88"/>
<circle cx="369.4" cy="414.1" r="1.4" fill="#5a5a88"/>
<circle cx="383.9" cy="409.5" r="1.4" fill="#5a5a88"/>
<circle cx="405.7" cy="419.5" r="1.4" fill="#5a5a88"/>
<circle cx="423.3" cy="416.4" r="1.4" fill="#5a5a88"/>
<circle cx="437.5" cy="418.6" r="1.4" fill="#5a5a88"/>
<circle cx="316.7" cy="429.5" r="1.4" fill="#5a5a88"/>
<circle cx="341.6" cy="435.9" r="1.4" fill="#5a5a88"/>
<circle cx="366.3" cy="427.7" r="1.4" fill="#5a5a88"/>
<circle cx="387.5" cy="428" r="1.4" fill="#5a5a88"/>
<circle cx="402.6" cy="433.1" r="1.4" fill="#5a5a88"/>
<circle cx="417.1" cy="429.5" r="1.4" fill="#5a5a88"/>
<circle cx="430.6" cy="435.9" r="1.4" fill="#5a5a88"/>
<circle cx="442" cy="432.2" r="1.4" fill="#5a5a88"/>
<circle cx="311.8" cy="443.7" r="1.4" fill="#5a5a88"/>
<circle cx="326.3" cy="441.3" r="1.4" fill="#5a5a88"/>
<circle cx="359" cy="441.8" r="1.4" fill="#5a5a88"/>
<circle cx="376.6" cy="438.6" r="1.4" fill="#5a5a88"/>
<circle cx="390.2" cy="443.1" r="1.4" fill="#5a5a88"/>
<circle cx="416.6" cy="446.8" r="1.4" fill="#5a5a88"/>
<circle cx="439.3" cy="446.8" r="1.4" fill="#5a5a88"/>
<circle cx="318.5" cy="457.6" r="1.4" fill="#5a5a88"/>
<circle cx="333" cy="456.7" r="1.4" fill="#5a5a88"/>
<circle cx="346.7" cy="449.5" r="1.4" fill="#5a5a88"/>
<circle cx="359.7" cy="456.7" r="1.4" fill="#5a5a88"/>
<circle cx="373.9" cy="453.5" r="1.4" fill="#5a5a88"/>
<circle cx="388.4" cy="457.6" r="1.4" fill="#5a5a88"/>
<circle cx="403" cy="451.7" r="1.4" fill="#5a5a88"/>
<circle cx="426.2" cy="458.9" r="1.4" fill="#5a5a88"/>
<circle cx="441.1" cy="461.3" r="1.4" fill="#5a5a88"/>
<circle cx="333" cy="470.9" r="1.4" fill="#5a5a88"/>
<circle cx="347" cy="464.9" r="1.4" fill="#5a5a88"/>
<circle cx="363" cy="471.3" r="1.4" fill="#5a5a88"/>
<circle cx="377.9" cy="467.6" r="1.4" fill="#5a5a88"/>
<circle cx="392.1" cy="472.2" r="1.4" fill="#5a5a88"/>
<circle cx="411.1" cy="463.6" r="1.4" fill="#5a5a88"/>
<circle cx="418.9" cy="476.4" r="1.4" fill="#5a5a88"/>
<circle cx="432.9" cy="473.1" r="1.4" fill="#5a5a88"/>
<circle cx="322.7" cy="481.3" r="1.4" fill="#5a5a88"/>
<circle cx="351.7" cy="479.4" r="1.4" fill="#5a5a88"/>
<circle cx="375.7" cy="483.1" r="1.4" fill="#5a5a88"/>
<circle cx="404.4" cy="480" r="1.4" fill="#5a5a88"/>
<circle cx="439.3" cy="485.4" r="1.4" fill="#5a5a88"/>
<circle cx="309.4" cy="488.5" r="1.4" fill="#5a5a88"/>
<circle cx="335.4" cy="488.5" r="1.4" fill="#5a5a88"/>
<circle cx="348.8" cy="494" r="1.4" fill="#5a5a88"/>
<circle cx="363.9" cy="491.2" r="1.4" fill="#5a5a88"/>
<circle cx="380.8" cy="496.7" r="1.4" fill="#5a5a88"/>
<circle cx="396.6" cy="495.2" r="1.4" fill="#5a5a88"/>
<circle cx="410.2" cy="493.1" r="1.4" fill="#5a5a88"/>
<circle cx="424.7" cy="489.4" r="1.4" fill="#5a5a88"/>
<circle cx="322.7" cy="495.8" r="1.4" fill="#5a5a88"/>
<circle cx="457.3" cy="401.4" r="1.4" fill="#5a5a88"/>
<circle cx="531.7" cy="403.2" r="1.4" fill="#5a5a88"/>
<circle cx="574.4" cy="405" r="1.4" fill="#5a5a88"/>
<circle cx="469.1" cy="408.6" r="1.4" fill="#5a5a88"/>
<circle cx="484.5" cy="410.4" r="1.4" fill="#5a5a88"/>
<circle cx="506.3" cy="405.9" r="1.4" fill="#5a5a88"/>
<circle cx="519.9" cy="411.3" r="1.4" fill="#5a5a88"/>
<circle cx="543.5" cy="412.3" r="1.4" fill="#5a5a88"/>
<circle cx="559.8" cy="416.4" r="1.4" fill="#5a5a88"/>
<circle cx="574.4" cy="419.5" r="1.4" fill="#5a5a88"/>
<circle cx="451.8" cy="415.3" r="1.4" fill="#5a5a88"/>
<circle cx="497.2" cy="417.7" r="1.4" fill="#5a5a88"/>
<circle cx="510.8" cy="423.1" r="1.4" fill="#5a5a88"/>
<circle cx="526.3" cy="425.9" r="1.4" fill="#5a5a88"/>
<circle cx="547.1" cy="426.8" r="1.4" fill="#5a5a88"/>
<circle cx="459.1" cy="428.6" r="1.4" fill="#5a5a88"/>
<circle cx="481.4" cy="430.4" r="1.4" fill="#5a5a88"/>
<circle cx="559.8" cy="431.3" r="1.4" fill="#5a5a88"/>
<circle cx="574.4" cy="434.9" r="1.4" fill="#5a5a88"/>
<circle cx="469.1" cy="438.6" r="1.4" fill="#5a5a88"/>
<circle cx="494.1" cy="438.2" r="1.4" fill="#5a5a88"/>
<circle cx="510.8" cy="438.2" r="1.4" fill="#5a5a88"/>
<circle cx="529" cy="439.5" r="1.4" fill="#5a5a88"/>
<circle cx="544.4" cy="441.3" r="1.4" fill="#5a5a88"/>
<circle cx="455.4" cy="443.1" r="1.4" fill="#5a5a88"/>
<circle cx="478.1" cy="451.3" r="1.4" fill="#5a5a88"/>
<circle cx="502.6" cy="450.4" r="1.4" fill="#5a5a88"/>
<circle cx="518.1" cy="450.4" r="1.4" fill="#5a5a88"/>
<circle cx="560.8" cy="445.8" r="1.4" fill="#5a5a88"/>
<circle cx="574.4" cy="449.1" r="1.4" fill="#5a5a88"/>
<circle cx="457.3" cy="457.6" r="1.4" fill="#5a5a88"/>
<circle cx="470.9" cy="464" r="1.4" fill="#5a5a88"/>
<circle cx="490.5" cy="458.6" r="1.4" fill="#5a5a88"/>
<circle cx="503.6" cy="464.9" r="1.4" fill="#5a5a88"/>
<circle cx="528.6" cy="461.3" r="1.4" fill="#5a5a88"/>
<circle cx="544.4" cy="455.8" r="1.4" fill="#5a5a88"/>
<circle cx="558.9" cy="460.4" r="1.4" fill="#5a5a88"/>
<circle cx="572.9" cy="464" r="1.4" fill="#5a5a88"/>
<circle cx="451.8" cy="475.8" r="1.4" fill="#5a5a88"/>
<circle cx="475.4" cy="478.2" r="1.4" fill="#5a5a88"/>
<circle cx="489" cy="472.7" r="1.4" fill="#5a5a88"/>
<circle cx="516.3" cy="471.3" r="1.4" fill="#5a5a88"/>
<circle cx="540.8" cy="469.5" r="1.4" fill="#5a5a88"/>
<circle cx="560.8" cy="474.9" r="1.4" fill="#5a5a88"/>
<circle cx="574.4" cy="478.5" r="1.4" fill="#5a5a88"/>
<circle cx="462.7" cy="485.8" r="1.4" fill="#5a5a88"/>
<circle cx="486.3" cy="487.6" r="1.4" fill="#5a5a88"/>
<circle cx="502.1" cy="479.4" r="1.4" fill="#5a5a88"/>
<circle cx="517.7" cy="486.7" r="1.4" fill="#5a5a88"/>
<circle cx="532.6" cy="482.2" r="1.4" fill="#5a5a88"/>
<circle cx="548" cy="482.2" r="1.4" fill="#5a5a88"/>
<circle cx="450.9" cy="495.8" r="1.4" fill="#5a5a88"/>
<circle cx="474.5" cy="494.9" r="1.4" fill="#5a5a88"/>
<circle cx="504.5" cy="494" r="1.4" fill="#5a5a88"/>
<circle cx="542.6" cy="494.5" r="1.4" fill="#5a5a88"/>
<circle cx="560.8" cy="489.4" r="1.4" fill="#5a5a88"/>
<circle cx="574.4" cy="494" r="1.4" fill="#5a5a88"/>
<circle cx="313.2" cy="471" r="1.4" fill="#5a5a88"/>
</g>
</g>
<circle cx="440.5" cy="3.5" r="1.3" fill="#8a8290"/>
<rect x="294.5" y="7.6" width="296" height="590" fill="none" stroke="#92a47a" stroke-width="1.2" opacity="0.85"/>
<defs><clipPath id="k0" clipPathUnits="userSpaceOnUse"><path d="M-300,-300 H300 V300 H-300 Z M-14.7,-2.9 H-8.9 V3 H-14.7 Z M-6.1,-2.9 H-0.5 V3 H-6.1 Z" clip-rule="evenodd"/></clipPath><clipPath id="k1" clipPathUnits="userSpaceOnUse"><path d="M-300,-300 H300 V300 H-300 Z M-14.7,-2.9 H-8.9 V3 H-14.7 Z M-6.1,-2.9 H-0.5 V3 H-6.1 Z" clip-rule="evenodd"/></clipPath><clipPath id="k2" clipPathUnits="userSpaceOnUse"><path d="M-300,-300 H300 V300 H-300 Z M-6.8,-2.9 H-0.9 V3 H-6.8 Z M1.8,-2.9 H7.5 V3 H1.8 Z" clip-rule="evenodd"/></clipPath><clipPath id="k3" clipPathUnits="userSpaceOnUse"><path d="M-300,-300 H300 V300 H-300 Z M-18.7,-2.9 H-12.8 V3 H-18.7 Z M-10.1,-2.9 H-4.4 V3 H-10.1 Z" clip-rule="evenodd"/></clipPath><clipPath id="k4" clipPathUnits="userSpaceOnUse"><path d="M-300,-300 H300 V300 H-300 Z M-14.7,-2.9 H-8.9 V3 H-14.7 Z M-6.1,-2.9 H-0.5 V3 H-6.1 Z" clip-rule="evenodd"/></clipPath><clipPath id="k5" clipPathUnits="userSpaceOnUse"><path d="M-300,-300 H300 V300 H-300 Z M1.1,-2.9 H7 V3 H1.1 Z M9.7,-2.9 H15.4 V3 H9.7 Z" clip-rule="evenodd"/></clipPath><clipPath id="k6" clipPathUnits="userSpaceOnUse"><path d="M-300,-300 H300 V300 H-300 Z M1.1,-2.9 H7 V3 H1.1 Z M9.7,-2.9 H15.4 V3 H9.7 Z" clip-rule="evenodd"/></clipPath></defs>
<text x="672" y="37" class="lbl">C</text>
<path d="M730.8,39 V254.3 H1157.8 M730.8,193.2 h5 M730.8,132 h5 M730.8,70.9 h5 M873.1,254.3 v-4.5 M1015.5,254.3 v-4.5 M1157.8,254.3 v-4.5 M730.8,284 V497.5 H1157.8 M730.8,421.4 h5 M730.8,345.3 h5 M873.1,497.5 v-4.5 M1015.5,497.5 v-4.5 M1157.8,497.5 v-4.5" fill="none" stroke="#111" stroke-width="2"/>
<text transform="translate(722.7 143) scale(1 1.05)" class="tk" text-anchor="end">3</text>
<text transform="translate(722.7 265.5) scale(1 1.05)" class="tk" text-anchor="end" clip-path="url(#k0)">1</text>
<text transform="translate(722.7 356.8) scale(1 1.05)" class="tk" text-anchor="end" clip-path="url(#k1)">1</text>
<text transform="translate(722.7 508.6) scale(1 1.05)" class="tk" text-anchor="end">0</text>
<text transform="translate(730.8 534.8) scale(1 1.05)" class="tk" text-anchor="middle">0</text>
<text transform="translate(873.1 534.8) scale(1 1.05)" class="tk" text-anchor="middle">0.5</text>
<text transform="translate(1015.5 534.8) scale(1 1.05)" class="tk" text-anchor="middle" clip-path="url(#k2)">1</text>
<text transform="translate(1157.8 534.8) scale(1 1.05)" class="tk" text-anchor="middle" clip-path="url(#k3)">1.5</text>
<text x="663" y="162.5" class="it">H</text><text x="689" y="155" class="ast">*</text>
<text x="665" y="396.1" class="it">P</text><text x="688.5" y="387.5" class="ast">*</text>
<text x="931" y="578" class="it">U</text><text x="957" y="569" class="ast">*</text>
<polyline points="731,241.5 760,241.5 1014,241.2 1030,237 1038,230 1042,220 1046,204 1054,194 1061,174 1071,150 1077,128.6 1091,128.6 1095,147 1103,152 1110,140 1120,115 1126,140 1133,108 1140,125 1146,97 1158,93.6" fill="none" stroke="#4364dc" stroke-width="3.1" stroke-linejoin="round" stroke-linecap="round"/>
<polyline points="731,241 736,228 760,225.5 820,223 880,220 940,214 990,204 1039,192 1059,182 1075,172 1088,165 1100,158 1112,148 1122,138 1130,128 1138,122 1146,110 1152,120 1158,117" fill="none" stroke="#4364dc" stroke-width="3.1" stroke-linejoin="round" stroke-linecap="round"/>
<polyline points="731,241 760,240.5 834,239 888,237 899,235.5 921,231.7 943,232 965,229 984.6,226.3 1014,219 1034,211.5 1049,201.6 1064,191.7 1078.6,181.8 1088.5,171.9 1103,162 1113,157 1118,144.7 1125,150 1132,128 1140,120 1146,105 1152,85 1157.3,63.6" fill="none" stroke="#e2661e" stroke-width="3.1" stroke-linejoin="round" stroke-linecap="round"/>
<polyline points="731,241 736,229 834,227 888,225.3 906.5,221.7 915.6,219 943,219.5 989.5,209 1034,201.6 1044,195.4 1056,194 1073.7,181.8 1083.6,174.4 1088.5,162 1098.4,159.5 1108.3,154.6 1115.7,169.4 1123,142 1138,129.8 1145.4,139.7 1157.8,117.4" fill="none" stroke="#e2661e" stroke-width="3.1" stroke-linejoin="round" stroke-linecap="round"/>
<polyline points="738.6,228 755.9,226.2 761.3,220.8 779.5,223.5 801,222.6 812,220 824.8,223.5 834,215.3 844.8,221.7 852,213.5 861,223.5 870,221.7 879.3,217.2 888.4,219 895.6,212.6 906.5,210 921,208 932,204.5 943,208 964.8,202.8 977,196.6 994.5,189.2 999.4,199 1014,189 1021.7,184.3 1039,176.8 1049,171.9 1061,176.8 1066,157 1078.6,144.7 1088.5,149.6 1098.4,132.3 1113.3,139.7 1118.2,127.3 1123,147 1128,117.4 1135,130 1145,110 1158,88" fill="none" stroke="#c23812" stroke-width="3.2" stroke-linejoin="round" stroke-linecap="round"/>
<polyline points="731,241 738.6,223.5 754,223.5 761.3,220 779.5,221.7 797.6,219 806.7,215.3 815.8,217 824.8,214.4 834,213.5 843,218 850,210.8 859,213.5 870,211.7 881,208 887.5,194.5 895.6,202.6 903.8,200 917.4,204.5 935.6,194.5 943,199 950,195.4 960,199 977,184.3 984.6,184.3 994.5,189 1009,180.5 1021.7,175.6 1034,173 1049,163.2 1058.8,171.9 1068.7,155.8 1083.6,141 1096,133.5 1103.4,153.3 1113.3,128.6 1123,132.3 1128,115 1136,125 1142,100 1148,108 1152.7,78.2 1158,80" fill="none" stroke="#b0280c" stroke-width="3.2" stroke-linejoin="round" stroke-linecap="round"/>
<polyline points="730.8,497.5 734.2,496.1 737.6,494.8 741,492.6 744.5,488.8 747.9,490 751.3,488.1 754.7,486 758.1,486.8 761.5,483.2 765,480.8 768.4,478.1 771.8,480.7 775.2,477.7 778.6,477.3 782,471.2 785.5,470.2 788.9,472.5 792.3,465 795.7,463.4 799.1,463.6 802.5,462.1 806,463.1 809.4,462.2 812.8,457.4 816.2,458.5 819.6,455.9 823,453.9 826.5,453.4 829.9,449 833.3,447.4 836.7,443.1 840.1,443.3 843.5,440.8 847,439.9 850.4,437.1 853.8,436.6 857.2,435.9 860.6,429.7 864,428 867.5,427.1 870.9,426.1 874.3,426.7 877.7,425.4 881.1,423.3 884.5,422.8 888,416.8 891.4,417.2 894.8,412.7 898.2,413.7 901.6,408.4 905,407.2 908.5,410.6 911.9,407.5 915.3,401.4 918.7,402.2 922.1,397.3 925.5,399 929,399.2 932.4,394 935.8,391.2 939.2,392.5 942.6,391.8 946,388.5 949.4,382.8 952.9,382.2 956.3,384.3 959.7,381.6 963.1,380.7 966.5,379.1 969.9,372.8 973.4,374.7 976.8,370.5 980.2,369.3 983.6,369.1 987,363.9 990.4,365.7 993.9,360.7 997.3,362.1 1000.7,358.4 1004.1,357.8 1007.5,355.6 1010.9,349.5 1014.4,348.6 1017.8,349.8 1021.2,344.4 1024.6,346.7 1028,343.7 1031.4,339 1034.9,338.4 1038.3,341.6 1045.7,335.1 1053.1,343.6 1060.5,344.2 1067.9,335.8 1075.3,344.3 1082.7,345.3 1090.1,349.8 1097.5,349.9 1104.9,341.3 1112.3,347.9 1119.7,341.7 1127.1,346.3 1134.5,345.2 1141.9,336.4 1149.3,345.4 1156.7,344.2" fill="none" stroke="#4364dc" stroke-width="3.1" stroke-linejoin="round" stroke-linecap="round"/>
<polyline points="730.8,497.5 734.2,496.4 737.6,495.1 741,492.8 744.5,491.3 747.9,492 751.3,491 754.7,487.6 758.1,486.3 761.5,482.1 765,480.9 768.4,479.5 771.8,477.8 775.2,475.5 778.6,475.9 782,472.7 785.5,472 788.9,466.7 792.3,468.6 795.7,463.1 799.1,464.5 802.5,459.7 806,459.3 809.4,456.9 812.8,452.8 816.2,454.5 819.6,452.3 823,446.3 826.5,446 829.9,445.8 833.3,439.6 836.7,437.6 840.1,439.3 843.5,435.7 847,434.8 850.4,431.8 853.8,428.2 857.2,428.1 860.6,423.5 864,424.2 867.5,421.5 870.9,416.3 874.3,415.9 877.7,413.6 881.1,410.5 884.5,408.8 888,407 891.4,406.3 894.8,400.8 898.2,397.4 901.6,395.1 905,394.2 908.5,393.3 911.9,390.9 915.3,387.1 918.7,384.9 922.1,385.1 925.5,382.2 929,379.2 932.4,376.2 935.8,372.5 939.2,371.5 942.6,371.3 946,365.3 949.4,364.7 952.9,361.9 956.3,360.8 959.7,357.5 963.1,355.3 966.5,351.1 969.9,351.7 973.4,347.3 976.8,346.5 980.2,341.7 983.6,342.3 987,338.7 990.4,336 993.9,332.2 997.3,332.4 1000.7,328.1 1004.1,326.7 1007.5,323.9 1010.9,320.3 1014.4,315.6 1017.8,315.2 1021.2,310.4 1024.6,311.4 1028,305.4 1031.4,305.4 1034.9,306.9 1038.3,306.7 1045.7,309.8 1053.1,323.5 1060.5,326.6 1067.9,320.4 1075.3,328.5 1082.7,331.2 1090.1,336.1 1097.5,336.6 1104.9,327.9 1112.3,322.7 1119.7,323.5 1127.1,332.8 1134.5,341.8 1141.9,337.8 1149.3,331 1156.7,331.2" fill="none" stroke="#4364dc" stroke-width="3.1" stroke-linejoin="round" stroke-linecap="round"/>
<polyline points="730.8,497.5 734.2,496.2 737.6,496.3 741,492.1 744.5,490.6 747.9,487.9 751.3,490.3 754.7,488.4 758.1,487.2 761.5,485 765,480.1 768.4,482 771.8,477.8 775.2,477.9 778.6,475.6 782,473 785.5,468.7 788.9,468.2 792.3,470 795.7,466.5 799.1,465.4 802.5,459.2 806,457.6 809.4,455.7 812.8,453.7 816.2,452.3 819.6,449.1 823,448.1 826.5,449.5 829.9,443.9 833.3,444.2 836.7,440.6 840.1,439.8 843.5,438.6 847,437 850.4,434.6 853.8,433.3 857.2,432.5 860.6,426.3 864,424.4 867.5,421.2 870.9,421 874.3,419.8 877.7,416.6 881.1,418.3 884.5,413 888,412.3 891.4,411.9 894.8,409.7 898.2,405.7 901.6,405.3 905,402 908.5,399 911.9,398.2 915.3,397.8 918.7,393.5 922.1,393 925.5,390.9 929,389 932.4,385.9 935.8,385.6 939.2,380 942.6,376 946,377.3 949.4,373.2 952.9,369.8 956.3,373.1 959.7,370.4 963.1,364.2 966.5,361.9 969.9,361 973.4,361.7 976.8,358.1 980.2,353.2 983.6,350.9 987,349.3 990.4,350.8 993.9,344.7 997.3,345.4 1000.7,341.2 1004.1,342.6 1007.5,335.3 1010.9,335.4 1014.4,332.5 1017.8,334.3 1021.2,330.9 1024.6,330.2 1028,329.2 1031.4,329.7 1034.9,326.6 1038.3,328 1045.7,327 1053.1,327.2 1060.5,319.8 1067.9,330.3 1075.3,328.9 1082.7,332.3 1090.1,322.4 1097.5,324.6 1104.9,325.4 1112.3,335.2 1119.7,328.5 1127.1,330.9 1134.5,336 1141.9,338.3 1149.3,320.7 1156.7,337.3" fill="none" stroke="#e2661e" stroke-width="3.1" stroke-linejoin="round" stroke-linecap="round"/>
<polyline points="730.8,497.5 734.2,496.3 737.6,497.3 741,492.2 744.5,491.1 747.9,487.8 751.3,490.4 754.7,488.9 758.1,484.4 761.5,483.3 765,483.9 768.4,480 771.8,480.1 775.2,476.2 778.6,478.5 782,476.3 785.5,470.5 788.9,472.1 792.3,471 795.7,466.1 799.1,465.4 802.5,466.7 806,462.5 809.4,460.1 812.8,461.4 816.2,456.8 819.6,458.3 823,455.2 826.5,455 829.9,452.6 833.3,446.1 836.7,447.9 840.1,442.5 843.5,444.1 847,441.4 850.4,438 853.8,437.3 857.2,439.1 860.6,434.4 864,432.3 867.5,433.3 870.9,432 874.3,425.5 877.7,425.9 881.1,426.1 884.5,422.7 888,422.3 891.4,417 894.8,417 898.2,417.6 901.6,411.4 905,414 908.5,411 911.9,410.8 915.3,404.6 918.7,406.6 922.1,402.2 925.5,403 929,398.8 932.4,395.7 935.8,394.8 939.2,393.5 942.6,391.4 946,389.9 949.4,387 952.9,388.2 956.3,384.1 959.7,383.7 963.1,378 966.5,375.7 969.9,379.1 973.4,376.8 976.8,371.5 980.2,370.4 983.6,371.9 987,365.9 990.4,362.5 993.9,363.8 997.3,362.4 1000.7,359.2 1004.1,355 1007.5,357.2 1010.9,355.1 1014.4,353.9 1017.8,349.3 1021.2,348.4 1024.6,347.8 1028,345.1 1031.4,345.4 1034.9,341.8 1038.3,335.8 1045.7,336.8 1053.1,339.9 1060.5,330 1067.9,339 1075.3,340.6 1082.7,344.1 1090.1,341.7 1097.5,340.3 1104.9,339.4 1112.3,327.2 1119.7,337.9 1127.1,337.8 1134.5,331 1141.9,324.8 1149.3,335.9 1156.7,326.9" fill="none" stroke="#e2661e" stroke-width="3.1" stroke-linejoin="round" stroke-linecap="round"/>
<polyline points="730.8,497.5 733.6,496.5 736.5,495.3 739.3,489.9 742.2,497.4 745,489.6 747.9,493.7 750.7,484.9 753.6,492.5 756.4,483.4 759.3,483.9 762.1,481 765,478.5 767.8,484.1 770.7,481.9 773.5,477.3 776.4,479.9 779.2,478.7 782,477.7 784.9,470.7 787.7,469.2 790.6,468.6 793.4,472.5 796.3,464.8 799.1,467.2 802,468.4 804.8,465.1 807.7,464 810.5,465.8 813.4,460 816.2,460.5 819.1,457.3 821.9,452.6 824.8,453.9 827.6,454.7 830.4,449.2 833.3,446.6 836.1,449.8 839,444.3 841.8,451.4 844.7,448.9 847.5,447.3 850.4,438.9 853.2,439.8 856.1,438.1 858.9,440.7 861.8,437.4 864.6,432.4 867.5,438.2 870.3,436.7 873.1,435.9 876,430.7 878.8,425.9 881.7,427.1 884.5,427.1 887.4,424.8 890.2,426.3 893.1,417.9 895.9,421.9 898.8,421.6 901.6,419.5 904.5,413.4 907.3,416.6 910.2,409.9 913,413.6 915.9,411.3 918.7,413.2 921.5,404.2 924.4,403.8 927.2,405.3 930.1,407.2 932.9,402.3 935.8,401.9 938.6,396.3 941.5,394 944.3,394.3 947.2,397 950,397.9 952.9,388.6 955.7,386.7 958.6,392.5 961.4,387.9 964.3,386.7 967.1,380.7 969.9,387.8 972.8,386.2 975.6,377.6 978.5,378.7 981.3,378.2 984.2,373.9 987,374.1 989.9,371.8 992.7,374.3 995.6,374.5 998.4,373.7 1001.3,369.3 1004.1,365 1007,366 1009.8,364.8 1012.7,360.9 1015.5,358.6 1018.3,358.2 1021.2,359.3 1024,353.2 1026.9,352 1029.7,349.7 1032.6,348.2 1035.4,354.8 1038.3,347.3 1045.7,346.9 1053.1,343 1060.5,337.1 1067.9,341.3 1075.3,338.3 1082.7,322.3 1090.1,336 1097.5,323.3 1104.9,327.8 1112.3,335.4 1119.7,335 1127.1,328.6 1134.5,326.2 1141.9,333.6 1149.3,339.2 1156.7,336.5" fill="none" stroke="#c23812" stroke-width="3.2" stroke-linejoin="round" stroke-linecap="round"/>
<polyline points="730.8,497.5 733.6,496.5 736.5,495.4 739.3,495.5 742.2,493.2 745,492.6 747.9,491.1 750.7,490.1 753.6,486.6 756.4,489 759.3,484.2 762.1,488.6 765,484.7 767.8,483 770.7,483.5 773.5,476.6 776.4,479.3 779.2,473.5 782,470.6 784.9,475.7 787.7,468.5 790.6,467.9 793.4,467.8 796.3,472.2 799.1,466.9 802,464 804.8,465.6 807.7,464.9 810.5,462.7 813.4,461.7 816.2,455.5 819.1,458.1 821.9,456 824.8,452.5 827.6,448.3 830.4,452.9 833.3,453.7 836.1,443.8 839,443.6 841.8,442.6 844.7,443.5 847.5,444.7 850.4,444 853.2,441.2 856.1,438.3 858.9,440.4 861.8,433.2 864.6,431.4 867.5,436.5 870.3,427.5 873.1,429.2 876,423.8 878.8,426.4 881.7,422 884.5,423.6 887.4,420.7 890.2,420.2 893.1,423.1 895.9,420.5 898.8,418.2 901.6,415.1 904.5,413.9 907.3,410.9 910.2,408.3 913,409.1 915.9,408.3 918.7,405.1 921.5,399.5 924.4,399.6 927.2,399.2 930.1,396.2 932.9,400.1 935.8,399.7 938.6,398.3 941.5,396.5 944.3,396 947.2,388.9 950,384.6 952.9,390.5 955.7,383.7 958.6,379.9 961.4,379.9 964.3,384 967.1,378 969.9,380 972.8,379.1 975.6,379.1 978.5,372.9 981.3,367.7 984.2,373.6 987,371.7 989.9,367.9 992.7,369.6 995.6,364.1 998.4,360.2 1001.3,361.1 1004.1,363.4 1007,361.9 1009.8,358.8 1012.7,352.9 1015.5,349 1018.3,351.3 1021.2,353.4 1024,350.8 1026.9,347.4 1029.7,348.7 1032.6,347 1035.4,342.6 1038.3,337.3 1045.7,339.5 1053.1,326.3 1060.5,324.5 1067.9,332.8 1075.3,337 1082.7,337.7 1090.1,327.2 1097.5,323.6 1104.9,322.7 1112.3,336.4 1119.7,331.5 1127.1,339.9 1134.5,333.7 1141.9,333.7 1149.3,337.2 1156.7,338" fill="none" stroke="#b0280c" stroke-width="3.2" stroke-linejoin="round" stroke-linecap="round"/>
<polygon points="951.3,166.9 919.2,174.5 918.3,170.7 908,179.3 921.1,182.4 920.2,178.6 952.3,170.9" fill="#7a7a7a"/>
<polygon points="1059.7,232.6 1080.4,223.9 1081.9,227.5 1090.6,217.3 1077.2,216.4 1078.7,220 1058.1,228.8" fill="#7a7a7a"/>
<polygon points="902.9,379 921.2,360.4 924,363.2 928.1,350.4 915.4,354.7 918.2,357.5 899.9,376" fill="#7a7a7a"/>
<polygon points="961.8,419.2 939.2,431.1 937.4,427.6 929.5,438.5 942.9,438.3 941.1,434.8 963.8,423" fill="#7a7a7a"/>
<text x="1232" y="40.8" class="lbl">D</text>
<path d="M1346.8,46.8 h5 M1346.8,46.8 V254.4 H1761.3 M1346.8,150.6 h5 M1346.8,284 h5 M1346.8,284 V490.3 H1761.3 M1346.8,387.1 h5 M1374.9,254.4 v-2.6 M1391.5,254.4 v-2.6 M1403.3,254.4 v-2.6 M1412.4,254.4 v-2.6 M1419.9,254.4 v-2.6 M1426.2,254.4 v-2.6 M1431.7,254.4 v-2.6 M1436.5,254.4 v-2.6 M1440.8,254.4 v-2.6 M1469.2,254.4 v-2.6 M1485.8,254.4 v-2.6 M1497.6,254.4 v-2.6 M1506.7,254.4 v-2.6 M1514.2,254.4 v-2.6 M1520.5,254.4 v-2.6 M1526,254.4 v-2.6 M1530.8,254.4 v-2.6 M1535.1,254.4 v-4.5 M1563.5,254.4 v-2.6 M1580.1,254.4 v-2.6 M1591.9,254.4 v-2.6 M1601,254.4 v-2.6 M1608.5,254.4 v-2.6 M1614.8,254.4 v-2.6 M1620.3,254.4 v-2.6 M1625.1,254.4 v-2.6 M1629.4,254.4 v-2.6 M1657.8,254.4 v-2.6 M1674.4,254.4 v-2.6 M1686.2,254.4 v-2.6 M1695.3,254.4 v-2.6 M1702.8,254.4 v-2.6 M1709.1,254.4 v-2.6 M1714.6,254.4 v-2.6 M1719.4,254.4 v-2.6 M1723.7,254.4 v-4.5 M1752.1,254.4 v-2.6 M1374.9,490.3 v-2.6 M1391.5,490.3 v-2.6 M1403.3,490.3 v-2.6 M1412.4,490.3 v-2.6 M1419.9,490.3 v-2.6 M1426.2,490.3 v-2.6 M1431.7,490.3 v-2.6 M1436.5,490.3 v-2.6 M1440.8,490.3 v-2.6 M1469.2,490.3 v-2.6 M1485.8,490.3 v-2.6 M1497.6,490.3 v-2.6 M1506.7,490.3 v-2.6 M1514.2,490.3 v-2.6 M1520.5,490.3 v-2.6 M1526,490.3 v-2.6 M1530.8,490.3 v-2.6 M1535.1,490.3 v-4.5 M1563.5,490.3 v-2.6 M1580.1,490.3 v-2.6 M1591.9,490.3 v-2.6 M1601,490.3 v-2.6 M1608.5,490.3 v-2.6 M1614.8,490.3 v-2.6 M1620.3,490.3 v-2.6 M1625.1,490.3 v-2.6 M1629.4,490.3 v-2.6 M1657.8,490.3 v-2.6 M1674.4,490.3 v-2.6 M1686.2,490.3 v-2.6 M1695.3,490.3 v-2.6 M1702.8,490.3 v-2.6 M1709.1,490.3 v-2.6 M1714.6,490.3 v-2.6 M1719.4,490.3 v-2.6 M1723.7,490.3 v-4.5 M1752.1,490.3 v-2.6" fill="none" stroke="#111" stroke-width="2"/>
<text transform="translate(1338.5 57.4) scale(1 1.05)" class="tk" text-anchor="end">0.4</text>
<text transform="translate(1338.5 161.2) scale(1 1.05)" class="tk" text-anchor="end">0.2</text>
<text transform="translate(1338.5 265) scale(1 1.05)" class="tk" text-anchor="end">0</text>
<text transform="translate(1338.5 294.6) scale(1 1.05)" class="tk" text-anchor="end" clip-path="url(#k4)">0.1</text>
<text transform="translate(1338.5 397.8) scale(1 1.05)" class="tk" text-anchor="end">0.05</text>
<text transform="translate(1338.5 500.9) scale(1 1.05)" class="tk" text-anchor="end">0</text>
<text transform="translate(1346.3 526.6) scale(1 1.05)" class="tk" text-anchor="middle">0</text>
<text transform="translate(1509.5 534.6) scale(1 1.05)" class="tk" clip-path="url(#k5)">10<tspan class="sup" dy="-13.2">-2</tspan></text>
<text transform="translate(1701.8 534.6) scale(1 1.05)" class="tk" clip-path="url(#k6)">10<tspan class="sup" dy="-13.2">0</tspan></text>
<text x="1485" y="577.9" class="xl">Activity level <tspan font-style="italic">k</tspan></text>
<text x="1223" y="161.8" class="it">&#916;H</text><text x="1266.5" y="152" class="ast">*</text>
<text x="1223" y="394.7" class="it">&#916;P</text><text x="1264" y="386" class="ast">*</text>
<circle cx="1346.7" cy="94.8" r="8.7" fill="#4b5bd6"/>
<circle cx="1478.5" cy="117.5" r="8.7" fill="#62a6f6"/>
<circle cx="1544.2" cy="50.9" r="8.7" fill="#80e0b4"/>
<circle cx="1572.4" cy="79.8" r="8.7" fill="#a6f864"/>
<circle cx="1638.3" cy="79.8" r="8.7" fill="#d6ec4c"/>
<circle cx="1666.5" cy="104.1" r="8.7" fill="#e8b44a"/>
<circle cx="1732.4" cy="138.7" r="8.7" fill="#dc6a28"/>
<circle cx="1760.8" cy="192.5" r="8.7" fill="#b02c10"/>
<circle cx="1346.5" cy="333.8" r="8.7" fill="#4b5bd6"/>
<circle cx="1478.5" cy="374.2" r="8.7" fill="#62a6f6"/>
<circle cx="1544.2" cy="339.6" r="8.7" fill="#80e0b4"/>
<circle cx="1572.5" cy="333.8" r="8.7" fill="#a6f864"/>
<circle cx="1638.2" cy="319" r="8.7" fill="#d6ec4c"/>
<circle cx="1666.7" cy="352" r="8.7" fill="#e8b44a"/>
<circle cx="1732.7" cy="363.9" r="8.7" fill="#dc6a28"/>
<circle cx="1761.2" cy="443.3" r="8.7" fill="#b02c10"/>
</svg>
</body></html>
